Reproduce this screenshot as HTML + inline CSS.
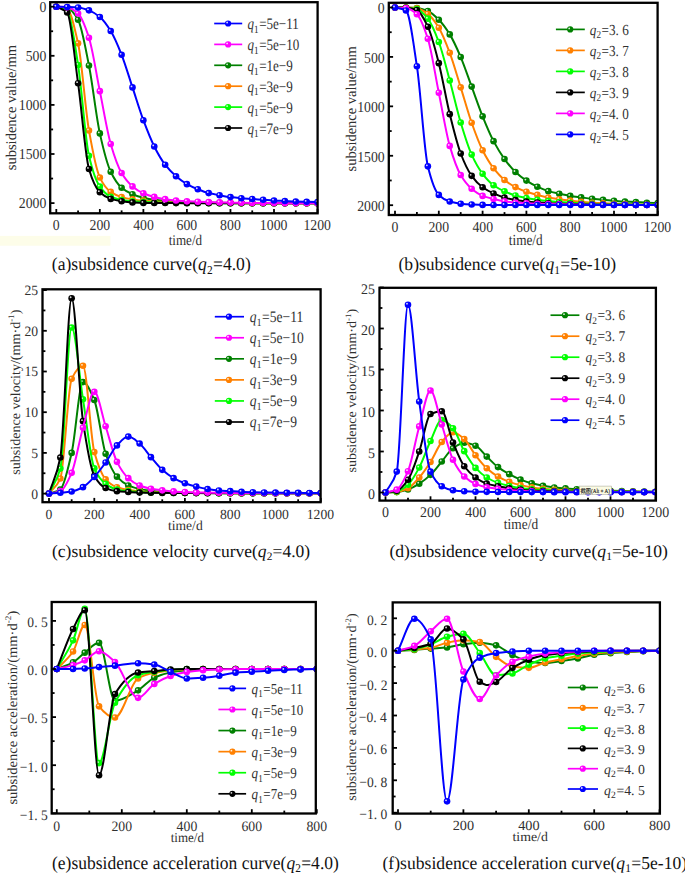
<!DOCTYPE html>
<html><head><meta charset="utf-8"><style>
html,body{margin:0;padding:0;background:#fff;}
svg{display:block;}
text{font-family:"Liberation Serif",serif;text-rendering:geometricPrecision;-webkit-font-smoothing:antialiased;}
</style></head><body>
<svg width="685" height="873" viewBox="0 0 685 873">
<rect x="0" y="0" width="685" height="873" fill="#fff"/>
<rect x="0" y="235.9" width="110.4" height="9.8" fill="#fdfde9"/>
<clipPath id="ca"><rect x="50.20" y="2.20" width="267.40" height="211.10"/></clipPath>
<g clip-path="url(#ca)">
<path d="M56.30,6.70 C59.93,7.03 63.56,7.08 67.19,7.68 C70.81,8.29 74.44,13.39 78.07,19.76 C81.70,26.13 85.33,47.30 88.95,65.52 C92.58,83.74 96.21,117.03 99.84,133.38 C103.47,149.73 107.10,164.24 110.72,171.77 C114.35,179.31 117.98,184.71 121.61,187.78 C125.24,190.86 128.87,192.76 132.50,194.26 C136.12,195.76 139.75,196.87 143.38,197.70 C147.01,198.53 150.64,199.20 154.26,199.66 C157.89,200.13 161.52,200.46 165.15,200.74 C168.78,201.02 172.41,201.22 176.03,201.43 C179.66,201.64 183.29,201.87 186.92,202.03 C190.55,202.19 194.18,202.32 197.81,202.43 C201.43,202.54 205.06,202.62 208.69,202.69 C212.32,202.76 215.95,202.82 219.57,202.86 C223.20,202.91 226.83,202.95 230.46,202.98 C234.09,203.01 237.72,203.03 241.35,203.05 C244.97,203.07 248.60,203.09 252.23,203.10 C255.86,203.12 259.49,203.13 263.12,203.14 C266.74,203.14 270.37,203.15 274.00,203.16 C277.63,203.16 281.26,203.17 284.88,203.17 C288.51,203.17 292.14,203.18 295.77,203.18 C299.40,203.18 303.03,203.18 306.66,203.19 C310.28,203.19 313.91,203.19 317.54,203.19" fill="none" stroke="#008000" stroke-width="2.0" stroke-linejoin="round" stroke-linecap="round"/>
<circle cx="56.30" cy="6.70" r="3.3" fill="#008000"/><circle cx="55.30" cy="5.70" r="0.9" fill="#ffffff" opacity="0.85"/>
<circle cx="67.19" cy="7.68" r="3.3" fill="#008000"/><circle cx="66.19" cy="6.68" r="0.9" fill="#ffffff" opacity="0.85"/>
<circle cx="78.07" cy="19.76" r="3.3" fill="#008000"/><circle cx="77.07" cy="18.76" r="0.9" fill="#ffffff" opacity="0.85"/>
<circle cx="88.95" cy="65.52" r="3.3" fill="#008000"/><circle cx="87.95" cy="64.52" r="0.9" fill="#ffffff" opacity="0.85"/>
<circle cx="99.84" cy="133.38" r="3.3" fill="#008000"/><circle cx="98.84" cy="132.38" r="0.9" fill="#ffffff" opacity="0.85"/>
<circle cx="110.72" cy="171.77" r="3.3" fill="#008000"/><circle cx="109.72" cy="170.77" r="0.9" fill="#ffffff" opacity="0.85"/>
<circle cx="121.61" cy="187.78" r="3.3" fill="#008000"/><circle cx="120.61" cy="186.78" r="0.9" fill="#ffffff" opacity="0.85"/>
<circle cx="132.50" cy="194.26" r="3.3" fill="#008000"/><circle cx="131.50" cy="193.26" r="0.9" fill="#ffffff" opacity="0.85"/>
<circle cx="143.38" cy="197.70" r="3.3" fill="#008000"/><circle cx="142.38" cy="196.70" r="0.9" fill="#ffffff" opacity="0.85"/>
<circle cx="154.26" cy="199.66" r="3.3" fill="#008000"/><circle cx="153.26" cy="198.66" r="0.9" fill="#ffffff" opacity="0.85"/>
<circle cx="165.15" cy="200.74" r="3.3" fill="#008000"/><circle cx="164.15" cy="199.74" r="0.9" fill="#ffffff" opacity="0.85"/>
<circle cx="176.03" cy="201.43" r="3.3" fill="#008000"/><circle cx="175.03" cy="200.43" r="0.9" fill="#ffffff" opacity="0.85"/>
<circle cx="186.92" cy="202.03" r="3.3" fill="#008000"/><circle cx="185.92" cy="201.03" r="0.9" fill="#ffffff" opacity="0.85"/>
<circle cx="197.81" cy="202.43" r="3.3" fill="#008000"/><circle cx="196.81" cy="201.43" r="0.9" fill="#ffffff" opacity="0.85"/>
<circle cx="208.69" cy="202.69" r="3.3" fill="#008000"/><circle cx="207.69" cy="201.69" r="0.9" fill="#ffffff" opacity="0.85"/>
<circle cx="219.57" cy="202.86" r="3.3" fill="#008000"/><circle cx="218.57" cy="201.86" r="0.9" fill="#ffffff" opacity="0.85"/>
<circle cx="230.46" cy="202.98" r="3.3" fill="#008000"/><circle cx="229.46" cy="201.98" r="0.9" fill="#ffffff" opacity="0.85"/>
<circle cx="241.35" cy="203.05" r="3.3" fill="#008000"/><circle cx="240.35" cy="202.05" r="0.9" fill="#ffffff" opacity="0.85"/>
<circle cx="252.23" cy="203.10" r="3.3" fill="#008000"/><circle cx="251.23" cy="202.10" r="0.9" fill="#ffffff" opacity="0.85"/>
<circle cx="263.12" cy="203.14" r="3.3" fill="#008000"/><circle cx="262.12" cy="202.14" r="0.9" fill="#ffffff" opacity="0.85"/>
<circle cx="274.00" cy="203.16" r="3.3" fill="#008000"/><circle cx="273.00" cy="202.16" r="0.9" fill="#ffffff" opacity="0.85"/>
<circle cx="284.88" cy="203.17" r="3.3" fill="#008000"/><circle cx="283.88" cy="202.17" r="0.9" fill="#ffffff" opacity="0.85"/>
<circle cx="295.77" cy="203.18" r="3.3" fill="#008000"/><circle cx="294.77" cy="202.18" r="0.9" fill="#ffffff" opacity="0.85"/>
<circle cx="306.66" cy="203.19" r="3.3" fill="#008000"/><circle cx="305.66" cy="202.19" r="0.9" fill="#ffffff" opacity="0.85"/>
<circle cx="317.54" cy="203.19" r="3.3" fill="#008000"/><circle cx="316.54" cy="202.19" r="0.9" fill="#ffffff" opacity="0.85"/>
<path d="M56.30,6.70 C59.93,7.52 63.56,7.63 67.19,9.16 C70.81,10.68 74.44,26.97 78.07,43.33 C81.70,59.69 85.33,110.04 88.95,130.43 C92.58,150.82 96.21,170.24 99.84,177.57 C103.47,184.90 107.10,189.36 110.72,191.91 C114.35,194.45 117.98,196.06 121.61,197.11 C125.24,198.16 128.87,198.82 132.50,199.37 C136.12,199.91 139.75,200.32 143.38,200.64 C147.01,200.97 150.64,201.20 154.26,201.43 C157.89,201.66 161.52,201.87 165.15,202.03 C168.78,202.19 172.41,202.32 176.03,202.43 C179.66,202.54 183.29,202.62 186.92,202.69 C190.55,202.76 194.18,202.82 197.81,202.86 C201.43,202.91 205.06,202.95 208.69,202.98 C212.32,203.01 215.95,203.03 219.57,203.05 C223.20,203.07 226.83,203.09 230.46,203.10 C234.09,203.12 237.72,203.13 241.35,203.14 C244.97,203.14 248.60,203.15 252.23,203.16 C255.86,203.16 259.49,203.17 263.12,203.17 C266.74,203.17 270.37,203.18 274.00,203.18 C277.63,203.18 281.26,203.18 284.88,203.19 C288.51,203.19 292.14,203.19 295.77,203.19 C299.40,203.19 303.03,203.19 306.66,203.19 C310.28,203.19 313.91,203.19 317.54,203.19" fill="none" stroke="#ff8000" stroke-width="2.0" stroke-linejoin="round" stroke-linecap="round"/>
<circle cx="56.30" cy="6.70" r="3.3" fill="#ff8000"/><circle cx="55.30" cy="5.70" r="0.9" fill="#ffffff" opacity="0.85"/>
<circle cx="67.19" cy="9.16" r="3.3" fill="#ff8000"/><circle cx="66.19" cy="8.16" r="0.9" fill="#ffffff" opacity="0.85"/>
<circle cx="78.07" cy="43.33" r="3.3" fill="#ff8000"/><circle cx="77.07" cy="42.33" r="0.9" fill="#ffffff" opacity="0.85"/>
<circle cx="88.95" cy="130.43" r="3.3" fill="#ff8000"/><circle cx="87.95" cy="129.43" r="0.9" fill="#ffffff" opacity="0.85"/>
<circle cx="99.84" cy="177.57" r="3.3" fill="#ff8000"/><circle cx="98.84" cy="176.57" r="0.9" fill="#ffffff" opacity="0.85"/>
<circle cx="110.72" cy="191.91" r="3.3" fill="#ff8000"/><circle cx="109.72" cy="190.91" r="0.9" fill="#ffffff" opacity="0.85"/>
<circle cx="121.61" cy="197.11" r="3.3" fill="#ff8000"/><circle cx="120.61" cy="196.11" r="0.9" fill="#ffffff" opacity="0.85"/>
<circle cx="132.50" cy="199.37" r="3.3" fill="#ff8000"/><circle cx="131.50" cy="198.37" r="0.9" fill="#ffffff" opacity="0.85"/>
<circle cx="143.38" cy="200.64" r="3.3" fill="#ff8000"/><circle cx="142.38" cy="199.64" r="0.9" fill="#ffffff" opacity="0.85"/>
<circle cx="154.26" cy="201.43" r="3.3" fill="#ff8000"/><circle cx="153.26" cy="200.43" r="0.9" fill="#ffffff" opacity="0.85"/>
<circle cx="165.15" cy="202.03" r="3.3" fill="#ff8000"/><circle cx="164.15" cy="201.03" r="0.9" fill="#ffffff" opacity="0.85"/>
<circle cx="176.03" cy="202.43" r="3.3" fill="#ff8000"/><circle cx="175.03" cy="201.43" r="0.9" fill="#ffffff" opacity="0.85"/>
<circle cx="186.92" cy="202.69" r="3.3" fill="#ff8000"/><circle cx="185.92" cy="201.69" r="0.9" fill="#ffffff" opacity="0.85"/>
<circle cx="197.81" cy="202.86" r="3.3" fill="#ff8000"/><circle cx="196.81" cy="201.86" r="0.9" fill="#ffffff" opacity="0.85"/>
<circle cx="208.69" cy="202.98" r="3.3" fill="#ff8000"/><circle cx="207.69" cy="201.98" r="0.9" fill="#ffffff" opacity="0.85"/>
<circle cx="219.57" cy="203.05" r="3.3" fill="#ff8000"/><circle cx="218.57" cy="202.05" r="0.9" fill="#ffffff" opacity="0.85"/>
<circle cx="230.46" cy="203.10" r="3.3" fill="#ff8000"/><circle cx="229.46" cy="202.10" r="0.9" fill="#ffffff" opacity="0.85"/>
<circle cx="241.35" cy="203.14" r="3.3" fill="#ff8000"/><circle cx="240.35" cy="202.14" r="0.9" fill="#ffffff" opacity="0.85"/>
<circle cx="252.23" cy="203.16" r="3.3" fill="#ff8000"/><circle cx="251.23" cy="202.16" r="0.9" fill="#ffffff" opacity="0.85"/>
<circle cx="263.12" cy="203.17" r="3.3" fill="#ff8000"/><circle cx="262.12" cy="202.17" r="0.9" fill="#ffffff" opacity="0.85"/>
<circle cx="274.00" cy="203.18" r="3.3" fill="#ff8000"/><circle cx="273.00" cy="202.18" r="0.9" fill="#ffffff" opacity="0.85"/>
<circle cx="284.88" cy="203.19" r="3.3" fill="#ff8000"/><circle cx="283.88" cy="202.19" r="0.9" fill="#ffffff" opacity="0.85"/>
<circle cx="295.77" cy="203.19" r="3.3" fill="#ff8000"/><circle cx="294.77" cy="202.19" r="0.9" fill="#ffffff" opacity="0.85"/>
<circle cx="306.66" cy="203.19" r="3.3" fill="#ff8000"/><circle cx="305.66" cy="202.19" r="0.9" fill="#ffffff" opacity="0.85"/>
<circle cx="317.54" cy="203.19" r="3.3" fill="#ff8000"/><circle cx="316.54" cy="202.19" r="0.9" fill="#ffffff" opacity="0.85"/>
<path d="M56.30,6.70 C59.93,8.01 63.56,8.19 67.19,10.63 C70.81,13.07 74.44,42.28 78.07,64.93 C81.70,87.59 85.33,140.42 88.95,155.77 C92.58,171.11 96.21,181.52 99.84,186.60 C103.47,191.68 107.10,195.08 110.72,196.72 C114.35,198.35 117.98,199.31 121.61,199.96 C125.24,200.60 128.87,201.06 132.50,201.33 C136.12,201.61 139.75,201.75 143.38,201.92 C147.01,202.09 150.64,202.24 154.26,202.36 C157.89,202.47 161.52,202.57 165.15,202.64 C168.78,202.72 172.41,202.78 176.03,202.83 C179.66,202.88 183.29,202.92 186.92,202.96 C190.55,202.99 194.18,203.02 197.81,203.04 C201.43,203.06 205.06,203.08 208.69,203.09 C212.32,203.11 215.95,203.12 219.57,203.13 C223.20,203.14 226.83,203.15 230.46,203.15 C234.09,203.16 237.72,203.16 241.35,203.17 C244.97,203.17 248.60,203.18 252.23,203.18 C255.86,203.18 259.49,203.18 263.12,203.19 C266.74,203.19 270.37,203.19 274.00,203.19 C277.63,203.19 281.26,203.19 284.88,203.19 C288.51,203.19 292.14,203.19 295.77,203.19 C299.40,203.19 303.03,203.20 306.66,203.20 C310.28,203.20 313.91,203.20 317.54,203.20" fill="none" stroke="#00ff00" stroke-width="2.0" stroke-linejoin="round" stroke-linecap="round"/>
<circle cx="56.30" cy="6.70" r="3.3" fill="#00ff00"/><circle cx="55.30" cy="5.70" r="0.9" fill="#ffffff" opacity="0.85"/>
<circle cx="67.19" cy="10.63" r="3.3" fill="#00ff00"/><circle cx="66.19" cy="9.63" r="0.9" fill="#ffffff" opacity="0.85"/>
<circle cx="78.07" cy="64.93" r="3.3" fill="#00ff00"/><circle cx="77.07" cy="63.93" r="0.9" fill="#ffffff" opacity="0.85"/>
<circle cx="88.95" cy="155.77" r="3.3" fill="#00ff00"/><circle cx="87.95" cy="154.77" r="0.9" fill="#ffffff" opacity="0.85"/>
<circle cx="99.84" cy="186.60" r="3.3" fill="#00ff00"/><circle cx="98.84" cy="185.60" r="0.9" fill="#ffffff" opacity="0.85"/>
<circle cx="110.72" cy="196.72" r="3.3" fill="#00ff00"/><circle cx="109.72" cy="195.72" r="0.9" fill="#ffffff" opacity="0.85"/>
<circle cx="121.61" cy="199.96" r="3.3" fill="#00ff00"/><circle cx="120.61" cy="198.96" r="0.9" fill="#ffffff" opacity="0.85"/>
<circle cx="132.50" cy="201.33" r="3.3" fill="#00ff00"/><circle cx="131.50" cy="200.33" r="0.9" fill="#ffffff" opacity="0.85"/>
<circle cx="143.38" cy="201.92" r="3.3" fill="#00ff00"/><circle cx="142.38" cy="200.92" r="0.9" fill="#ffffff" opacity="0.85"/>
<circle cx="154.26" cy="202.36" r="3.3" fill="#00ff00"/><circle cx="153.26" cy="201.36" r="0.9" fill="#ffffff" opacity="0.85"/>
<circle cx="165.15" cy="202.64" r="3.3" fill="#00ff00"/><circle cx="164.15" cy="201.64" r="0.9" fill="#ffffff" opacity="0.85"/>
<circle cx="176.03" cy="202.83" r="3.3" fill="#00ff00"/><circle cx="175.03" cy="201.83" r="0.9" fill="#ffffff" opacity="0.85"/>
<circle cx="186.92" cy="202.96" r="3.3" fill="#00ff00"/><circle cx="185.92" cy="201.96" r="0.9" fill="#ffffff" opacity="0.85"/>
<circle cx="197.81" cy="203.04" r="3.3" fill="#00ff00"/><circle cx="196.81" cy="202.04" r="0.9" fill="#ffffff" opacity="0.85"/>
<circle cx="208.69" cy="203.09" r="3.3" fill="#00ff00"/><circle cx="207.69" cy="202.09" r="0.9" fill="#ffffff" opacity="0.85"/>
<circle cx="219.57" cy="203.13" r="3.3" fill="#00ff00"/><circle cx="218.57" cy="202.13" r="0.9" fill="#ffffff" opacity="0.85"/>
<circle cx="230.46" cy="203.15" r="3.3" fill="#00ff00"/><circle cx="229.46" cy="202.15" r="0.9" fill="#ffffff" opacity="0.85"/>
<circle cx="241.35" cy="203.17" r="3.3" fill="#00ff00"/><circle cx="240.35" cy="202.17" r="0.9" fill="#ffffff" opacity="0.85"/>
<circle cx="252.23" cy="203.18" r="3.3" fill="#00ff00"/><circle cx="251.23" cy="202.18" r="0.9" fill="#ffffff" opacity="0.85"/>
<circle cx="263.12" cy="203.19" r="3.3" fill="#00ff00"/><circle cx="262.12" cy="202.19" r="0.9" fill="#ffffff" opacity="0.85"/>
<circle cx="274.00" cy="203.19" r="3.3" fill="#00ff00"/><circle cx="273.00" cy="202.19" r="0.9" fill="#ffffff" opacity="0.85"/>
<circle cx="284.88" cy="203.19" r="3.3" fill="#00ff00"/><circle cx="283.88" cy="202.19" r="0.9" fill="#ffffff" opacity="0.85"/>
<circle cx="295.77" cy="203.19" r="3.3" fill="#00ff00"/><circle cx="294.77" cy="202.19" r="0.9" fill="#ffffff" opacity="0.85"/>
<circle cx="306.66" cy="203.20" r="3.3" fill="#00ff00"/><circle cx="305.66" cy="202.20" r="0.9" fill="#ffffff" opacity="0.85"/>
<circle cx="317.54" cy="203.20" r="3.3" fill="#00ff00"/><circle cx="316.54" cy="202.20" r="0.9" fill="#ffffff" opacity="0.85"/>
<path d="M56.30,6.70 C59.93,8.63 63.56,8.92 67.19,12.49 C70.81,16.06 74.44,57.37 78.07,83.20 C81.70,109.03 85.33,156.72 88.95,168.93 C92.58,181.13 96.21,188.74 99.84,192.20 C103.47,195.66 107.10,197.72 110.72,198.88 C114.35,200.04 117.98,200.71 121.61,201.23 C125.24,201.76 128.87,202.18 132.50,202.41 C136.12,202.64 139.75,202.85 143.38,202.90 C147.01,202.96 150.64,202.98 154.26,203.00 C157.89,203.03 161.52,203.05 165.15,203.07 C168.78,203.09 172.41,203.10 176.03,203.11 C179.66,203.13 183.29,203.13 186.92,203.14 C190.55,203.15 194.18,203.16 197.81,203.16 C201.43,203.17 205.06,203.17 208.69,203.17 C212.32,203.18 215.95,203.18 219.57,203.18 C223.20,203.18 226.83,203.19 230.46,203.19 C234.09,203.19 237.72,203.19 241.35,203.19 C244.97,203.19 248.60,203.19 252.23,203.19 C255.86,203.19 259.49,203.19 263.12,203.20 C266.74,203.20 270.37,203.20 274.00,203.20 C277.63,203.20 281.26,203.20 284.88,203.20 C288.51,203.20 292.14,203.20 295.77,203.20 C299.40,203.20 303.03,203.20 306.66,203.20 C310.28,203.20 313.91,203.20 317.54,203.20" fill="none" stroke="#000000" stroke-width="2.0" stroke-linejoin="round" stroke-linecap="round"/>
<circle cx="56.30" cy="6.70" r="3.3" fill="#000000"/><circle cx="55.30" cy="5.70" r="0.9" fill="#ffffff" opacity="0.85"/>
<circle cx="67.19" cy="12.49" r="3.3" fill="#000000"/><circle cx="66.19" cy="11.49" r="0.9" fill="#ffffff" opacity="0.85"/>
<circle cx="78.07" cy="83.20" r="3.3" fill="#000000"/><circle cx="77.07" cy="82.20" r="0.9" fill="#ffffff" opacity="0.85"/>
<circle cx="88.95" cy="168.93" r="3.3" fill="#000000"/><circle cx="87.95" cy="167.93" r="0.9" fill="#ffffff" opacity="0.85"/>
<circle cx="99.84" cy="192.20" r="3.3" fill="#000000"/><circle cx="98.84" cy="191.20" r="0.9" fill="#ffffff" opacity="0.85"/>
<circle cx="110.72" cy="198.88" r="3.3" fill="#000000"/><circle cx="109.72" cy="197.88" r="0.9" fill="#ffffff" opacity="0.85"/>
<circle cx="121.61" cy="201.23" r="3.3" fill="#000000"/><circle cx="120.61" cy="200.23" r="0.9" fill="#ffffff" opacity="0.85"/>
<circle cx="132.50" cy="202.41" r="3.3" fill="#000000"/><circle cx="131.50" cy="201.41" r="0.9" fill="#ffffff" opacity="0.85"/>
<circle cx="143.38" cy="202.90" r="3.3" fill="#000000"/><circle cx="142.38" cy="201.90" r="0.9" fill="#ffffff" opacity="0.85"/>
<circle cx="154.26" cy="203.00" r="3.3" fill="#000000"/><circle cx="153.26" cy="202.00" r="0.9" fill="#ffffff" opacity="0.85"/>
<circle cx="165.15" cy="203.07" r="3.3" fill="#000000"/><circle cx="164.15" cy="202.07" r="0.9" fill="#ffffff" opacity="0.85"/>
<circle cx="176.03" cy="203.11" r="3.3" fill="#000000"/><circle cx="175.03" cy="202.11" r="0.9" fill="#ffffff" opacity="0.85"/>
<circle cx="186.92" cy="203.14" r="3.3" fill="#000000"/><circle cx="185.92" cy="202.14" r="0.9" fill="#ffffff" opacity="0.85"/>
<circle cx="197.81" cy="203.16" r="3.3" fill="#000000"/><circle cx="196.81" cy="202.16" r="0.9" fill="#ffffff" opacity="0.85"/>
<circle cx="208.69" cy="203.17" r="3.3" fill="#000000"/><circle cx="207.69" cy="202.17" r="0.9" fill="#ffffff" opacity="0.85"/>
<circle cx="219.57" cy="203.18" r="3.3" fill="#000000"/><circle cx="218.57" cy="202.18" r="0.9" fill="#ffffff" opacity="0.85"/>
<circle cx="230.46" cy="203.19" r="3.3" fill="#000000"/><circle cx="229.46" cy="202.19" r="0.9" fill="#ffffff" opacity="0.85"/>
<circle cx="241.35" cy="203.19" r="3.3" fill="#000000"/><circle cx="240.35" cy="202.19" r="0.9" fill="#ffffff" opacity="0.85"/>
<circle cx="252.23" cy="203.19" r="3.3" fill="#000000"/><circle cx="251.23" cy="202.19" r="0.9" fill="#ffffff" opacity="0.85"/>
<circle cx="263.12" cy="203.20" r="3.3" fill="#000000"/><circle cx="262.12" cy="202.20" r="0.9" fill="#ffffff" opacity="0.85"/>
<circle cx="274.00" cy="203.20" r="3.3" fill="#000000"/><circle cx="273.00" cy="202.20" r="0.9" fill="#ffffff" opacity="0.85"/>
<circle cx="284.88" cy="203.20" r="3.3" fill="#000000"/><circle cx="283.88" cy="202.20" r="0.9" fill="#ffffff" opacity="0.85"/>
<circle cx="295.77" cy="203.20" r="3.3" fill="#000000"/><circle cx="294.77" cy="202.20" r="0.9" fill="#ffffff" opacity="0.85"/>
<circle cx="306.66" cy="203.20" r="3.3" fill="#000000"/><circle cx="305.66" cy="202.20" r="0.9" fill="#ffffff" opacity="0.85"/>
<circle cx="317.54" cy="203.20" r="3.3" fill="#000000"/><circle cx="316.54" cy="202.20" r="0.9" fill="#ffffff" opacity="0.85"/>
<path d="M56.30,6.70 C59.93,6.86 63.56,6.89 67.19,7.19 C70.81,7.49 74.44,10.21 78.07,13.57 C81.70,16.94 85.33,26.64 88.95,37.73 C92.58,48.82 96.21,73.44 99.84,91.15 C103.47,108.86 107.10,131.48 110.72,143.98 C114.35,156.48 117.98,166.95 121.61,173.05 C125.24,179.15 128.87,183.38 132.50,186.41 C136.12,189.43 139.75,191.70 143.38,193.28 C147.01,194.86 150.64,195.98 154.26,196.91 C157.89,197.84 161.52,198.60 165.15,199.17 C168.78,199.74 172.41,200.21 176.03,200.55 C179.66,200.88 183.29,201.16 186.92,201.33 C190.55,201.51 194.18,201.59 197.81,201.73 C201.43,201.86 205.06,202.01 208.69,202.12 C212.32,202.23 215.95,202.33 219.57,202.41 C223.20,202.49 226.83,202.54 230.46,202.61 C234.09,202.67 237.72,202.76 241.35,202.81 C244.97,202.85 248.60,202.87 252.23,202.90 C255.86,202.94 259.49,202.97 263.12,203.00 C266.74,203.03 270.37,203.07 274.00,203.10 C277.63,203.13 281.26,203.17 284.88,203.20 C288.51,203.23 292.14,203.30 295.77,203.30 C299.40,203.30 303.03,203.30 306.66,203.30 C310.28,203.30 313.91,203.30 317.54,203.30" fill="none" stroke="#ff00ff" stroke-width="2.0" stroke-linejoin="round" stroke-linecap="round"/>
<circle cx="56.30" cy="6.70" r="3.3" fill="#ff00ff"/><circle cx="55.30" cy="5.70" r="0.9" fill="#ffffff" opacity="0.85"/>
<circle cx="67.19" cy="7.19" r="3.3" fill="#ff00ff"/><circle cx="66.19" cy="6.19" r="0.9" fill="#ffffff" opacity="0.85"/>
<circle cx="78.07" cy="13.57" r="3.3" fill="#ff00ff"/><circle cx="77.07" cy="12.57" r="0.9" fill="#ffffff" opacity="0.85"/>
<circle cx="88.95" cy="37.73" r="3.3" fill="#ff00ff"/><circle cx="87.95" cy="36.73" r="0.9" fill="#ffffff" opacity="0.85"/>
<circle cx="99.84" cy="91.15" r="3.3" fill="#ff00ff"/><circle cx="98.84" cy="90.15" r="0.9" fill="#ffffff" opacity="0.85"/>
<circle cx="110.72" cy="143.98" r="3.3" fill="#ff00ff"/><circle cx="109.72" cy="142.98" r="0.9" fill="#ffffff" opacity="0.85"/>
<circle cx="121.61" cy="173.05" r="3.3" fill="#ff00ff"/><circle cx="120.61" cy="172.05" r="0.9" fill="#ffffff" opacity="0.85"/>
<circle cx="132.50" cy="186.41" r="3.3" fill="#ff00ff"/><circle cx="131.50" cy="185.41" r="0.9" fill="#ffffff" opacity="0.85"/>
<circle cx="143.38" cy="193.28" r="3.3" fill="#ff00ff"/><circle cx="142.38" cy="192.28" r="0.9" fill="#ffffff" opacity="0.85"/>
<circle cx="154.26" cy="196.91" r="3.3" fill="#ff00ff"/><circle cx="153.26" cy="195.91" r="0.9" fill="#ffffff" opacity="0.85"/>
<circle cx="165.15" cy="199.17" r="3.3" fill="#ff00ff"/><circle cx="164.15" cy="198.17" r="0.9" fill="#ffffff" opacity="0.85"/>
<circle cx="176.03" cy="200.55" r="3.3" fill="#ff00ff"/><circle cx="175.03" cy="199.55" r="0.9" fill="#ffffff" opacity="0.85"/>
<circle cx="186.92" cy="201.33" r="3.3" fill="#ff00ff"/><circle cx="185.92" cy="200.33" r="0.9" fill="#ffffff" opacity="0.85"/>
<circle cx="197.81" cy="201.73" r="3.3" fill="#ff00ff"/><circle cx="196.81" cy="200.73" r="0.9" fill="#ffffff" opacity="0.85"/>
<circle cx="208.69" cy="202.12" r="3.3" fill="#ff00ff"/><circle cx="207.69" cy="201.12" r="0.9" fill="#ffffff" opacity="0.85"/>
<circle cx="219.57" cy="202.41" r="3.3" fill="#ff00ff"/><circle cx="218.57" cy="201.41" r="0.9" fill="#ffffff" opacity="0.85"/>
<circle cx="230.46" cy="202.61" r="3.3" fill="#ff00ff"/><circle cx="229.46" cy="201.61" r="0.9" fill="#ffffff" opacity="0.85"/>
<circle cx="241.35" cy="202.81" r="3.3" fill="#ff00ff"/><circle cx="240.35" cy="201.81" r="0.9" fill="#ffffff" opacity="0.85"/>
<circle cx="252.23" cy="202.90" r="3.3" fill="#ff00ff"/><circle cx="251.23" cy="201.90" r="0.9" fill="#ffffff" opacity="0.85"/>
<circle cx="263.12" cy="203.00" r="3.3" fill="#ff00ff"/><circle cx="262.12" cy="202.00" r="0.9" fill="#ffffff" opacity="0.85"/>
<circle cx="274.00" cy="203.10" r="3.3" fill="#ff00ff"/><circle cx="273.00" cy="202.10" r="0.9" fill="#ffffff" opacity="0.85"/>
<circle cx="284.88" cy="203.20" r="3.3" fill="#ff00ff"/><circle cx="283.88" cy="202.20" r="0.9" fill="#ffffff" opacity="0.85"/>
<circle cx="295.77" cy="203.30" r="3.3" fill="#ff00ff"/><circle cx="294.77" cy="202.30" r="0.9" fill="#ffffff" opacity="0.85"/>
<circle cx="306.66" cy="203.30" r="3.3" fill="#ff00ff"/><circle cx="305.66" cy="202.30" r="0.9" fill="#ffffff" opacity="0.85"/>
<circle cx="317.54" cy="203.30" r="3.3" fill="#ff00ff"/><circle cx="316.54" cy="202.30" r="0.9" fill="#ffffff" opacity="0.85"/>
<path d="M56.30,6.70 C59.93,6.80 63.56,6.87 67.19,6.99 C70.81,7.12 74.44,7.21 78.07,7.49 C81.70,7.76 85.33,9.00 88.95,10.33 C92.58,11.66 96.21,13.99 99.84,17.01 C103.47,20.03 107.10,25.17 110.72,31.05 C114.35,36.94 117.98,45.65 121.61,54.82 C125.24,63.98 128.87,76.52 132.50,87.42 C136.12,98.32 139.75,110.51 143.38,120.22 C147.01,129.93 150.64,139.26 154.26,146.44 C157.89,153.62 161.52,159.98 165.15,164.70 C168.78,169.43 172.41,173.17 176.03,176.29 C179.66,179.41 183.29,182.08 186.92,184.15 C190.55,186.21 194.18,187.79 197.81,189.25 C201.43,190.71 205.06,192.16 208.69,193.08 C212.32,194.00 215.95,194.58 219.57,195.24 C223.20,195.91 226.83,196.65 230.46,197.11 C234.09,197.57 237.72,197.89 241.35,198.19 C244.97,198.49 248.60,198.71 252.23,198.98 C255.86,199.24 259.49,199.50 263.12,199.76 C266.74,200.02 270.37,200.35 274.00,200.55 C277.63,200.75 281.26,200.87 284.88,201.04 C288.51,201.20 292.14,201.41 295.77,201.53 C299.40,201.65 303.03,201.73 306.66,201.82 C310.28,201.92 313.91,202.02 317.54,202.12" fill="none" stroke="#0000ff" stroke-width="2.0" stroke-linejoin="round" stroke-linecap="round"/>
<circle cx="56.30" cy="6.70" r="3.3" fill="#0000ff"/><circle cx="55.30" cy="5.70" r="0.9" fill="#ffffff" opacity="0.85"/>
<circle cx="67.19" cy="6.99" r="3.3" fill="#0000ff"/><circle cx="66.19" cy="5.99" r="0.9" fill="#ffffff" opacity="0.85"/>
<circle cx="78.07" cy="7.49" r="3.3" fill="#0000ff"/><circle cx="77.07" cy="6.49" r="0.9" fill="#ffffff" opacity="0.85"/>
<circle cx="88.95" cy="10.33" r="3.3" fill="#0000ff"/><circle cx="87.95" cy="9.33" r="0.9" fill="#ffffff" opacity="0.85"/>
<circle cx="99.84" cy="17.01" r="3.3" fill="#0000ff"/><circle cx="98.84" cy="16.01" r="0.9" fill="#ffffff" opacity="0.85"/>
<circle cx="110.72" cy="31.05" r="3.3" fill="#0000ff"/><circle cx="109.72" cy="30.05" r="0.9" fill="#ffffff" opacity="0.85"/>
<circle cx="121.61" cy="54.82" r="3.3" fill="#0000ff"/><circle cx="120.61" cy="53.82" r="0.9" fill="#ffffff" opacity="0.85"/>
<circle cx="132.50" cy="87.42" r="3.3" fill="#0000ff"/><circle cx="131.50" cy="86.42" r="0.9" fill="#ffffff" opacity="0.85"/>
<circle cx="143.38" cy="120.22" r="3.3" fill="#0000ff"/><circle cx="142.38" cy="119.22" r="0.9" fill="#ffffff" opacity="0.85"/>
<circle cx="154.26" cy="146.44" r="3.3" fill="#0000ff"/><circle cx="153.26" cy="145.44" r="0.9" fill="#ffffff" opacity="0.85"/>
<circle cx="165.15" cy="164.70" r="3.3" fill="#0000ff"/><circle cx="164.15" cy="163.70" r="0.9" fill="#ffffff" opacity="0.85"/>
<circle cx="176.03" cy="176.29" r="3.3" fill="#0000ff"/><circle cx="175.03" cy="175.29" r="0.9" fill="#ffffff" opacity="0.85"/>
<circle cx="186.92" cy="184.15" r="3.3" fill="#0000ff"/><circle cx="185.92" cy="183.15" r="0.9" fill="#ffffff" opacity="0.85"/>
<circle cx="197.81" cy="189.25" r="3.3" fill="#0000ff"/><circle cx="196.81" cy="188.25" r="0.9" fill="#ffffff" opacity="0.85"/>
<circle cx="208.69" cy="193.08" r="3.3" fill="#0000ff"/><circle cx="207.69" cy="192.08" r="0.9" fill="#ffffff" opacity="0.85"/>
<circle cx="219.57" cy="195.24" r="3.3" fill="#0000ff"/><circle cx="218.57" cy="194.24" r="0.9" fill="#ffffff" opacity="0.85"/>
<circle cx="230.46" cy="197.11" r="3.3" fill="#0000ff"/><circle cx="229.46" cy="196.11" r="0.9" fill="#ffffff" opacity="0.85"/>
<circle cx="241.35" cy="198.19" r="3.3" fill="#0000ff"/><circle cx="240.35" cy="197.19" r="0.9" fill="#ffffff" opacity="0.85"/>
<circle cx="252.23" cy="198.98" r="3.3" fill="#0000ff"/><circle cx="251.23" cy="197.98" r="0.9" fill="#ffffff" opacity="0.85"/>
<circle cx="263.12" cy="199.76" r="3.3" fill="#0000ff"/><circle cx="262.12" cy="198.76" r="0.9" fill="#ffffff" opacity="0.85"/>
<circle cx="274.00" cy="200.55" r="3.3" fill="#0000ff"/><circle cx="273.00" cy="199.55" r="0.9" fill="#ffffff" opacity="0.85"/>
<circle cx="284.88" cy="201.04" r="3.3" fill="#0000ff"/><circle cx="283.88" cy="200.04" r="0.9" fill="#ffffff" opacity="0.85"/>
<circle cx="295.77" cy="201.53" r="3.3" fill="#0000ff"/><circle cx="294.77" cy="200.53" r="0.9" fill="#ffffff" opacity="0.85"/>
<circle cx="306.66" cy="201.82" r="3.3" fill="#0000ff"/><circle cx="305.66" cy="200.82" r="0.9" fill="#ffffff" opacity="0.85"/>
<circle cx="317.54" cy="202.12" r="3.3" fill="#0000ff"/><circle cx="316.54" cy="201.12" r="0.9" fill="#ffffff" opacity="0.85"/>
</g>
<rect x="50.20" y="2.20" width="267.40" height="211.10" fill="none" stroke="#000" stroke-width="2.3"/>
<line x1="56.30" y1="213.30" x2="56.30" y2="209.00" stroke="#000" stroke-width="1.8"/>
<line x1="99.84" y1="213.30" x2="99.84" y2="209.00" stroke="#000" stroke-width="1.8"/>
<line x1="143.38" y1="213.30" x2="143.38" y2="209.00" stroke="#000" stroke-width="1.8"/>
<line x1="186.92" y1="213.30" x2="186.92" y2="209.00" stroke="#000" stroke-width="1.8"/>
<line x1="230.46" y1="213.30" x2="230.46" y2="209.00" stroke="#000" stroke-width="1.8"/>
<line x1="274.00" y1="213.30" x2="274.00" y2="209.00" stroke="#000" stroke-width="1.8"/>
<line x1="317.54" y1="213.30" x2="317.54" y2="209.00" stroke="#000" stroke-width="1.8"/>
<line x1="78.07" y1="213.30" x2="78.07" y2="210.40" stroke="#000" stroke-width="1.8"/>
<line x1="121.61" y1="213.30" x2="121.61" y2="210.40" stroke="#000" stroke-width="1.8"/>
<line x1="165.15" y1="213.30" x2="165.15" y2="210.40" stroke="#000" stroke-width="1.8"/>
<line x1="208.69" y1="213.30" x2="208.69" y2="210.40" stroke="#000" stroke-width="1.8"/>
<line x1="252.23" y1="213.30" x2="252.23" y2="210.40" stroke="#000" stroke-width="1.8"/>
<line x1="295.77" y1="213.30" x2="295.77" y2="210.40" stroke="#000" stroke-width="1.8"/>
<line x1="50.20" y1="6.70" x2="54.50" y2="6.70" stroke="#000" stroke-width="1.8"/>
<line x1="50.20" y1="55.80" x2="54.50" y2="55.80" stroke="#000" stroke-width="1.8"/>
<line x1="50.20" y1="104.90" x2="54.50" y2="104.90" stroke="#000" stroke-width="1.8"/>
<line x1="50.20" y1="154.00" x2="54.50" y2="154.00" stroke="#000" stroke-width="1.8"/>
<line x1="50.20" y1="203.10" x2="54.50" y2="203.10" stroke="#000" stroke-width="1.8"/>
<line x1="50.20" y1="31.25" x2="53.10" y2="31.25" stroke="#000" stroke-width="1.8"/>
<line x1="50.20" y1="80.35" x2="53.10" y2="80.35" stroke="#000" stroke-width="1.8"/>
<line x1="50.20" y1="129.45" x2="53.10" y2="129.45" stroke="#000" stroke-width="1.8"/>
<line x1="50.20" y1="178.55" x2="53.10" y2="178.55" stroke="#000" stroke-width="1.8"/>
<clipPath id="cb"><rect x="388.80" y="2.80" width="268.80" height="212.20"/></clipPath>
<g clip-path="url(#cb)">
<path d="M395.00,7.50 C398.65,7.53 402.30,7.55 405.95,7.60 C409.60,7.65 413.25,7.76 416.90,7.99 C420.55,8.23 424.20,9.48 427.85,10.96 C431.50,12.44 435.15,16.09 438.80,19.76 C442.45,23.42 446.10,28.46 449.75,34.39 C453.40,40.31 457.05,48.48 460.70,57.02 C464.35,65.57 468.00,76.70 471.65,86.58 C475.30,96.46 478.95,107.31 482.60,116.33 C486.25,125.35 489.90,134.21 493.55,141.15 C497.20,148.08 500.85,154.03 504.50,159.04 C508.15,164.05 511.80,168.54 515.45,171.99 C519.10,175.43 522.75,178.20 526.40,180.59 C530.05,182.97 533.70,185.00 537.35,186.72 C541.00,188.43 544.65,190.08 548.30,191.16 C551.95,192.25 555.60,192.95 559.25,193.73 C562.90,194.52 566.55,195.32 570.20,195.91 C573.85,196.50 577.50,196.91 581.15,197.39 C584.80,197.87 588.45,198.37 592.10,198.77 C595.75,199.18 599.40,199.54 603.05,199.86 C606.70,200.19 610.35,200.47 614.00,200.75 C617.65,201.03 621.30,201.34 624.95,201.54 C628.60,201.75 632.25,201.84 635.90,202.04 C639.55,202.23 643.20,202.56 646.85,202.73 C650.50,202.90 654.15,202.99 657.80,203.12" fill="none" stroke="#008000" stroke-width="2.0" stroke-linejoin="round" stroke-linecap="round"/>
<circle cx="395.00" cy="7.50" r="3.3" fill="#008000"/><circle cx="394.00" cy="6.50" r="0.9" fill="#ffffff" opacity="0.85"/>
<circle cx="405.95" cy="7.60" r="3.3" fill="#008000"/><circle cx="404.95" cy="6.60" r="0.9" fill="#ffffff" opacity="0.85"/>
<circle cx="416.90" cy="7.99" r="3.3" fill="#008000"/><circle cx="415.90" cy="6.99" r="0.9" fill="#ffffff" opacity="0.85"/>
<circle cx="427.85" cy="10.96" r="3.3" fill="#008000"/><circle cx="426.85" cy="9.96" r="0.9" fill="#ffffff" opacity="0.85"/>
<circle cx="438.80" cy="19.76" r="3.3" fill="#008000"/><circle cx="437.80" cy="18.76" r="0.9" fill="#ffffff" opacity="0.85"/>
<circle cx="449.75" cy="34.39" r="3.3" fill="#008000"/><circle cx="448.75" cy="33.39" r="0.9" fill="#ffffff" opacity="0.85"/>
<circle cx="460.70" cy="57.02" r="3.3" fill="#008000"/><circle cx="459.70" cy="56.02" r="0.9" fill="#ffffff" opacity="0.85"/>
<circle cx="471.65" cy="86.58" r="3.3" fill="#008000"/><circle cx="470.65" cy="85.58" r="0.9" fill="#ffffff" opacity="0.85"/>
<circle cx="482.60" cy="116.33" r="3.3" fill="#008000"/><circle cx="481.60" cy="115.33" r="0.9" fill="#ffffff" opacity="0.85"/>
<circle cx="493.55" cy="141.15" r="3.3" fill="#008000"/><circle cx="492.55" cy="140.15" r="0.9" fill="#ffffff" opacity="0.85"/>
<circle cx="504.50" cy="159.04" r="3.3" fill="#008000"/><circle cx="503.50" cy="158.04" r="0.9" fill="#ffffff" opacity="0.85"/>
<circle cx="515.45" cy="171.99" r="3.3" fill="#008000"/><circle cx="514.45" cy="170.99" r="0.9" fill="#ffffff" opacity="0.85"/>
<circle cx="526.40" cy="180.59" r="3.3" fill="#008000"/><circle cx="525.40" cy="179.59" r="0.9" fill="#ffffff" opacity="0.85"/>
<circle cx="537.35" cy="186.72" r="3.3" fill="#008000"/><circle cx="536.35" cy="185.72" r="0.9" fill="#ffffff" opacity="0.85"/>
<circle cx="548.30" cy="191.16" r="3.3" fill="#008000"/><circle cx="547.30" cy="190.16" r="0.9" fill="#ffffff" opacity="0.85"/>
<circle cx="559.25" cy="193.73" r="3.3" fill="#008000"/><circle cx="558.25" cy="192.73" r="0.9" fill="#ffffff" opacity="0.85"/>
<circle cx="570.20" cy="195.91" r="3.3" fill="#008000"/><circle cx="569.20" cy="194.91" r="0.9" fill="#ffffff" opacity="0.85"/>
<circle cx="581.15" cy="197.39" r="3.3" fill="#008000"/><circle cx="580.15" cy="196.39" r="0.9" fill="#ffffff" opacity="0.85"/>
<circle cx="592.10" cy="198.77" r="3.3" fill="#008000"/><circle cx="591.10" cy="197.77" r="0.9" fill="#ffffff" opacity="0.85"/>
<circle cx="603.05" cy="199.86" r="3.3" fill="#008000"/><circle cx="602.05" cy="198.86" r="0.9" fill="#ffffff" opacity="0.85"/>
<circle cx="614.00" cy="200.75" r="3.3" fill="#008000"/><circle cx="613.00" cy="199.75" r="0.9" fill="#ffffff" opacity="0.85"/>
<circle cx="624.95" cy="201.54" r="3.3" fill="#008000"/><circle cx="623.95" cy="200.54" r="0.9" fill="#ffffff" opacity="0.85"/>
<circle cx="635.90" cy="202.04" r="3.3" fill="#008000"/><circle cx="634.90" cy="201.04" r="0.9" fill="#ffffff" opacity="0.85"/>
<circle cx="646.85" cy="202.73" r="3.3" fill="#008000"/><circle cx="645.85" cy="201.73" r="0.9" fill="#ffffff" opacity="0.85"/>
<circle cx="657.80" cy="203.12" r="3.3" fill="#008000"/><circle cx="656.80" cy="202.12" r="0.9" fill="#ffffff" opacity="0.85"/>
<path d="M395.00,7.50 C398.65,7.53 402.30,7.54 405.95,7.60 C409.60,7.66 413.25,7.88 416.90,8.29 C420.55,8.70 424.20,11.26 427.85,13.93 C431.50,16.59 435.15,21.82 438.80,27.76 C442.45,33.71 446.10,43.18 449.75,52.87 C453.40,62.56 457.05,75.72 460.70,87.37 C464.35,99.02 468.00,112.45 471.65,122.76 C475.30,133.07 478.95,142.99 482.60,150.24 C486.25,157.49 489.90,163.49 493.55,168.23 C497.20,172.97 500.85,177.04 504.50,179.99 C508.15,182.95 511.80,185.24 515.45,187.11 C519.10,188.98 522.75,190.50 526.40,191.76 C530.05,193.01 533.70,193.95 537.35,194.92 C541.00,195.88 544.65,196.90 548.30,197.59 C551.95,198.28 555.60,198.78 559.25,199.27 C562.90,199.75 566.55,200.13 570.20,200.55 C573.85,200.98 577.50,201.46 581.15,201.81 C584.80,202.17 588.45,202.47 592.10,202.72 C595.75,202.97 599.40,203.19 603.05,203.37 C606.70,203.55 610.35,203.70 614.00,203.83 C617.65,203.96 621.30,204.07 624.95,204.16 C628.60,204.25 632.25,204.33 635.90,204.40 C639.55,204.47 643.20,204.52 646.85,204.57 C650.50,204.62 654.15,204.65 657.80,204.69" fill="none" stroke="#ff8000" stroke-width="2.0" stroke-linejoin="round" stroke-linecap="round"/>
<circle cx="395.00" cy="7.50" r="3.3" fill="#ff8000"/><circle cx="394.00" cy="6.50" r="0.9" fill="#ffffff" opacity="0.85"/>
<circle cx="405.95" cy="7.60" r="3.3" fill="#ff8000"/><circle cx="404.95" cy="6.60" r="0.9" fill="#ffffff" opacity="0.85"/>
<circle cx="416.90" cy="8.29" r="3.3" fill="#ff8000"/><circle cx="415.90" cy="7.29" r="0.9" fill="#ffffff" opacity="0.85"/>
<circle cx="427.85" cy="13.93" r="3.3" fill="#ff8000"/><circle cx="426.85" cy="12.93" r="0.9" fill="#ffffff" opacity="0.85"/>
<circle cx="438.80" cy="27.76" r="3.3" fill="#ff8000"/><circle cx="437.80" cy="26.76" r="0.9" fill="#ffffff" opacity="0.85"/>
<circle cx="449.75" cy="52.87" r="3.3" fill="#ff8000"/><circle cx="448.75" cy="51.87" r="0.9" fill="#ffffff" opacity="0.85"/>
<circle cx="460.70" cy="87.37" r="3.3" fill="#ff8000"/><circle cx="459.70" cy="86.37" r="0.9" fill="#ffffff" opacity="0.85"/>
<circle cx="471.65" cy="122.76" r="3.3" fill="#ff8000"/><circle cx="470.65" cy="121.76" r="0.9" fill="#ffffff" opacity="0.85"/>
<circle cx="482.60" cy="150.24" r="3.3" fill="#ff8000"/><circle cx="481.60" cy="149.24" r="0.9" fill="#ffffff" opacity="0.85"/>
<circle cx="493.55" cy="168.23" r="3.3" fill="#ff8000"/><circle cx="492.55" cy="167.23" r="0.9" fill="#ffffff" opacity="0.85"/>
<circle cx="504.50" cy="179.99" r="3.3" fill="#ff8000"/><circle cx="503.50" cy="178.99" r="0.9" fill="#ffffff" opacity="0.85"/>
<circle cx="515.45" cy="187.11" r="3.3" fill="#ff8000"/><circle cx="514.45" cy="186.11" r="0.9" fill="#ffffff" opacity="0.85"/>
<circle cx="526.40" cy="191.76" r="3.3" fill="#ff8000"/><circle cx="525.40" cy="190.76" r="0.9" fill="#ffffff" opacity="0.85"/>
<circle cx="537.35" cy="194.92" r="3.3" fill="#ff8000"/><circle cx="536.35" cy="193.92" r="0.9" fill="#ffffff" opacity="0.85"/>
<circle cx="548.30" cy="197.59" r="3.3" fill="#ff8000"/><circle cx="547.30" cy="196.59" r="0.9" fill="#ffffff" opacity="0.85"/>
<circle cx="559.25" cy="199.27" r="3.3" fill="#ff8000"/><circle cx="558.25" cy="198.27" r="0.9" fill="#ffffff" opacity="0.85"/>
<circle cx="570.20" cy="200.55" r="3.3" fill="#ff8000"/><circle cx="569.20" cy="199.55" r="0.9" fill="#ffffff" opacity="0.85"/>
<circle cx="581.15" cy="201.81" r="3.3" fill="#ff8000"/><circle cx="580.15" cy="200.81" r="0.9" fill="#ffffff" opacity="0.85"/>
<circle cx="592.10" cy="202.72" r="3.3" fill="#ff8000"/><circle cx="591.10" cy="201.72" r="0.9" fill="#ffffff" opacity="0.85"/>
<circle cx="603.05" cy="203.37" r="3.3" fill="#ff8000"/><circle cx="602.05" cy="202.37" r="0.9" fill="#ffffff" opacity="0.85"/>
<circle cx="614.00" cy="203.83" r="3.3" fill="#ff8000"/><circle cx="613.00" cy="202.83" r="0.9" fill="#ffffff" opacity="0.85"/>
<circle cx="624.95" cy="204.16" r="3.3" fill="#ff8000"/><circle cx="623.95" cy="203.16" r="0.9" fill="#ffffff" opacity="0.85"/>
<circle cx="635.90" cy="204.40" r="3.3" fill="#ff8000"/><circle cx="634.90" cy="203.40" r="0.9" fill="#ffffff" opacity="0.85"/>
<circle cx="646.85" cy="204.57" r="3.3" fill="#ff8000"/><circle cx="645.85" cy="203.57" r="0.9" fill="#ffffff" opacity="0.85"/>
<circle cx="657.80" cy="204.69" r="3.3" fill="#ff8000"/><circle cx="656.80" cy="203.69" r="0.9" fill="#ffffff" opacity="0.85"/>
<path d="M395.00,7.50 C398.65,7.57 402.30,7.58 405.95,7.70 C409.60,7.81 413.25,8.23 416.90,8.98 C420.55,9.74 424.20,14.11 427.85,18.67 C431.50,23.23 435.15,32.32 438.80,42.00 C442.45,51.68 446.10,67.07 449.75,80.45 C453.40,93.84 457.05,110.33 460.70,122.46 C464.35,134.60 468.00,146.58 471.65,154.59 C475.30,162.59 478.95,168.98 482.60,173.77 C486.25,178.55 489.90,182.57 493.55,185.23 C497.20,187.89 500.85,189.71 504.50,191.36 C508.15,193.01 511.80,194.48 515.45,195.51 C519.10,196.55 522.75,197.29 526.40,197.98 C530.05,198.67 533.70,199.27 537.35,199.76 C541.00,200.26 544.65,200.70 548.30,201.05 C551.95,201.40 555.60,201.64 559.25,201.94 C562.90,202.23 566.55,202.56 570.20,202.81 C573.85,203.05 577.50,203.26 581.15,203.43 C584.80,203.60 588.45,203.75 592.10,203.87 C595.75,204.00 599.40,204.11 603.05,204.19 C606.70,204.28 610.35,204.36 614.00,204.42 C617.65,204.49 621.30,204.54 624.95,204.59 C628.60,204.63 632.25,204.67 635.90,204.71 C639.55,204.74 643.20,204.77 646.85,204.79 C650.50,204.81 654.15,204.83 657.80,204.85" fill="none" stroke="#00ff00" stroke-width="2.0" stroke-linejoin="round" stroke-linecap="round"/>
<circle cx="395.00" cy="7.50" r="3.3" fill="#00ff00"/><circle cx="394.00" cy="6.50" r="0.9" fill="#ffffff" opacity="0.85"/>
<circle cx="405.95" cy="7.70" r="3.3" fill="#00ff00"/><circle cx="404.95" cy="6.70" r="0.9" fill="#ffffff" opacity="0.85"/>
<circle cx="416.90" cy="8.98" r="3.3" fill="#00ff00"/><circle cx="415.90" cy="7.98" r="0.9" fill="#ffffff" opacity="0.85"/>
<circle cx="427.85" cy="18.67" r="3.3" fill="#00ff00"/><circle cx="426.85" cy="17.67" r="0.9" fill="#ffffff" opacity="0.85"/>
<circle cx="438.80" cy="42.00" r="3.3" fill="#00ff00"/><circle cx="437.80" cy="41.00" r="0.9" fill="#ffffff" opacity="0.85"/>
<circle cx="449.75" cy="80.45" r="3.3" fill="#00ff00"/><circle cx="448.75" cy="79.45" r="0.9" fill="#ffffff" opacity="0.85"/>
<circle cx="460.70" cy="122.46" r="3.3" fill="#00ff00"/><circle cx="459.70" cy="121.46" r="0.9" fill="#ffffff" opacity="0.85"/>
<circle cx="471.65" cy="154.59" r="3.3" fill="#00ff00"/><circle cx="470.65" cy="153.59" r="0.9" fill="#ffffff" opacity="0.85"/>
<circle cx="482.60" cy="173.77" r="3.3" fill="#00ff00"/><circle cx="481.60" cy="172.77" r="0.9" fill="#ffffff" opacity="0.85"/>
<circle cx="493.55" cy="185.23" r="3.3" fill="#00ff00"/><circle cx="492.55" cy="184.23" r="0.9" fill="#ffffff" opacity="0.85"/>
<circle cx="504.50" cy="191.36" r="3.3" fill="#00ff00"/><circle cx="503.50" cy="190.36" r="0.9" fill="#ffffff" opacity="0.85"/>
<circle cx="515.45" cy="195.51" r="3.3" fill="#00ff00"/><circle cx="514.45" cy="194.51" r="0.9" fill="#ffffff" opacity="0.85"/>
<circle cx="526.40" cy="197.98" r="3.3" fill="#00ff00"/><circle cx="525.40" cy="196.98" r="0.9" fill="#ffffff" opacity="0.85"/>
<circle cx="537.35" cy="199.76" r="3.3" fill="#00ff00"/><circle cx="536.35" cy="198.76" r="0.9" fill="#ffffff" opacity="0.85"/>
<circle cx="548.30" cy="201.05" r="3.3" fill="#00ff00"/><circle cx="547.30" cy="200.05" r="0.9" fill="#ffffff" opacity="0.85"/>
<circle cx="559.25" cy="201.94" r="3.3" fill="#00ff00"/><circle cx="558.25" cy="200.94" r="0.9" fill="#ffffff" opacity="0.85"/>
<circle cx="570.20" cy="202.81" r="3.3" fill="#00ff00"/><circle cx="569.20" cy="201.81" r="0.9" fill="#ffffff" opacity="0.85"/>
<circle cx="581.15" cy="203.43" r="3.3" fill="#00ff00"/><circle cx="580.15" cy="202.43" r="0.9" fill="#ffffff" opacity="0.85"/>
<circle cx="592.10" cy="203.87" r="3.3" fill="#00ff00"/><circle cx="591.10" cy="202.87" r="0.9" fill="#ffffff" opacity="0.85"/>
<circle cx="603.05" cy="204.19" r="3.3" fill="#00ff00"/><circle cx="602.05" cy="203.19" r="0.9" fill="#ffffff" opacity="0.85"/>
<circle cx="614.00" cy="204.42" r="3.3" fill="#00ff00"/><circle cx="613.00" cy="203.42" r="0.9" fill="#ffffff" opacity="0.85"/>
<circle cx="624.95" cy="204.59" r="3.3" fill="#00ff00"/><circle cx="623.95" cy="203.59" r="0.9" fill="#ffffff" opacity="0.85"/>
<circle cx="635.90" cy="204.71" r="3.3" fill="#00ff00"/><circle cx="634.90" cy="203.71" r="0.9" fill="#ffffff" opacity="0.85"/>
<circle cx="646.85" cy="204.79" r="3.3" fill="#00ff00"/><circle cx="645.85" cy="203.79" r="0.9" fill="#ffffff" opacity="0.85"/>
<circle cx="657.80" cy="204.85" r="3.3" fill="#00ff00"/><circle cx="656.80" cy="203.85" r="0.9" fill="#ffffff" opacity="0.85"/>
<path d="M395.00,7.50 C398.65,7.60 402.30,7.62 405.95,7.80 C409.60,7.97 413.25,8.69 416.90,9.97 C420.55,11.25 424.20,19.04 427.85,26.68 C431.50,34.32 435.15,48.97 438.80,63.15 C442.45,77.33 446.10,99.35 449.75,114.16 C453.40,128.97 457.05,144.00 460.70,153.50 C464.35,163.00 468.00,170.79 471.65,175.84 C475.30,180.89 478.95,184.65 482.60,187.31 C486.25,189.97 489.90,191.79 493.55,193.44 C497.20,195.09 500.85,196.56 504.50,197.59 C508.15,198.62 511.80,199.44 515.45,200.06 C519.10,200.68 522.75,201.15 526.40,201.54 C530.05,201.94 533.70,202.26 537.35,202.53 C541.00,202.80 544.65,203.03 548.30,203.22 C551.95,203.42 555.60,203.59 559.25,203.73 C562.90,203.87 566.55,203.99 570.20,204.09 C573.85,204.19 577.50,204.28 581.15,204.35 C584.80,204.42 588.45,204.48 592.10,204.53 C595.75,204.58 599.40,204.63 603.05,204.67 C606.70,204.70 610.35,204.73 614.00,204.76 C617.65,204.79 621.30,204.81 624.95,204.83 C628.60,204.85 632.25,204.87 635.90,204.88 C639.55,204.89 643.20,204.90 646.85,204.91 C650.50,204.92 654.15,204.93 657.80,204.94" fill="none" stroke="#000000" stroke-width="2.0" stroke-linejoin="round" stroke-linecap="round"/>
<circle cx="395.00" cy="7.50" r="3.3" fill="#000000"/><circle cx="394.00" cy="6.50" r="0.9" fill="#ffffff" opacity="0.85"/>
<circle cx="405.95" cy="7.80" r="3.3" fill="#000000"/><circle cx="404.95" cy="6.80" r="0.9" fill="#ffffff" opacity="0.85"/>
<circle cx="416.90" cy="9.97" r="3.3" fill="#000000"/><circle cx="415.90" cy="8.97" r="0.9" fill="#ffffff" opacity="0.85"/>
<circle cx="427.85" cy="26.68" r="3.3" fill="#000000"/><circle cx="426.85" cy="25.68" r="0.9" fill="#ffffff" opacity="0.85"/>
<circle cx="438.80" cy="63.15" r="3.3" fill="#000000"/><circle cx="437.80" cy="62.15" r="0.9" fill="#ffffff" opacity="0.85"/>
<circle cx="449.75" cy="114.16" r="3.3" fill="#000000"/><circle cx="448.75" cy="113.16" r="0.9" fill="#ffffff" opacity="0.85"/>
<circle cx="460.70" cy="153.50" r="3.3" fill="#000000"/><circle cx="459.70" cy="152.50" r="0.9" fill="#ffffff" opacity="0.85"/>
<circle cx="471.65" cy="175.84" r="3.3" fill="#000000"/><circle cx="470.65" cy="174.84" r="0.9" fill="#ffffff" opacity="0.85"/>
<circle cx="482.60" cy="187.31" r="3.3" fill="#000000"/><circle cx="481.60" cy="186.31" r="0.9" fill="#ffffff" opacity="0.85"/>
<circle cx="493.55" cy="193.44" r="3.3" fill="#000000"/><circle cx="492.55" cy="192.44" r="0.9" fill="#ffffff" opacity="0.85"/>
<circle cx="504.50" cy="197.59" r="3.3" fill="#000000"/><circle cx="503.50" cy="196.59" r="0.9" fill="#ffffff" opacity="0.85"/>
<circle cx="515.45" cy="200.06" r="3.3" fill="#000000"/><circle cx="514.45" cy="199.06" r="0.9" fill="#ffffff" opacity="0.85"/>
<circle cx="526.40" cy="201.54" r="3.3" fill="#000000"/><circle cx="525.40" cy="200.54" r="0.9" fill="#ffffff" opacity="0.85"/>
<circle cx="537.35" cy="202.53" r="3.3" fill="#000000"/><circle cx="536.35" cy="201.53" r="0.9" fill="#ffffff" opacity="0.85"/>
<circle cx="548.30" cy="203.22" r="3.3" fill="#000000"/><circle cx="547.30" cy="202.22" r="0.9" fill="#ffffff" opacity="0.85"/>
<circle cx="559.25" cy="203.73" r="3.3" fill="#000000"/><circle cx="558.25" cy="202.73" r="0.9" fill="#ffffff" opacity="0.85"/>
<circle cx="570.20" cy="204.09" r="3.3" fill="#000000"/><circle cx="569.20" cy="203.09" r="0.9" fill="#ffffff" opacity="0.85"/>
<circle cx="581.15" cy="204.35" r="3.3" fill="#000000"/><circle cx="580.15" cy="203.35" r="0.9" fill="#ffffff" opacity="0.85"/>
<circle cx="592.10" cy="204.53" r="3.3" fill="#000000"/><circle cx="591.10" cy="203.53" r="0.9" fill="#ffffff" opacity="0.85"/>
<circle cx="603.05" cy="204.67" r="3.3" fill="#000000"/><circle cx="602.05" cy="203.67" r="0.9" fill="#ffffff" opacity="0.85"/>
<circle cx="614.00" cy="204.76" r="3.3" fill="#000000"/><circle cx="613.00" cy="203.76" r="0.9" fill="#ffffff" opacity="0.85"/>
<circle cx="624.95" cy="204.83" r="3.3" fill="#000000"/><circle cx="623.95" cy="203.83" r="0.9" fill="#ffffff" opacity="0.85"/>
<circle cx="635.90" cy="204.88" r="3.3" fill="#000000"/><circle cx="634.90" cy="203.88" r="0.9" fill="#ffffff" opacity="0.85"/>
<circle cx="646.85" cy="204.91" r="3.3" fill="#000000"/><circle cx="645.85" cy="203.91" r="0.9" fill="#ffffff" opacity="0.85"/>
<circle cx="657.80" cy="204.94" r="3.3" fill="#000000"/><circle cx="656.80" cy="203.94" r="0.9" fill="#ffffff" opacity="0.85"/>
<path d="M395.00,7.50 C398.65,7.66 402.30,7.69 405.95,7.99 C409.60,8.30 413.25,10.91 416.90,14.22 C420.55,17.53 424.20,27.50 427.85,38.74 C431.50,49.98 435.15,74.85 438.80,92.71 C442.45,110.57 446.10,133.33 449.75,145.89 C453.40,158.45 457.05,168.82 460.70,175.05 C464.35,181.28 468.00,185.67 471.65,188.79 C475.30,191.92 478.95,194.48 482.60,195.91 C486.25,197.34 489.90,198.10 493.55,198.97 C497.20,199.84 500.85,200.70 504.50,201.25 C508.15,201.79 511.80,202.23 515.45,202.53 C519.10,202.83 522.75,203.03 526.40,203.22 C530.05,203.42 533.70,203.59 537.35,203.73 C541.00,203.87 544.65,203.99 548.30,204.09 C551.95,204.19 555.60,204.28 559.25,204.35 C562.90,204.42 566.55,204.48 570.20,204.53 C573.85,204.58 577.50,204.63 581.15,204.67 C584.80,204.70 588.45,204.73 592.10,204.76 C595.75,204.79 599.40,204.81 603.05,204.83 C606.70,204.85 610.35,204.87 614.00,204.88 C617.65,204.89 621.30,204.90 624.95,204.91 C628.60,204.92 632.25,204.93 635.90,204.94 C639.55,204.95 643.20,204.95 646.85,204.96 C650.50,204.96 654.15,204.97 657.80,204.97" fill="none" stroke="#ff00ff" stroke-width="2.0" stroke-linejoin="round" stroke-linecap="round"/>
<circle cx="395.00" cy="7.50" r="3.3" fill="#ff00ff"/><circle cx="394.00" cy="6.50" r="0.9" fill="#ffffff" opacity="0.85"/>
<circle cx="405.95" cy="7.99" r="3.3" fill="#ff00ff"/><circle cx="404.95" cy="6.99" r="0.9" fill="#ffffff" opacity="0.85"/>
<circle cx="416.90" cy="14.22" r="3.3" fill="#ff00ff"/><circle cx="415.90" cy="13.22" r="0.9" fill="#ffffff" opacity="0.85"/>
<circle cx="427.85" cy="38.74" r="3.3" fill="#ff00ff"/><circle cx="426.85" cy="37.74" r="0.9" fill="#ffffff" opacity="0.85"/>
<circle cx="438.80" cy="92.71" r="3.3" fill="#ff00ff"/><circle cx="437.80" cy="91.71" r="0.9" fill="#ffffff" opacity="0.85"/>
<circle cx="449.75" cy="145.89" r="3.3" fill="#ff00ff"/><circle cx="448.75" cy="144.89" r="0.9" fill="#ffffff" opacity="0.85"/>
<circle cx="460.70" cy="175.05" r="3.3" fill="#ff00ff"/><circle cx="459.70" cy="174.05" r="0.9" fill="#ffffff" opacity="0.85"/>
<circle cx="471.65" cy="188.79" r="3.3" fill="#ff00ff"/><circle cx="470.65" cy="187.79" r="0.9" fill="#ffffff" opacity="0.85"/>
<circle cx="482.60" cy="195.91" r="3.3" fill="#ff00ff"/><circle cx="481.60" cy="194.91" r="0.9" fill="#ffffff" opacity="0.85"/>
<circle cx="493.55" cy="198.97" r="3.3" fill="#ff00ff"/><circle cx="492.55" cy="197.97" r="0.9" fill="#ffffff" opacity="0.85"/>
<circle cx="504.50" cy="201.25" r="3.3" fill="#ff00ff"/><circle cx="503.50" cy="200.25" r="0.9" fill="#ffffff" opacity="0.85"/>
<circle cx="515.45" cy="202.53" r="3.3" fill="#ff00ff"/><circle cx="514.45" cy="201.53" r="0.9" fill="#ffffff" opacity="0.85"/>
<circle cx="526.40" cy="203.22" r="3.3" fill="#ff00ff"/><circle cx="525.40" cy="202.22" r="0.9" fill="#ffffff" opacity="0.85"/>
<circle cx="537.35" cy="203.73" r="3.3" fill="#ff00ff"/><circle cx="536.35" cy="202.73" r="0.9" fill="#ffffff" opacity="0.85"/>
<circle cx="548.30" cy="204.09" r="3.3" fill="#ff00ff"/><circle cx="547.30" cy="203.09" r="0.9" fill="#ffffff" opacity="0.85"/>
<circle cx="559.25" cy="204.35" r="3.3" fill="#ff00ff"/><circle cx="558.25" cy="203.35" r="0.9" fill="#ffffff" opacity="0.85"/>
<circle cx="570.20" cy="204.53" r="3.3" fill="#ff00ff"/><circle cx="569.20" cy="203.53" r="0.9" fill="#ffffff" opacity="0.85"/>
<circle cx="581.15" cy="204.67" r="3.3" fill="#ff00ff"/><circle cx="580.15" cy="203.67" r="0.9" fill="#ffffff" opacity="0.85"/>
<circle cx="592.10" cy="204.76" r="3.3" fill="#ff00ff"/><circle cx="591.10" cy="203.76" r="0.9" fill="#ffffff" opacity="0.85"/>
<circle cx="603.05" cy="204.83" r="3.3" fill="#ff00ff"/><circle cx="602.05" cy="203.83" r="0.9" fill="#ffffff" opacity="0.85"/>
<circle cx="614.00" cy="204.88" r="3.3" fill="#ff00ff"/><circle cx="613.00" cy="203.88" r="0.9" fill="#ffffff" opacity="0.85"/>
<circle cx="624.95" cy="204.91" r="3.3" fill="#ff00ff"/><circle cx="623.95" cy="203.91" r="0.9" fill="#ffffff" opacity="0.85"/>
<circle cx="635.90" cy="204.94" r="3.3" fill="#ff00ff"/><circle cx="634.90" cy="203.94" r="0.9" fill="#ffffff" opacity="0.85"/>
<circle cx="646.85" cy="204.96" r="3.3" fill="#ff00ff"/><circle cx="645.85" cy="203.96" r="0.9" fill="#ffffff" opacity="0.85"/>
<circle cx="657.80" cy="204.97" r="3.3" fill="#ff00ff"/><circle cx="656.80" cy="203.97" r="0.9" fill="#ffffff" opacity="0.85"/>
<path d="M395.00,7.50 C398.65,8.49 402.30,8.59 405.95,10.47 C409.60,12.34 413.25,42.34 416.90,66.22 C420.55,90.09 424.20,151.53 427.85,166.35 C431.50,181.17 435.15,191.34 438.80,194.92 C442.45,198.50 446.10,200.45 449.75,201.54 C453.40,202.63 457.05,203.33 460.70,203.72 C464.35,204.10 468.00,204.33 471.65,204.51 C475.30,204.68 478.95,204.89 482.60,204.90 C486.25,204.92 489.90,204.92 493.55,204.93 C497.20,204.94 500.85,204.95 504.50,204.95 C508.15,204.96 511.80,204.96 515.45,204.97 C519.10,204.97 522.75,204.97 526.40,204.98 C530.05,204.98 533.70,204.98 537.35,204.98 C541.00,204.99 544.65,204.99 548.30,204.99 C551.95,204.99 555.60,204.99 559.25,204.99 C562.90,204.99 566.55,204.99 570.20,205.00 C573.85,205.00 577.50,205.00 581.15,205.00 C584.80,205.00 588.45,205.00 592.10,205.00 C595.75,205.00 599.40,205.00 603.05,205.00 C606.70,205.00 610.35,205.00 614.00,205.00 C617.65,205.00 621.30,205.00 624.95,205.00 C628.60,205.00 632.25,205.00 635.90,205.00 C639.55,205.00 643.20,205.00 646.85,205.00 C650.50,205.00 654.15,205.00 657.80,205.00" fill="none" stroke="#0000ff" stroke-width="2.0" stroke-linejoin="round" stroke-linecap="round"/>
<circle cx="395.00" cy="7.50" r="3.3" fill="#0000ff"/><circle cx="394.00" cy="6.50" r="0.9" fill="#ffffff" opacity="0.85"/>
<circle cx="405.95" cy="10.47" r="3.3" fill="#0000ff"/><circle cx="404.95" cy="9.47" r="0.9" fill="#ffffff" opacity="0.85"/>
<circle cx="416.90" cy="66.22" r="3.3" fill="#0000ff"/><circle cx="415.90" cy="65.22" r="0.9" fill="#ffffff" opacity="0.85"/>
<circle cx="427.85" cy="166.35" r="3.3" fill="#0000ff"/><circle cx="426.85" cy="165.35" r="0.9" fill="#ffffff" opacity="0.85"/>
<circle cx="438.80" cy="194.92" r="3.3" fill="#0000ff"/><circle cx="437.80" cy="193.92" r="0.9" fill="#ffffff" opacity="0.85"/>
<circle cx="449.75" cy="201.54" r="3.3" fill="#0000ff"/><circle cx="448.75" cy="200.54" r="0.9" fill="#ffffff" opacity="0.85"/>
<circle cx="460.70" cy="203.72" r="3.3" fill="#0000ff"/><circle cx="459.70" cy="202.72" r="0.9" fill="#ffffff" opacity="0.85"/>
<circle cx="471.65" cy="204.51" r="3.3" fill="#0000ff"/><circle cx="470.65" cy="203.51" r="0.9" fill="#ffffff" opacity="0.85"/>
<circle cx="482.60" cy="204.90" r="3.3" fill="#0000ff"/><circle cx="481.60" cy="203.90" r="0.9" fill="#ffffff" opacity="0.85"/>
<circle cx="493.55" cy="204.93" r="3.3" fill="#0000ff"/><circle cx="492.55" cy="203.93" r="0.9" fill="#ffffff" opacity="0.85"/>
<circle cx="504.50" cy="204.95" r="3.3" fill="#0000ff"/><circle cx="503.50" cy="203.95" r="0.9" fill="#ffffff" opacity="0.85"/>
<circle cx="515.45" cy="204.97" r="3.3" fill="#0000ff"/><circle cx="514.45" cy="203.97" r="0.9" fill="#ffffff" opacity="0.85"/>
<circle cx="526.40" cy="204.98" r="3.3" fill="#0000ff"/><circle cx="525.40" cy="203.98" r="0.9" fill="#ffffff" opacity="0.85"/>
<circle cx="537.35" cy="204.98" r="3.3" fill="#0000ff"/><circle cx="536.35" cy="203.98" r="0.9" fill="#ffffff" opacity="0.85"/>
<circle cx="548.30" cy="204.99" r="3.3" fill="#0000ff"/><circle cx="547.30" cy="203.99" r="0.9" fill="#ffffff" opacity="0.85"/>
<circle cx="559.25" cy="204.99" r="3.3" fill="#0000ff"/><circle cx="558.25" cy="203.99" r="0.9" fill="#ffffff" opacity="0.85"/>
<circle cx="570.20" cy="205.00" r="3.3" fill="#0000ff"/><circle cx="569.20" cy="204.00" r="0.9" fill="#ffffff" opacity="0.85"/>
<circle cx="581.15" cy="205.00" r="3.3" fill="#0000ff"/><circle cx="580.15" cy="204.00" r="0.9" fill="#ffffff" opacity="0.85"/>
<circle cx="592.10" cy="205.00" r="3.3" fill="#0000ff"/><circle cx="591.10" cy="204.00" r="0.9" fill="#ffffff" opacity="0.85"/>
<circle cx="603.05" cy="205.00" r="3.3" fill="#0000ff"/><circle cx="602.05" cy="204.00" r="0.9" fill="#ffffff" opacity="0.85"/>
<circle cx="614.00" cy="205.00" r="3.3" fill="#0000ff"/><circle cx="613.00" cy="204.00" r="0.9" fill="#ffffff" opacity="0.85"/>
<circle cx="624.95" cy="205.00" r="3.3" fill="#0000ff"/><circle cx="623.95" cy="204.00" r="0.9" fill="#ffffff" opacity="0.85"/>
<circle cx="635.90" cy="205.00" r="3.3" fill="#0000ff"/><circle cx="634.90" cy="204.00" r="0.9" fill="#ffffff" opacity="0.85"/>
<circle cx="646.85" cy="205.00" r="3.3" fill="#0000ff"/><circle cx="645.85" cy="204.00" r="0.9" fill="#ffffff" opacity="0.85"/>
<circle cx="657.80" cy="205.00" r="3.3" fill="#0000ff"/><circle cx="656.80" cy="204.00" r="0.9" fill="#ffffff" opacity="0.85"/>
</g>
<rect x="388.80" y="2.80" width="268.80" height="212.20" fill="none" stroke="#000" stroke-width="2.3"/>
<line x1="395.00" y1="215.00" x2="395.00" y2="210.70" stroke="#000" stroke-width="1.8"/>
<line x1="438.80" y1="215.00" x2="438.80" y2="210.70" stroke="#000" stroke-width="1.8"/>
<line x1="482.60" y1="215.00" x2="482.60" y2="210.70" stroke="#000" stroke-width="1.8"/>
<line x1="526.40" y1="215.00" x2="526.40" y2="210.70" stroke="#000" stroke-width="1.8"/>
<line x1="570.20" y1="215.00" x2="570.20" y2="210.70" stroke="#000" stroke-width="1.8"/>
<line x1="614.00" y1="215.00" x2="614.00" y2="210.70" stroke="#000" stroke-width="1.8"/>
<line x1="657.80" y1="215.00" x2="657.80" y2="210.70" stroke="#000" stroke-width="1.8"/>
<line x1="416.90" y1="215.00" x2="416.90" y2="212.10" stroke="#000" stroke-width="1.8"/>
<line x1="460.70" y1="215.00" x2="460.70" y2="212.10" stroke="#000" stroke-width="1.8"/>
<line x1="504.50" y1="215.00" x2="504.50" y2="212.10" stroke="#000" stroke-width="1.8"/>
<line x1="548.30" y1="215.00" x2="548.30" y2="212.10" stroke="#000" stroke-width="1.8"/>
<line x1="592.10" y1="215.00" x2="592.10" y2="212.10" stroke="#000" stroke-width="1.8"/>
<line x1="635.90" y1="215.00" x2="635.90" y2="212.10" stroke="#000" stroke-width="1.8"/>
<line x1="388.80" y1="7.50" x2="393.10" y2="7.50" stroke="#000" stroke-width="1.8"/>
<line x1="388.80" y1="56.92" x2="393.10" y2="56.92" stroke="#000" stroke-width="1.8"/>
<line x1="388.80" y1="106.35" x2="393.10" y2="106.35" stroke="#000" stroke-width="1.8"/>
<line x1="388.80" y1="155.77" x2="393.10" y2="155.77" stroke="#000" stroke-width="1.8"/>
<line x1="388.80" y1="205.20" x2="393.10" y2="205.20" stroke="#000" stroke-width="1.8"/>
<line x1="388.80" y1="32.21" x2="391.70" y2="32.21" stroke="#000" stroke-width="1.8"/>
<line x1="388.80" y1="81.64" x2="391.70" y2="81.64" stroke="#000" stroke-width="1.8"/>
<line x1="388.80" y1="131.06" x2="391.70" y2="131.06" stroke="#000" stroke-width="1.8"/>
<line x1="388.80" y1="180.49" x2="391.70" y2="180.49" stroke="#000" stroke-width="1.8"/>
<clipPath id="cc"><rect x="42.50" y="289.30" width="278.10" height="212.90"/></clipPath>
<g clip-path="url(#cc)">
<path d="M49.00,493.60 C52.77,492.24 56.55,491.97 60.33,489.53 C64.10,487.09 67.88,469.00 71.65,452.90 C75.42,436.81 79.20,382.08 82.97,382.08 C86.75,382.08 90.53,391.04 94.30,399.99 C98.08,408.94 101.85,442.99 105.62,453.71 C109.40,464.44 113.17,472.43 116.95,476.67 C120.73,480.91 124.50,483.74 128.28,485.46 C132.05,487.18 135.83,488.37 139.60,489.12 C143.38,489.87 147.15,490.32 150.93,490.75 C154.70,491.18 158.47,491.56 162.25,491.81 C166.03,492.06 169.80,492.22 173.57,492.38 C177.35,492.54 181.12,492.73 184.90,492.79 C188.68,492.84 192.45,492.86 196.22,492.89 C200.00,492.93 203.78,492.95 207.55,492.98 C211.33,493.00 215.10,493.02 218.88,493.04 C222.65,493.06 226.43,493.08 230.20,493.09 C233.98,493.11 237.75,493.12 241.53,493.13 C245.30,493.15 249.07,493.16 252.85,493.17 C256.62,493.17 260.40,493.18 264.18,493.19 C267.95,493.20 271.73,493.20 275.50,493.21 C279.28,493.21 283.05,493.22 286.83,493.22 C290.60,493.23 294.38,493.23 298.15,493.23 C301.93,493.24 305.70,493.24 309.48,493.24 C313.25,493.25 317.03,493.25 320.80,493.25" fill="none" stroke="#008000" stroke-width="2.0" stroke-linejoin="round" stroke-linecap="round"/>
<circle cx="49.00" cy="493.60" r="3.3" fill="#008000"/><circle cx="48.00" cy="492.60" r="0.9" fill="#ffffff" opacity="0.85"/>
<circle cx="60.33" cy="489.53" r="3.3" fill="#008000"/><circle cx="59.33" cy="488.53" r="0.9" fill="#ffffff" opacity="0.85"/>
<circle cx="71.65" cy="452.90" r="3.3" fill="#008000"/><circle cx="70.65" cy="451.90" r="0.9" fill="#ffffff" opacity="0.85"/>
<circle cx="82.97" cy="382.08" r="3.3" fill="#008000"/><circle cx="81.97" cy="381.08" r="0.9" fill="#ffffff" opacity="0.85"/>
<circle cx="94.30" cy="399.99" r="3.3" fill="#008000"/><circle cx="93.30" cy="398.99" r="0.9" fill="#ffffff" opacity="0.85"/>
<circle cx="105.62" cy="453.71" r="3.3" fill="#008000"/><circle cx="104.62" cy="452.71" r="0.9" fill="#ffffff" opacity="0.85"/>
<circle cx="116.95" cy="476.67" r="3.3" fill="#008000"/><circle cx="115.95" cy="475.67" r="0.9" fill="#ffffff" opacity="0.85"/>
<circle cx="128.28" cy="485.46" r="3.3" fill="#008000"/><circle cx="127.28" cy="484.46" r="0.9" fill="#ffffff" opacity="0.85"/>
<circle cx="139.60" cy="489.12" r="3.3" fill="#008000"/><circle cx="138.60" cy="488.12" r="0.9" fill="#ffffff" opacity="0.85"/>
<circle cx="150.93" cy="490.75" r="3.3" fill="#008000"/><circle cx="149.93" cy="489.75" r="0.9" fill="#ffffff" opacity="0.85"/>
<circle cx="162.25" cy="491.81" r="3.3" fill="#008000"/><circle cx="161.25" cy="490.81" r="0.9" fill="#ffffff" opacity="0.85"/>
<circle cx="173.57" cy="492.38" r="3.3" fill="#008000"/><circle cx="172.57" cy="491.38" r="0.9" fill="#ffffff" opacity="0.85"/>
<circle cx="184.90" cy="492.79" r="3.3" fill="#008000"/><circle cx="183.90" cy="491.79" r="0.9" fill="#ffffff" opacity="0.85"/>
<circle cx="196.22" cy="492.89" r="3.3" fill="#008000"/><circle cx="195.22" cy="491.89" r="0.9" fill="#ffffff" opacity="0.85"/>
<circle cx="207.55" cy="492.98" r="3.3" fill="#008000"/><circle cx="206.55" cy="491.98" r="0.9" fill="#ffffff" opacity="0.85"/>
<circle cx="218.88" cy="493.04" r="3.3" fill="#008000"/><circle cx="217.88" cy="492.04" r="0.9" fill="#ffffff" opacity="0.85"/>
<circle cx="230.20" cy="493.09" r="3.3" fill="#008000"/><circle cx="229.20" cy="492.09" r="0.9" fill="#ffffff" opacity="0.85"/>
<circle cx="241.53" cy="493.13" r="3.3" fill="#008000"/><circle cx="240.53" cy="492.13" r="0.9" fill="#ffffff" opacity="0.85"/>
<circle cx="252.85" cy="493.17" r="3.3" fill="#008000"/><circle cx="251.85" cy="492.17" r="0.9" fill="#ffffff" opacity="0.85"/>
<circle cx="264.18" cy="493.19" r="3.3" fill="#008000"/><circle cx="263.18" cy="492.19" r="0.9" fill="#ffffff" opacity="0.85"/>
<circle cx="275.50" cy="493.21" r="3.3" fill="#008000"/><circle cx="274.50" cy="492.21" r="0.9" fill="#ffffff" opacity="0.85"/>
<circle cx="286.83" cy="493.22" r="3.3" fill="#008000"/><circle cx="285.83" cy="492.22" r="0.9" fill="#ffffff" opacity="0.85"/>
<circle cx="298.15" cy="493.23" r="3.3" fill="#008000"/><circle cx="297.15" cy="492.23" r="0.9" fill="#ffffff" opacity="0.85"/>
<circle cx="309.48" cy="493.24" r="3.3" fill="#008000"/><circle cx="308.48" cy="492.24" r="0.9" fill="#ffffff" opacity="0.85"/>
<circle cx="320.80" cy="493.25" r="3.3" fill="#008000"/><circle cx="319.80" cy="492.25" r="0.9" fill="#ffffff" opacity="0.85"/>
<path d="M49.00,493.60 C52.77,488.58 56.55,487.26 60.33,478.54 C64.10,469.82 67.88,386.51 71.65,378.83 C75.42,371.15 79.20,365.80 82.97,365.80 C86.75,365.80 90.53,438.27 94.30,452.09 C98.08,465.90 101.85,475.27 105.62,479.36 C109.40,483.44 113.17,485.91 116.95,487.25 C120.73,488.59 124.50,489.38 128.28,489.94 C132.05,490.50 135.83,490.83 139.60,491.16 C143.38,491.48 147.15,491.73 150.93,491.97 C154.70,492.21 158.47,492.54 162.25,492.62 C166.03,492.70 169.80,492.73 173.57,492.77 C177.35,492.81 181.12,492.85 184.90,492.88 C188.68,492.91 192.45,492.94 196.22,492.97 C200.00,492.99 203.78,493.01 207.55,493.03 C211.33,493.05 215.10,493.07 218.88,493.09 C222.65,493.10 226.43,493.12 230.20,493.13 C233.98,493.14 237.75,493.15 241.53,493.16 C245.30,493.17 249.07,493.18 252.85,493.19 C256.62,493.19 260.40,493.20 264.18,493.21 C267.95,493.21 271.73,493.22 275.50,493.22 C279.28,493.23 283.05,493.23 286.83,493.23 C290.60,493.24 294.38,493.24 298.15,493.24 C301.93,493.24 305.70,493.25 309.48,493.25 C313.25,493.25 317.03,493.25 320.80,493.25" fill="none" stroke="#ff8000" stroke-width="2.0" stroke-linejoin="round" stroke-linecap="round"/>
<circle cx="49.00" cy="493.60" r="3.3" fill="#ff8000"/><circle cx="48.00" cy="492.60" r="0.9" fill="#ffffff" opacity="0.85"/>
<circle cx="60.33" cy="478.54" r="3.3" fill="#ff8000"/><circle cx="59.33" cy="477.54" r="0.9" fill="#ffffff" opacity="0.85"/>
<circle cx="71.65" cy="378.83" r="3.3" fill="#ff8000"/><circle cx="70.65" cy="377.83" r="0.9" fill="#ffffff" opacity="0.85"/>
<circle cx="82.97" cy="365.80" r="3.3" fill="#ff8000"/><circle cx="81.97" cy="364.80" r="0.9" fill="#ffffff" opacity="0.85"/>
<circle cx="94.30" cy="452.09" r="3.3" fill="#ff8000"/><circle cx="93.30" cy="451.09" r="0.9" fill="#ffffff" opacity="0.85"/>
<circle cx="105.62" cy="479.36" r="3.3" fill="#ff8000"/><circle cx="104.62" cy="478.36" r="0.9" fill="#ffffff" opacity="0.85"/>
<circle cx="116.95" cy="487.25" r="3.3" fill="#ff8000"/><circle cx="115.95" cy="486.25" r="0.9" fill="#ffffff" opacity="0.85"/>
<circle cx="128.28" cy="489.94" r="3.3" fill="#ff8000"/><circle cx="127.28" cy="488.94" r="0.9" fill="#ffffff" opacity="0.85"/>
<circle cx="139.60" cy="491.16" r="3.3" fill="#ff8000"/><circle cx="138.60" cy="490.16" r="0.9" fill="#ffffff" opacity="0.85"/>
<circle cx="150.93" cy="491.97" r="3.3" fill="#ff8000"/><circle cx="149.93" cy="490.97" r="0.9" fill="#ffffff" opacity="0.85"/>
<circle cx="162.25" cy="492.62" r="3.3" fill="#ff8000"/><circle cx="161.25" cy="491.62" r="0.9" fill="#ffffff" opacity="0.85"/>
<circle cx="173.57" cy="492.77" r="3.3" fill="#ff8000"/><circle cx="172.57" cy="491.77" r="0.9" fill="#ffffff" opacity="0.85"/>
<circle cx="184.90" cy="492.88" r="3.3" fill="#ff8000"/><circle cx="183.90" cy="491.88" r="0.9" fill="#ffffff" opacity="0.85"/>
<circle cx="196.22" cy="492.97" r="3.3" fill="#ff8000"/><circle cx="195.22" cy="491.97" r="0.9" fill="#ffffff" opacity="0.85"/>
<circle cx="207.55" cy="493.03" r="3.3" fill="#ff8000"/><circle cx="206.55" cy="492.03" r="0.9" fill="#ffffff" opacity="0.85"/>
<circle cx="218.88" cy="493.09" r="3.3" fill="#ff8000"/><circle cx="217.88" cy="492.09" r="0.9" fill="#ffffff" opacity="0.85"/>
<circle cx="230.20" cy="493.13" r="3.3" fill="#ff8000"/><circle cx="229.20" cy="492.13" r="0.9" fill="#ffffff" opacity="0.85"/>
<circle cx="241.53" cy="493.16" r="3.3" fill="#ff8000"/><circle cx="240.53" cy="492.16" r="0.9" fill="#ffffff" opacity="0.85"/>
<circle cx="252.85" cy="493.19" r="3.3" fill="#ff8000"/><circle cx="251.85" cy="492.19" r="0.9" fill="#ffffff" opacity="0.85"/>
<circle cx="264.18" cy="493.21" r="3.3" fill="#ff8000"/><circle cx="263.18" cy="492.21" r="0.9" fill="#ffffff" opacity="0.85"/>
<circle cx="275.50" cy="493.22" r="3.3" fill="#ff8000"/><circle cx="274.50" cy="492.22" r="0.9" fill="#ffffff" opacity="0.85"/>
<circle cx="286.83" cy="493.23" r="3.3" fill="#ff8000"/><circle cx="285.83" cy="492.23" r="0.9" fill="#ffffff" opacity="0.85"/>
<circle cx="298.15" cy="493.24" r="3.3" fill="#ff8000"/><circle cx="297.15" cy="492.24" r="0.9" fill="#ffffff" opacity="0.85"/>
<circle cx="309.48" cy="493.25" r="3.3" fill="#ff8000"/><circle cx="308.48" cy="492.25" r="0.9" fill="#ffffff" opacity="0.85"/>
<circle cx="320.80" cy="493.25" r="3.3" fill="#ff8000"/><circle cx="319.80" cy="492.25" r="0.9" fill="#ffffff" opacity="0.85"/>
<path d="M49.00,493.60 C52.77,485.27 56.55,482.76 60.33,468.61 C64.10,454.46 67.88,327.54 71.65,327.54 C75.42,327.54 79.20,375.71 82.97,399.18 C86.75,422.64 90.53,459.94 94.30,468.37 C98.08,476.79 101.85,481.06 105.62,483.83 C109.40,486.61 113.17,488.69 116.95,489.53 C120.73,490.37 124.50,490.80 128.28,491.16 C132.05,491.52 135.83,491.73 139.60,491.97 C143.38,492.21 147.15,492.54 150.93,492.62 C154.70,492.70 158.47,492.73 162.25,492.77 C166.03,492.81 169.80,492.85 173.57,492.88 C177.35,492.91 181.12,492.94 184.90,492.97 C188.68,492.99 192.45,493.01 196.22,493.03 C200.00,493.05 203.78,493.07 207.55,493.09 C211.33,493.10 215.10,493.12 218.88,493.13 C222.65,493.14 226.43,493.15 230.20,493.16 C233.98,493.17 237.75,493.18 241.53,493.19 C245.30,493.19 249.07,493.20 252.85,493.21 C256.62,493.21 260.40,493.22 264.18,493.22 C267.95,493.23 271.73,493.23 275.50,493.23 C279.28,493.24 283.05,493.24 286.83,493.24 C290.60,493.24 294.38,493.25 298.15,493.25 C301.93,493.25 305.70,493.25 309.48,493.25 C313.25,493.26 317.03,493.26 320.80,493.26" fill="none" stroke="#00ff00" stroke-width="2.0" stroke-linejoin="round" stroke-linecap="round"/>
<circle cx="49.00" cy="493.60" r="3.3" fill="#00ff00"/><circle cx="48.00" cy="492.60" r="0.9" fill="#ffffff" opacity="0.85"/>
<circle cx="60.33" cy="468.61" r="3.3" fill="#00ff00"/><circle cx="59.33" cy="467.61" r="0.9" fill="#ffffff" opacity="0.85"/>
<circle cx="71.65" cy="327.54" r="3.3" fill="#00ff00"/><circle cx="70.65" cy="326.54" r="0.9" fill="#ffffff" opacity="0.85"/>
<circle cx="82.97" cy="399.18" r="3.3" fill="#00ff00"/><circle cx="81.97" cy="398.18" r="0.9" fill="#ffffff" opacity="0.85"/>
<circle cx="94.30" cy="468.37" r="3.3" fill="#00ff00"/><circle cx="93.30" cy="467.37" r="0.9" fill="#ffffff" opacity="0.85"/>
<circle cx="105.62" cy="483.83" r="3.3" fill="#00ff00"/><circle cx="104.62" cy="482.83" r="0.9" fill="#ffffff" opacity="0.85"/>
<circle cx="116.95" cy="489.53" r="3.3" fill="#00ff00"/><circle cx="115.95" cy="488.53" r="0.9" fill="#ffffff" opacity="0.85"/>
<circle cx="128.28" cy="491.16" r="3.3" fill="#00ff00"/><circle cx="127.28" cy="490.16" r="0.9" fill="#ffffff" opacity="0.85"/>
<circle cx="139.60" cy="491.97" r="3.3" fill="#00ff00"/><circle cx="138.60" cy="490.97" r="0.9" fill="#ffffff" opacity="0.85"/>
<circle cx="150.93" cy="492.62" r="3.3" fill="#00ff00"/><circle cx="149.93" cy="491.62" r="0.9" fill="#ffffff" opacity="0.85"/>
<circle cx="162.25" cy="492.77" r="3.3" fill="#00ff00"/><circle cx="161.25" cy="491.77" r="0.9" fill="#ffffff" opacity="0.85"/>
<circle cx="173.57" cy="492.88" r="3.3" fill="#00ff00"/><circle cx="172.57" cy="491.88" r="0.9" fill="#ffffff" opacity="0.85"/>
<circle cx="184.90" cy="492.97" r="3.3" fill="#00ff00"/><circle cx="183.90" cy="491.97" r="0.9" fill="#ffffff" opacity="0.85"/>
<circle cx="196.22" cy="493.03" r="3.3" fill="#00ff00"/><circle cx="195.22" cy="492.03" r="0.9" fill="#ffffff" opacity="0.85"/>
<circle cx="207.55" cy="493.09" r="3.3" fill="#00ff00"/><circle cx="206.55" cy="492.09" r="0.9" fill="#ffffff" opacity="0.85"/>
<circle cx="218.88" cy="493.13" r="3.3" fill="#00ff00"/><circle cx="217.88" cy="492.13" r="0.9" fill="#ffffff" opacity="0.85"/>
<circle cx="230.20" cy="493.16" r="3.3" fill="#00ff00"/><circle cx="229.20" cy="492.16" r="0.9" fill="#ffffff" opacity="0.85"/>
<circle cx="241.53" cy="493.19" r="3.3" fill="#00ff00"/><circle cx="240.53" cy="492.19" r="0.9" fill="#ffffff" opacity="0.85"/>
<circle cx="252.85" cy="493.21" r="3.3" fill="#00ff00"/><circle cx="251.85" cy="492.21" r="0.9" fill="#ffffff" opacity="0.85"/>
<circle cx="264.18" cy="493.22" r="3.3" fill="#00ff00"/><circle cx="263.18" cy="492.22" r="0.9" fill="#ffffff" opacity="0.85"/>
<circle cx="275.50" cy="493.23" r="3.3" fill="#00ff00"/><circle cx="274.50" cy="492.23" r="0.9" fill="#ffffff" opacity="0.85"/>
<circle cx="286.83" cy="493.24" r="3.3" fill="#00ff00"/><circle cx="285.83" cy="492.24" r="0.9" fill="#ffffff" opacity="0.85"/>
<circle cx="298.15" cy="493.25" r="3.3" fill="#00ff00"/><circle cx="297.15" cy="492.25" r="0.9" fill="#ffffff" opacity="0.85"/>
<circle cx="309.48" cy="493.25" r="3.3" fill="#00ff00"/><circle cx="308.48" cy="492.25" r="0.9" fill="#ffffff" opacity="0.85"/>
<circle cx="320.80" cy="493.26" r="3.3" fill="#00ff00"/><circle cx="319.80" cy="492.26" r="0.9" fill="#ffffff" opacity="0.85"/>
<path d="M49.00,493.60 C52.77,481.58 56.55,477.14 60.33,457.54 C64.10,437.94 67.88,298.24 71.65,298.24 C75.42,298.24 79.20,395.97 82.97,421.15 C86.75,446.34 90.53,468.97 94.30,475.69 C98.08,482.42 101.85,486.42 105.62,488.06 C109.40,489.71 113.17,490.73 116.95,491.16 C120.73,491.59 124.50,491.73 128.28,491.97 C132.05,492.21 135.83,492.54 139.60,492.62 C143.38,492.71 147.15,492.74 150.93,492.79 C154.70,492.83 158.47,492.86 162.25,492.89 C166.03,492.93 169.80,492.95 173.57,492.98 C177.35,493.00 181.12,493.02 184.90,493.04 C188.68,493.06 192.45,493.08 196.22,493.09 C200.00,493.11 203.78,493.12 207.55,493.13 C211.33,493.15 215.10,493.16 218.88,493.17 C222.65,493.17 226.43,493.18 230.20,493.19 C233.98,493.20 237.75,493.20 241.53,493.21 C245.30,493.21 249.07,493.22 252.85,493.22 C256.62,493.23 260.40,493.23 264.18,493.23 C267.95,493.24 271.73,493.24 275.50,493.24 C279.28,493.25 283.05,493.25 286.83,493.25 C290.60,493.25 294.38,493.25 298.15,493.26 C301.93,493.26 305.70,493.26 309.48,493.26 C313.25,493.26 317.03,493.26 320.80,493.26" fill="none" stroke="#000000" stroke-width="2.0" stroke-linejoin="round" stroke-linecap="round"/>
<circle cx="49.00" cy="493.60" r="3.3" fill="#000000"/><circle cx="48.00" cy="492.60" r="0.9" fill="#ffffff" opacity="0.85"/>
<circle cx="60.33" cy="457.54" r="3.3" fill="#000000"/><circle cx="59.33" cy="456.54" r="0.9" fill="#ffffff" opacity="0.85"/>
<circle cx="71.65" cy="298.24" r="3.3" fill="#000000"/><circle cx="70.65" cy="297.24" r="0.9" fill="#ffffff" opacity="0.85"/>
<circle cx="82.97" cy="421.15" r="3.3" fill="#000000"/><circle cx="81.97" cy="420.15" r="0.9" fill="#ffffff" opacity="0.85"/>
<circle cx="94.30" cy="475.69" r="3.3" fill="#000000"/><circle cx="93.30" cy="474.69" r="0.9" fill="#ffffff" opacity="0.85"/>
<circle cx="105.62" cy="488.06" r="3.3" fill="#000000"/><circle cx="104.62" cy="487.06" r="0.9" fill="#ffffff" opacity="0.85"/>
<circle cx="116.95" cy="491.16" r="3.3" fill="#000000"/><circle cx="115.95" cy="490.16" r="0.9" fill="#ffffff" opacity="0.85"/>
<circle cx="128.28" cy="491.97" r="3.3" fill="#000000"/><circle cx="127.28" cy="490.97" r="0.9" fill="#ffffff" opacity="0.85"/>
<circle cx="139.60" cy="492.62" r="3.3" fill="#000000"/><circle cx="138.60" cy="491.62" r="0.9" fill="#ffffff" opacity="0.85"/>
<circle cx="150.93" cy="492.79" r="3.3" fill="#000000"/><circle cx="149.93" cy="491.79" r="0.9" fill="#ffffff" opacity="0.85"/>
<circle cx="162.25" cy="492.89" r="3.3" fill="#000000"/><circle cx="161.25" cy="491.89" r="0.9" fill="#ffffff" opacity="0.85"/>
<circle cx="173.57" cy="492.98" r="3.3" fill="#000000"/><circle cx="172.57" cy="491.98" r="0.9" fill="#ffffff" opacity="0.85"/>
<circle cx="184.90" cy="493.04" r="3.3" fill="#000000"/><circle cx="183.90" cy="492.04" r="0.9" fill="#ffffff" opacity="0.85"/>
<circle cx="196.22" cy="493.09" r="3.3" fill="#000000"/><circle cx="195.22" cy="492.09" r="0.9" fill="#ffffff" opacity="0.85"/>
<circle cx="207.55" cy="493.13" r="3.3" fill="#000000"/><circle cx="206.55" cy="492.13" r="0.9" fill="#ffffff" opacity="0.85"/>
<circle cx="218.88" cy="493.17" r="3.3" fill="#000000"/><circle cx="217.88" cy="492.17" r="0.9" fill="#ffffff" opacity="0.85"/>
<circle cx="230.20" cy="493.19" r="3.3" fill="#000000"/><circle cx="229.20" cy="492.19" r="0.9" fill="#ffffff" opacity="0.85"/>
<circle cx="241.53" cy="493.21" r="3.3" fill="#000000"/><circle cx="240.53" cy="492.21" r="0.9" fill="#ffffff" opacity="0.85"/>
<circle cx="252.85" cy="493.22" r="3.3" fill="#000000"/><circle cx="251.85" cy="492.22" r="0.9" fill="#ffffff" opacity="0.85"/>
<circle cx="264.18" cy="493.23" r="3.3" fill="#000000"/><circle cx="263.18" cy="492.23" r="0.9" fill="#ffffff" opacity="0.85"/>
<circle cx="275.50" cy="493.24" r="3.3" fill="#000000"/><circle cx="274.50" cy="492.24" r="0.9" fill="#ffffff" opacity="0.85"/>
<circle cx="286.83" cy="493.25" r="3.3" fill="#000000"/><circle cx="285.83" cy="492.25" r="0.9" fill="#ffffff" opacity="0.85"/>
<circle cx="298.15" cy="493.26" r="3.3" fill="#000000"/><circle cx="297.15" cy="492.26" r="0.9" fill="#ffffff" opacity="0.85"/>
<circle cx="309.48" cy="493.26" r="3.3" fill="#000000"/><circle cx="308.48" cy="492.26" r="0.9" fill="#ffffff" opacity="0.85"/>
<circle cx="320.80" cy="493.26" r="3.3" fill="#000000"/><circle cx="319.80" cy="492.26" r="0.9" fill="#ffffff" opacity="0.85"/>
<path d="M49.00,493.60 C52.77,492.79 56.55,492.59 60.33,491.16 C64.10,489.72 67.88,481.53 71.65,472.84 C75.42,464.16 79.20,440.98 82.97,427.67 C86.75,414.35 90.53,391.85 94.30,391.85 C98.08,391.85 101.85,414.54 105.62,426.20 C109.40,437.86 113.17,454.40 116.95,461.85 C120.73,469.31 124.50,474.77 128.28,478.13 C132.05,481.50 135.83,483.96 139.60,485.46 C143.38,486.96 147.15,487.99 150.93,488.72 C154.70,489.44 158.47,489.92 162.25,490.34 C166.03,490.77 169.80,491.16 173.57,491.40 C177.35,491.65 181.12,491.81 184.90,491.97 C188.68,492.13 192.45,492.28 196.22,492.38 C200.00,492.48 203.78,492.56 207.55,492.62 C211.33,492.69 215.10,492.74 218.88,492.79 C222.65,492.83 226.43,492.86 230.20,492.89 C233.98,492.93 237.75,492.95 241.53,492.98 C245.30,493.00 249.07,493.02 252.85,493.04 C256.62,493.06 260.40,493.08 264.18,493.09 C267.95,493.11 271.73,493.12 275.50,493.13 C279.28,493.15 283.05,493.16 286.83,493.17 C290.60,493.17 294.38,493.18 298.15,493.19 C301.93,493.20 305.70,493.20 309.48,493.21 C313.25,493.21 317.03,493.22 320.80,493.22" fill="none" stroke="#ff00ff" stroke-width="2.0" stroke-linejoin="round" stroke-linecap="round"/>
<circle cx="49.00" cy="493.60" r="3.3" fill="#ff00ff"/><circle cx="48.00" cy="492.60" r="0.9" fill="#ffffff" opacity="0.85"/>
<circle cx="60.33" cy="491.16" r="3.3" fill="#ff00ff"/><circle cx="59.33" cy="490.16" r="0.9" fill="#ffffff" opacity="0.85"/>
<circle cx="71.65" cy="472.84" r="3.3" fill="#ff00ff"/><circle cx="70.65" cy="471.84" r="0.9" fill="#ffffff" opacity="0.85"/>
<circle cx="82.97" cy="427.67" r="3.3" fill="#ff00ff"/><circle cx="81.97" cy="426.67" r="0.9" fill="#ffffff" opacity="0.85"/>
<circle cx="94.30" cy="391.85" r="3.3" fill="#ff00ff"/><circle cx="93.30" cy="390.85" r="0.9" fill="#ffffff" opacity="0.85"/>
<circle cx="105.62" cy="426.20" r="3.3" fill="#ff00ff"/><circle cx="104.62" cy="425.20" r="0.9" fill="#ffffff" opacity="0.85"/>
<circle cx="116.95" cy="461.85" r="3.3" fill="#ff00ff"/><circle cx="115.95" cy="460.85" r="0.9" fill="#ffffff" opacity="0.85"/>
<circle cx="128.28" cy="478.13" r="3.3" fill="#ff00ff"/><circle cx="127.28" cy="477.13" r="0.9" fill="#ffffff" opacity="0.85"/>
<circle cx="139.60" cy="485.46" r="3.3" fill="#ff00ff"/><circle cx="138.60" cy="484.46" r="0.9" fill="#ffffff" opacity="0.85"/>
<circle cx="150.93" cy="488.72" r="3.3" fill="#ff00ff"/><circle cx="149.93" cy="487.72" r="0.9" fill="#ffffff" opacity="0.85"/>
<circle cx="162.25" cy="490.34" r="3.3" fill="#ff00ff"/><circle cx="161.25" cy="489.34" r="0.9" fill="#ffffff" opacity="0.85"/>
<circle cx="173.57" cy="491.40" r="3.3" fill="#ff00ff"/><circle cx="172.57" cy="490.40" r="0.9" fill="#ffffff" opacity="0.85"/>
<circle cx="184.90" cy="491.97" r="3.3" fill="#ff00ff"/><circle cx="183.90" cy="490.97" r="0.9" fill="#ffffff" opacity="0.85"/>
<circle cx="196.22" cy="492.38" r="3.3" fill="#ff00ff"/><circle cx="195.22" cy="491.38" r="0.9" fill="#ffffff" opacity="0.85"/>
<circle cx="207.55" cy="492.62" r="3.3" fill="#ff00ff"/><circle cx="206.55" cy="491.62" r="0.9" fill="#ffffff" opacity="0.85"/>
<circle cx="218.88" cy="492.79" r="3.3" fill="#ff00ff"/><circle cx="217.88" cy="491.79" r="0.9" fill="#ffffff" opacity="0.85"/>
<circle cx="230.20" cy="492.89" r="3.3" fill="#ff00ff"/><circle cx="229.20" cy="491.89" r="0.9" fill="#ffffff" opacity="0.85"/>
<circle cx="241.53" cy="492.98" r="3.3" fill="#ff00ff"/><circle cx="240.53" cy="491.98" r="0.9" fill="#ffffff" opacity="0.85"/>
<circle cx="252.85" cy="493.04" r="3.3" fill="#ff00ff"/><circle cx="251.85" cy="492.04" r="0.9" fill="#ffffff" opacity="0.85"/>
<circle cx="264.18" cy="493.09" r="3.3" fill="#ff00ff"/><circle cx="263.18" cy="492.09" r="0.9" fill="#ffffff" opacity="0.85"/>
<circle cx="275.50" cy="493.13" r="3.3" fill="#ff00ff"/><circle cx="274.50" cy="492.13" r="0.9" fill="#ffffff" opacity="0.85"/>
<circle cx="286.83" cy="493.17" r="3.3" fill="#ff00ff"/><circle cx="285.83" cy="492.17" r="0.9" fill="#ffffff" opacity="0.85"/>
<circle cx="298.15" cy="493.19" r="3.3" fill="#ff00ff"/><circle cx="297.15" cy="492.19" r="0.9" fill="#ffffff" opacity="0.85"/>
<circle cx="309.48" cy="493.21" r="3.3" fill="#ff00ff"/><circle cx="308.48" cy="492.21" r="0.9" fill="#ffffff" opacity="0.85"/>
<circle cx="320.80" cy="493.22" r="3.3" fill="#ff00ff"/><circle cx="319.80" cy="492.22" r="0.9" fill="#ffffff" opacity="0.85"/>
<path d="M49.00,493.60 C52.77,493.33 56.55,493.11 60.33,492.79 C64.10,492.46 67.88,492.20 71.65,491.56 C75.42,490.93 79.20,489.22 82.97,487.17 C86.75,485.12 90.53,480.91 94.30,476.91 C98.08,472.92 101.85,467.72 105.62,462.51 C109.40,457.29 113.17,449.28 116.95,445.41 C120.73,441.54 124.50,436.62 128.28,436.62 C132.05,436.62 135.83,440.48 139.60,443.54 C143.38,446.60 147.15,452.76 150.93,457.13 C154.70,461.51 158.47,466.48 162.25,469.83 C166.03,473.18 169.80,476.02 173.57,478.13 C177.35,480.25 181.12,481.91 184.90,483.26 C188.68,484.61 192.45,485.66 196.22,486.60 C200.00,487.54 203.78,488.43 207.55,489.04 C211.33,489.65 215.10,490.21 218.88,490.51 C222.65,490.81 226.43,490.94 230.20,491.16 C233.98,491.38 237.75,491.64 241.53,491.81 C245.30,491.98 249.07,492.11 252.85,492.22 C256.62,492.32 260.40,492.40 264.18,492.46 C267.95,492.53 271.73,492.57 275.50,492.62 C279.28,492.68 283.05,492.75 286.83,492.79 C290.60,492.82 294.38,492.84 298.15,492.87 C301.93,492.89 305.70,492.92 309.48,492.95 C313.25,492.98 317.03,493.00 320.80,493.03" fill="none" stroke="#0000ff" stroke-width="2.0" stroke-linejoin="round" stroke-linecap="round"/>
<circle cx="49.00" cy="493.60" r="3.3" fill="#0000ff"/><circle cx="48.00" cy="492.60" r="0.9" fill="#ffffff" opacity="0.85"/>
<circle cx="60.33" cy="492.79" r="3.3" fill="#0000ff"/><circle cx="59.33" cy="491.79" r="0.9" fill="#ffffff" opacity="0.85"/>
<circle cx="71.65" cy="491.56" r="3.3" fill="#0000ff"/><circle cx="70.65" cy="490.56" r="0.9" fill="#ffffff" opacity="0.85"/>
<circle cx="82.97" cy="487.17" r="3.3" fill="#0000ff"/><circle cx="81.97" cy="486.17" r="0.9" fill="#ffffff" opacity="0.85"/>
<circle cx="94.30" cy="476.91" r="3.3" fill="#0000ff"/><circle cx="93.30" cy="475.91" r="0.9" fill="#ffffff" opacity="0.85"/>
<circle cx="105.62" cy="462.51" r="3.3" fill="#0000ff"/><circle cx="104.62" cy="461.51" r="0.9" fill="#ffffff" opacity="0.85"/>
<circle cx="116.95" cy="445.41" r="3.3" fill="#0000ff"/><circle cx="115.95" cy="444.41" r="0.9" fill="#ffffff" opacity="0.85"/>
<circle cx="128.28" cy="436.62" r="3.3" fill="#0000ff"/><circle cx="127.28" cy="435.62" r="0.9" fill="#ffffff" opacity="0.85"/>
<circle cx="139.60" cy="443.54" r="3.3" fill="#0000ff"/><circle cx="138.60" cy="442.54" r="0.9" fill="#ffffff" opacity="0.85"/>
<circle cx="150.93" cy="457.13" r="3.3" fill="#0000ff"/><circle cx="149.93" cy="456.13" r="0.9" fill="#ffffff" opacity="0.85"/>
<circle cx="162.25" cy="469.83" r="3.3" fill="#0000ff"/><circle cx="161.25" cy="468.83" r="0.9" fill="#ffffff" opacity="0.85"/>
<circle cx="173.57" cy="478.13" r="3.3" fill="#0000ff"/><circle cx="172.57" cy="477.13" r="0.9" fill="#ffffff" opacity="0.85"/>
<circle cx="184.90" cy="483.26" r="3.3" fill="#0000ff"/><circle cx="183.90" cy="482.26" r="0.9" fill="#ffffff" opacity="0.85"/>
<circle cx="196.22" cy="486.60" r="3.3" fill="#0000ff"/><circle cx="195.22" cy="485.60" r="0.9" fill="#ffffff" opacity="0.85"/>
<circle cx="207.55" cy="489.04" r="3.3" fill="#0000ff"/><circle cx="206.55" cy="488.04" r="0.9" fill="#ffffff" opacity="0.85"/>
<circle cx="218.88" cy="490.51" r="3.3" fill="#0000ff"/><circle cx="217.88" cy="489.51" r="0.9" fill="#ffffff" opacity="0.85"/>
<circle cx="230.20" cy="491.16" r="3.3" fill="#0000ff"/><circle cx="229.20" cy="490.16" r="0.9" fill="#ffffff" opacity="0.85"/>
<circle cx="241.53" cy="491.81" r="3.3" fill="#0000ff"/><circle cx="240.53" cy="490.81" r="0.9" fill="#ffffff" opacity="0.85"/>
<circle cx="252.85" cy="492.22" r="3.3" fill="#0000ff"/><circle cx="251.85" cy="491.22" r="0.9" fill="#ffffff" opacity="0.85"/>
<circle cx="264.18" cy="492.46" r="3.3" fill="#0000ff"/><circle cx="263.18" cy="491.46" r="0.9" fill="#ffffff" opacity="0.85"/>
<circle cx="275.50" cy="492.62" r="3.3" fill="#0000ff"/><circle cx="274.50" cy="491.62" r="0.9" fill="#ffffff" opacity="0.85"/>
<circle cx="286.83" cy="492.79" r="3.3" fill="#0000ff"/><circle cx="285.83" cy="491.79" r="0.9" fill="#ffffff" opacity="0.85"/>
<circle cx="298.15" cy="492.87" r="3.3" fill="#0000ff"/><circle cx="297.15" cy="491.87" r="0.9" fill="#ffffff" opacity="0.85"/>
<circle cx="309.48" cy="492.95" r="3.3" fill="#0000ff"/><circle cx="308.48" cy="491.95" r="0.9" fill="#ffffff" opacity="0.85"/>
<circle cx="320.80" cy="493.03" r="3.3" fill="#0000ff"/><circle cx="319.80" cy="492.03" r="0.9" fill="#ffffff" opacity="0.85"/>
</g>
<rect x="42.50" y="289.30" width="278.10" height="212.90" fill="none" stroke="#000" stroke-width="2.3"/>
<line x1="49.00" y1="502.20" x2="49.00" y2="497.90" stroke="#000" stroke-width="1.8"/>
<line x1="94.30" y1="502.20" x2="94.30" y2="497.90" stroke="#000" stroke-width="1.8"/>
<line x1="139.60" y1="502.20" x2="139.60" y2="497.90" stroke="#000" stroke-width="1.8"/>
<line x1="184.90" y1="502.20" x2="184.90" y2="497.90" stroke="#000" stroke-width="1.8"/>
<line x1="230.20" y1="502.20" x2="230.20" y2="497.90" stroke="#000" stroke-width="1.8"/>
<line x1="275.50" y1="502.20" x2="275.50" y2="497.90" stroke="#000" stroke-width="1.8"/>
<line x1="320.80" y1="502.20" x2="320.80" y2="497.90" stroke="#000" stroke-width="1.8"/>
<line x1="71.65" y1="502.20" x2="71.65" y2="499.30" stroke="#000" stroke-width="1.8"/>
<line x1="116.95" y1="502.20" x2="116.95" y2="499.30" stroke="#000" stroke-width="1.8"/>
<line x1="162.25" y1="502.20" x2="162.25" y2="499.30" stroke="#000" stroke-width="1.8"/>
<line x1="207.55" y1="502.20" x2="207.55" y2="499.30" stroke="#000" stroke-width="1.8"/>
<line x1="252.85" y1="502.20" x2="252.85" y2="499.30" stroke="#000" stroke-width="1.8"/>
<line x1="298.15" y1="502.20" x2="298.15" y2="499.30" stroke="#000" stroke-width="1.8"/>
<line x1="42.50" y1="493.60" x2="46.80" y2="493.60" stroke="#000" stroke-width="1.8"/>
<line x1="42.50" y1="452.90" x2="46.80" y2="452.90" stroke="#000" stroke-width="1.8"/>
<line x1="42.50" y1="412.20" x2="46.80" y2="412.20" stroke="#000" stroke-width="1.8"/>
<line x1="42.50" y1="371.50" x2="46.80" y2="371.50" stroke="#000" stroke-width="1.8"/>
<line x1="42.50" y1="330.80" x2="46.80" y2="330.80" stroke="#000" stroke-width="1.8"/>
<line x1="42.50" y1="290.10" x2="46.80" y2="290.10" stroke="#000" stroke-width="1.8"/>
<line x1="42.50" y1="473.25" x2="45.40" y2="473.25" stroke="#000" stroke-width="1.8"/>
<line x1="42.50" y1="432.55" x2="45.40" y2="432.55" stroke="#000" stroke-width="1.8"/>
<line x1="42.50" y1="391.85" x2="45.40" y2="391.85" stroke="#000" stroke-width="1.8"/>
<line x1="42.50" y1="351.15" x2="45.40" y2="351.15" stroke="#000" stroke-width="1.8"/>
<line x1="42.50" y1="310.45" x2="45.40" y2="310.45" stroke="#000" stroke-width="1.8"/>
<clipPath id="cd"><rect x="379.50" y="287.80" width="276.40" height="212.80"/></clipPath>
<g clip-path="url(#cd)">
<path d="M385.50,492.50 C389.25,492.36 393.00,492.33 396.75,492.09 C400.50,491.85 404.25,490.67 408.00,489.47 C411.75,488.26 415.50,485.98 419.25,483.64 C423.00,481.31 426.75,478.40 430.50,474.87 C434.25,471.34 438.00,465.93 441.75,461.50 C445.50,457.08 449.25,450.89 453.00,448.30 C456.75,445.72 460.50,442.81 464.25,442.81 C468.00,442.81 471.75,444.16 475.50,445.68 C479.25,447.19 483.00,453.02 486.75,456.58 C490.50,460.15 494.25,464.27 498.00,467.08 C501.75,469.89 505.50,472.07 509.25,474.13 C513.00,476.19 516.75,478.15 520.50,479.63 C524.25,481.10 528.00,482.33 531.75,483.32 C535.50,484.30 539.25,485.10 543.00,485.78 C546.75,486.45 550.50,487.10 554.25,487.50 C558.00,487.89 561.75,488.11 565.50,488.40 C569.25,488.69 573.00,488.98 576.75,489.22 C580.50,489.46 584.25,489.69 588.00,489.88 C591.75,490.06 595.50,490.22 599.25,490.37 C603.00,490.52 606.75,490.66 610.50,490.78 C614.25,490.90 618.00,491.01 621.75,491.11 C625.50,491.20 629.25,491.29 633.00,491.35 C636.75,491.42 640.50,491.46 644.25,491.52 C648.00,491.57 651.75,491.63 655.50,491.68" fill="none" stroke="#008000" stroke-width="2.0" stroke-linejoin="round" stroke-linecap="round"/>
<circle cx="385.50" cy="492.50" r="3.3" fill="#008000"/><circle cx="384.50" cy="491.50" r="0.9" fill="#ffffff" opacity="0.85"/>
<circle cx="396.75" cy="492.09" r="3.3" fill="#008000"/><circle cx="395.75" cy="491.09" r="0.9" fill="#ffffff" opacity="0.85"/>
<circle cx="408.00" cy="489.47" r="3.3" fill="#008000"/><circle cx="407.00" cy="488.47" r="0.9" fill="#ffffff" opacity="0.85"/>
<circle cx="419.25" cy="483.64" r="3.3" fill="#008000"/><circle cx="418.25" cy="482.64" r="0.9" fill="#ffffff" opacity="0.85"/>
<circle cx="430.50" cy="474.87" r="3.3" fill="#008000"/><circle cx="429.50" cy="473.87" r="0.9" fill="#ffffff" opacity="0.85"/>
<circle cx="441.75" cy="461.50" r="3.3" fill="#008000"/><circle cx="440.75" cy="460.50" r="0.9" fill="#ffffff" opacity="0.85"/>
<circle cx="453.00" cy="448.30" r="3.3" fill="#008000"/><circle cx="452.00" cy="447.30" r="0.9" fill="#ffffff" opacity="0.85"/>
<circle cx="464.25" cy="442.81" r="3.3" fill="#008000"/><circle cx="463.25" cy="441.81" r="0.9" fill="#ffffff" opacity="0.85"/>
<circle cx="475.50" cy="445.68" r="3.3" fill="#008000"/><circle cx="474.50" cy="444.68" r="0.9" fill="#ffffff" opacity="0.85"/>
<circle cx="486.75" cy="456.58" r="3.3" fill="#008000"/><circle cx="485.75" cy="455.58" r="0.9" fill="#ffffff" opacity="0.85"/>
<circle cx="498.00" cy="467.08" r="3.3" fill="#008000"/><circle cx="497.00" cy="466.08" r="0.9" fill="#ffffff" opacity="0.85"/>
<circle cx="509.25" cy="474.13" r="3.3" fill="#008000"/><circle cx="508.25" cy="473.13" r="0.9" fill="#ffffff" opacity="0.85"/>
<circle cx="520.50" cy="479.63" r="3.3" fill="#008000"/><circle cx="519.50" cy="478.63" r="0.9" fill="#ffffff" opacity="0.85"/>
<circle cx="531.75" cy="483.32" r="3.3" fill="#008000"/><circle cx="530.75" cy="482.32" r="0.9" fill="#ffffff" opacity="0.85"/>
<circle cx="543.00" cy="485.78" r="3.3" fill="#008000"/><circle cx="542.00" cy="484.78" r="0.9" fill="#ffffff" opacity="0.85"/>
<circle cx="554.25" cy="487.50" r="3.3" fill="#008000"/><circle cx="553.25" cy="486.50" r="0.9" fill="#ffffff" opacity="0.85"/>
<circle cx="565.50" cy="488.40" r="3.3" fill="#008000"/><circle cx="564.50" cy="487.40" r="0.9" fill="#ffffff" opacity="0.85"/>
<circle cx="576.75" cy="489.22" r="3.3" fill="#008000"/><circle cx="575.75" cy="488.22" r="0.9" fill="#ffffff" opacity="0.85"/>
<circle cx="588.00" cy="489.88" r="3.3" fill="#008000"/><circle cx="587.00" cy="488.88" r="0.9" fill="#ffffff" opacity="0.85"/>
<circle cx="599.25" cy="490.37" r="3.3" fill="#008000"/><circle cx="598.25" cy="489.37" r="0.9" fill="#ffffff" opacity="0.85"/>
<circle cx="610.50" cy="490.78" r="3.3" fill="#008000"/><circle cx="609.50" cy="489.78" r="0.9" fill="#ffffff" opacity="0.85"/>
<circle cx="621.75" cy="491.11" r="3.3" fill="#008000"/><circle cx="620.75" cy="490.11" r="0.9" fill="#ffffff" opacity="0.85"/>
<circle cx="633.00" cy="491.35" r="3.3" fill="#008000"/><circle cx="632.00" cy="490.35" r="0.9" fill="#ffffff" opacity="0.85"/>
<circle cx="644.25" cy="491.52" r="3.3" fill="#008000"/><circle cx="643.25" cy="490.52" r="0.9" fill="#ffffff" opacity="0.85"/>
<circle cx="655.50" cy="491.68" r="3.3" fill="#008000"/><circle cx="654.50" cy="490.68" r="0.9" fill="#ffffff" opacity="0.85"/>
<path d="M385.50,492.50 C389.25,492.28 393.00,492.21 396.75,491.84 C400.50,491.48 404.25,490.09 408.00,488.32 C411.75,486.54 415.50,481.74 419.25,477.49 C423.00,473.25 426.75,467.82 430.50,462.00 C434.25,456.17 438.00,446.34 441.75,441.99 C445.50,437.64 449.25,432.31 453.00,432.31 C456.75,432.31 460.50,435.93 464.25,439.12 C468.00,442.31 471.75,450.37 475.50,455.19 C479.25,460.01 483.00,464.93 486.75,468.31 C490.50,471.69 494.25,474.45 498.00,476.59 C501.75,478.73 505.50,480.49 509.25,481.84 C513.00,483.19 516.75,484.22 520.50,485.12 C524.25,486.02 528.00,486.84 531.75,487.42 C535.50,487.99 539.25,488.43 543.00,488.81 C546.75,489.19 550.50,489.53 554.25,489.79 C558.00,490.06 561.75,490.26 565.50,490.45 C569.25,490.64 573.00,490.81 576.75,490.94 C580.50,491.07 584.25,491.18 588.00,491.27 C591.75,491.36 595.50,491.46 599.25,491.52 C603.00,491.58 606.75,491.62 610.50,491.66 C614.25,491.70 618.00,491.74 621.75,491.77 C625.50,491.81 629.25,491.84 633.00,491.86 C636.75,491.89 640.50,491.91 644.25,491.93 C648.00,491.95 651.75,491.97 655.50,491.98" fill="none" stroke="#ff8000" stroke-width="2.0" stroke-linejoin="round" stroke-linecap="round"/>
<circle cx="385.50" cy="492.50" r="3.3" fill="#ff8000"/><circle cx="384.50" cy="491.50" r="0.9" fill="#ffffff" opacity="0.85"/>
<circle cx="396.75" cy="491.84" r="3.3" fill="#ff8000"/><circle cx="395.75" cy="490.84" r="0.9" fill="#ffffff" opacity="0.85"/>
<circle cx="408.00" cy="488.32" r="3.3" fill="#ff8000"/><circle cx="407.00" cy="487.32" r="0.9" fill="#ffffff" opacity="0.85"/>
<circle cx="419.25" cy="477.49" r="3.3" fill="#ff8000"/><circle cx="418.25" cy="476.49" r="0.9" fill="#ffffff" opacity="0.85"/>
<circle cx="430.50" cy="462.00" r="3.3" fill="#ff8000"/><circle cx="429.50" cy="461.00" r="0.9" fill="#ffffff" opacity="0.85"/>
<circle cx="441.75" cy="441.99" r="3.3" fill="#ff8000"/><circle cx="440.75" cy="440.99" r="0.9" fill="#ffffff" opacity="0.85"/>
<circle cx="453.00" cy="432.31" r="3.3" fill="#ff8000"/><circle cx="452.00" cy="431.31" r="0.9" fill="#ffffff" opacity="0.85"/>
<circle cx="464.25" cy="439.12" r="3.3" fill="#ff8000"/><circle cx="463.25" cy="438.12" r="0.9" fill="#ffffff" opacity="0.85"/>
<circle cx="475.50" cy="455.19" r="3.3" fill="#ff8000"/><circle cx="474.50" cy="454.19" r="0.9" fill="#ffffff" opacity="0.85"/>
<circle cx="486.75" cy="468.31" r="3.3" fill="#ff8000"/><circle cx="485.75" cy="467.31" r="0.9" fill="#ffffff" opacity="0.85"/>
<circle cx="498.00" cy="476.59" r="3.3" fill="#ff8000"/><circle cx="497.00" cy="475.59" r="0.9" fill="#ffffff" opacity="0.85"/>
<circle cx="509.25" cy="481.84" r="3.3" fill="#ff8000"/><circle cx="508.25" cy="480.84" r="0.9" fill="#ffffff" opacity="0.85"/>
<circle cx="520.50" cy="485.12" r="3.3" fill="#ff8000"/><circle cx="519.50" cy="484.12" r="0.9" fill="#ffffff" opacity="0.85"/>
<circle cx="531.75" cy="487.42" r="3.3" fill="#ff8000"/><circle cx="530.75" cy="486.42" r="0.9" fill="#ffffff" opacity="0.85"/>
<circle cx="543.00" cy="488.81" r="3.3" fill="#ff8000"/><circle cx="542.00" cy="487.81" r="0.9" fill="#ffffff" opacity="0.85"/>
<circle cx="554.25" cy="489.79" r="3.3" fill="#ff8000"/><circle cx="553.25" cy="488.79" r="0.9" fill="#ffffff" opacity="0.85"/>
<circle cx="565.50" cy="490.45" r="3.3" fill="#ff8000"/><circle cx="564.50" cy="489.45" r="0.9" fill="#ffffff" opacity="0.85"/>
<circle cx="576.75" cy="490.94" r="3.3" fill="#ff8000"/><circle cx="575.75" cy="489.94" r="0.9" fill="#ffffff" opacity="0.85"/>
<circle cx="588.00" cy="491.27" r="3.3" fill="#ff8000"/><circle cx="587.00" cy="490.27" r="0.9" fill="#ffffff" opacity="0.85"/>
<circle cx="599.25" cy="491.52" r="3.3" fill="#ff8000"/><circle cx="598.25" cy="490.52" r="0.9" fill="#ffffff" opacity="0.85"/>
<circle cx="610.50" cy="491.66" r="3.3" fill="#ff8000"/><circle cx="609.50" cy="490.66" r="0.9" fill="#ffffff" opacity="0.85"/>
<circle cx="621.75" cy="491.77" r="3.3" fill="#ff8000"/><circle cx="620.75" cy="490.77" r="0.9" fill="#ffffff" opacity="0.85"/>
<circle cx="633.00" cy="491.86" r="3.3" fill="#ff8000"/><circle cx="632.00" cy="490.86" r="0.9" fill="#ffffff" opacity="0.85"/>
<circle cx="644.25" cy="491.93" r="3.3" fill="#ff8000"/><circle cx="643.25" cy="490.93" r="0.9" fill="#ffffff" opacity="0.85"/>
<circle cx="655.50" cy="491.98" r="3.3" fill="#ff8000"/><circle cx="654.50" cy="490.98" r="0.9" fill="#ffffff" opacity="0.85"/>
<path d="M385.50,492.50 C389.25,492.17 393.00,492.09 396.75,491.52 C400.50,490.94 404.25,488.02 408.00,484.79 C411.75,481.57 415.50,474.54 419.25,467.57 C423.00,460.61 426.75,448.80 430.50,441.00 C434.25,433.20 438.00,420.09 441.75,420.09 C445.50,420.09 449.25,424.21 453.00,428.21 C456.75,432.21 460.50,444.72 464.25,451.17 C468.00,457.62 471.75,463.84 475.50,467.90 C479.25,471.96 483.00,475.19 486.75,477.49 C490.50,479.80 494.25,481.61 498.00,482.91 C501.75,484.20 505.50,485.12 509.25,485.94 C513.00,486.76 516.75,487.48 520.50,487.99 C524.25,488.50 528.00,488.89 531.75,489.22 C535.50,489.55 539.25,489.80 543.00,490.04 C546.75,490.28 550.50,490.53 554.25,490.70 C558.00,490.86 561.75,491.01 565.50,491.11 C569.25,491.21 573.00,491.27 576.75,491.34 C580.50,491.41 584.25,491.47 588.00,491.53 C591.75,491.58 595.50,491.63 599.25,491.67 C603.00,491.71 606.75,491.75 610.50,491.78 C614.25,491.81 618.00,491.84 621.75,491.87 C625.50,491.89 629.25,491.91 633.00,491.93 C636.75,491.95 640.50,491.97 644.25,491.99 C648.00,492.00 651.75,492.01 655.50,492.03" fill="none" stroke="#00ff00" stroke-width="2.0" stroke-linejoin="round" stroke-linecap="round"/>
<circle cx="385.50" cy="492.50" r="3.3" fill="#00ff00"/><circle cx="384.50" cy="491.50" r="0.9" fill="#ffffff" opacity="0.85"/>
<circle cx="396.75" cy="491.52" r="3.3" fill="#00ff00"/><circle cx="395.75" cy="490.52" r="0.9" fill="#ffffff" opacity="0.85"/>
<circle cx="408.00" cy="484.79" r="3.3" fill="#00ff00"/><circle cx="407.00" cy="483.79" r="0.9" fill="#ffffff" opacity="0.85"/>
<circle cx="419.25" cy="467.57" r="3.3" fill="#00ff00"/><circle cx="418.25" cy="466.57" r="0.9" fill="#ffffff" opacity="0.85"/>
<circle cx="430.50" cy="441.00" r="3.3" fill="#00ff00"/><circle cx="429.50" cy="440.00" r="0.9" fill="#ffffff" opacity="0.85"/>
<circle cx="441.75" cy="420.09" r="3.3" fill="#00ff00"/><circle cx="440.75" cy="419.09" r="0.9" fill="#ffffff" opacity="0.85"/>
<circle cx="453.00" cy="428.21" r="3.3" fill="#00ff00"/><circle cx="452.00" cy="427.21" r="0.9" fill="#ffffff" opacity="0.85"/>
<circle cx="464.25" cy="451.17" r="3.3" fill="#00ff00"/><circle cx="463.25" cy="450.17" r="0.9" fill="#ffffff" opacity="0.85"/>
<circle cx="475.50" cy="467.90" r="3.3" fill="#00ff00"/><circle cx="474.50" cy="466.90" r="0.9" fill="#ffffff" opacity="0.85"/>
<circle cx="486.75" cy="477.49" r="3.3" fill="#00ff00"/><circle cx="485.75" cy="476.49" r="0.9" fill="#ffffff" opacity="0.85"/>
<circle cx="498.00" cy="482.91" r="3.3" fill="#00ff00"/><circle cx="497.00" cy="481.91" r="0.9" fill="#ffffff" opacity="0.85"/>
<circle cx="509.25" cy="485.94" r="3.3" fill="#00ff00"/><circle cx="508.25" cy="484.94" r="0.9" fill="#ffffff" opacity="0.85"/>
<circle cx="520.50" cy="487.99" r="3.3" fill="#00ff00"/><circle cx="519.50" cy="486.99" r="0.9" fill="#ffffff" opacity="0.85"/>
<circle cx="531.75" cy="489.22" r="3.3" fill="#00ff00"/><circle cx="530.75" cy="488.22" r="0.9" fill="#ffffff" opacity="0.85"/>
<circle cx="543.00" cy="490.04" r="3.3" fill="#00ff00"/><circle cx="542.00" cy="489.04" r="0.9" fill="#ffffff" opacity="0.85"/>
<circle cx="554.25" cy="490.70" r="3.3" fill="#00ff00"/><circle cx="553.25" cy="489.70" r="0.9" fill="#ffffff" opacity="0.85"/>
<circle cx="565.50" cy="491.11" r="3.3" fill="#00ff00"/><circle cx="564.50" cy="490.11" r="0.9" fill="#ffffff" opacity="0.85"/>
<circle cx="576.75" cy="491.34" r="3.3" fill="#00ff00"/><circle cx="575.75" cy="490.34" r="0.9" fill="#ffffff" opacity="0.85"/>
<circle cx="588.00" cy="491.53" r="3.3" fill="#00ff00"/><circle cx="587.00" cy="490.53" r="0.9" fill="#ffffff" opacity="0.85"/>
<circle cx="599.25" cy="491.67" r="3.3" fill="#00ff00"/><circle cx="598.25" cy="490.67" r="0.9" fill="#ffffff" opacity="0.85"/>
<circle cx="610.50" cy="491.78" r="3.3" fill="#00ff00"/><circle cx="609.50" cy="490.78" r="0.9" fill="#ffffff" opacity="0.85"/>
<circle cx="621.75" cy="491.87" r="3.3" fill="#00ff00"/><circle cx="620.75" cy="490.87" r="0.9" fill="#ffffff" opacity="0.85"/>
<circle cx="633.00" cy="491.93" r="3.3" fill="#00ff00"/><circle cx="632.00" cy="490.93" r="0.9" fill="#ffffff" opacity="0.85"/>
<circle cx="644.25" cy="491.99" r="3.3" fill="#00ff00"/><circle cx="643.25" cy="490.99" r="0.9" fill="#ffffff" opacity="0.85"/>
<circle cx="655.50" cy="492.03" r="3.3" fill="#00ff00"/><circle cx="654.50" cy="491.03" r="0.9" fill="#ffffff" opacity="0.85"/>
<path d="M385.50,492.50 C389.25,491.95 393.00,491.81 396.75,490.86 C400.50,489.91 404.25,485.04 408.00,479.71 C411.75,474.38 415.50,462.23 419.25,451.50 C423.00,440.77 426.75,415.71 430.50,414.03 C434.25,412.34 438.00,411.32 441.75,411.32 C445.50,411.32 449.25,433.49 453.00,442.48 C456.75,451.47 460.50,461.17 464.25,466.26 C468.00,471.35 471.75,474.84 475.50,477.49 C479.25,480.14 483.00,482.42 486.75,483.64 C490.50,484.87 494.25,485.48 498.00,486.27 C501.75,487.05 505.50,487.88 509.25,488.40 C513.00,488.92 516.75,489.30 520.50,489.63 C524.25,489.96 528.00,490.22 531.75,490.45 C535.50,490.68 539.25,490.91 543.00,491.02 C546.75,491.14 550.50,491.20 554.25,491.28 C558.00,491.35 561.75,491.42 565.50,491.48 C569.25,491.53 573.00,491.58 576.75,491.63 C580.50,491.67 584.25,491.71 588.00,491.75 C591.75,491.78 595.50,491.82 599.25,491.84 C603.00,491.87 606.75,491.89 610.50,491.92 C614.25,491.94 618.00,491.96 621.75,491.97 C625.50,491.99 629.25,492.00 633.00,492.02 C636.75,492.03 640.50,492.04 644.25,492.05 C648.00,492.06 651.75,492.07 655.50,492.08" fill="none" stroke="#000000" stroke-width="2.0" stroke-linejoin="round" stroke-linecap="round"/>
<circle cx="385.50" cy="492.50" r="3.3" fill="#000000"/><circle cx="384.50" cy="491.50" r="0.9" fill="#ffffff" opacity="0.85"/>
<circle cx="396.75" cy="490.86" r="3.3" fill="#000000"/><circle cx="395.75" cy="489.86" r="0.9" fill="#ffffff" opacity="0.85"/>
<circle cx="408.00" cy="479.71" r="3.3" fill="#000000"/><circle cx="407.00" cy="478.71" r="0.9" fill="#ffffff" opacity="0.85"/>
<circle cx="419.25" cy="451.50" r="3.3" fill="#000000"/><circle cx="418.25" cy="450.50" r="0.9" fill="#ffffff" opacity="0.85"/>
<circle cx="430.50" cy="414.03" r="3.3" fill="#000000"/><circle cx="429.50" cy="413.03" r="0.9" fill="#ffffff" opacity="0.85"/>
<circle cx="441.75" cy="411.32" r="3.3" fill="#000000"/><circle cx="440.75" cy="410.32" r="0.9" fill="#ffffff" opacity="0.85"/>
<circle cx="453.00" cy="442.48" r="3.3" fill="#000000"/><circle cx="452.00" cy="441.48" r="0.9" fill="#ffffff" opacity="0.85"/>
<circle cx="464.25" cy="466.26" r="3.3" fill="#000000"/><circle cx="463.25" cy="465.26" r="0.9" fill="#ffffff" opacity="0.85"/>
<circle cx="475.50" cy="477.49" r="3.3" fill="#000000"/><circle cx="474.50" cy="476.49" r="0.9" fill="#ffffff" opacity="0.85"/>
<circle cx="486.75" cy="483.64" r="3.3" fill="#000000"/><circle cx="485.75" cy="482.64" r="0.9" fill="#ffffff" opacity="0.85"/>
<circle cx="498.00" cy="486.27" r="3.3" fill="#000000"/><circle cx="497.00" cy="485.27" r="0.9" fill="#ffffff" opacity="0.85"/>
<circle cx="509.25" cy="488.40" r="3.3" fill="#000000"/><circle cx="508.25" cy="487.40" r="0.9" fill="#ffffff" opacity="0.85"/>
<circle cx="520.50" cy="489.63" r="3.3" fill="#000000"/><circle cx="519.50" cy="488.63" r="0.9" fill="#ffffff" opacity="0.85"/>
<circle cx="531.75" cy="490.45" r="3.3" fill="#000000"/><circle cx="530.75" cy="489.45" r="0.9" fill="#ffffff" opacity="0.85"/>
<circle cx="543.00" cy="491.02" r="3.3" fill="#000000"/><circle cx="542.00" cy="490.02" r="0.9" fill="#ffffff" opacity="0.85"/>
<circle cx="554.25" cy="491.28" r="3.3" fill="#000000"/><circle cx="553.25" cy="490.28" r="0.9" fill="#ffffff" opacity="0.85"/>
<circle cx="565.50" cy="491.48" r="3.3" fill="#000000"/><circle cx="564.50" cy="490.48" r="0.9" fill="#ffffff" opacity="0.85"/>
<circle cx="576.75" cy="491.63" r="3.3" fill="#000000"/><circle cx="575.75" cy="490.63" r="0.9" fill="#ffffff" opacity="0.85"/>
<circle cx="588.00" cy="491.75" r="3.3" fill="#000000"/><circle cx="587.00" cy="490.75" r="0.9" fill="#ffffff" opacity="0.85"/>
<circle cx="599.25" cy="491.84" r="3.3" fill="#000000"/><circle cx="598.25" cy="490.84" r="0.9" fill="#ffffff" opacity="0.85"/>
<circle cx="610.50" cy="491.92" r="3.3" fill="#000000"/><circle cx="609.50" cy="490.92" r="0.9" fill="#ffffff" opacity="0.85"/>
<circle cx="621.75" cy="491.97" r="3.3" fill="#000000"/><circle cx="620.75" cy="490.97" r="0.9" fill="#ffffff" opacity="0.85"/>
<circle cx="633.00" cy="492.02" r="3.3" fill="#000000"/><circle cx="632.00" cy="491.02" r="0.9" fill="#ffffff" opacity="0.85"/>
<circle cx="644.25" cy="492.05" r="3.3" fill="#000000"/><circle cx="643.25" cy="491.05" r="0.9" fill="#ffffff" opacity="0.85"/>
<circle cx="655.50" cy="492.08" r="3.3" fill="#000000"/><circle cx="654.50" cy="491.08" r="0.9" fill="#ffffff" opacity="0.85"/>
<path d="M385.50,492.50 C389.25,491.54 393.00,491.29 396.75,489.63 C400.50,487.97 404.25,479.89 408.00,471.18 C411.75,462.47 415.50,439.69 419.25,426.41 C423.00,413.12 426.75,390.49 430.50,390.49 C434.25,390.49 438.00,412.91 441.75,424.44 C445.50,435.97 449.25,452.14 453.00,459.70 C456.75,467.26 460.50,472.99 464.25,476.43 C468.00,479.87 471.75,482.32 475.50,483.89 C479.25,485.46 483.00,486.65 486.75,487.33 C490.50,488.02 494.25,488.36 498.00,488.81 C501.75,489.26 505.50,489.71 509.25,490.04 C513.00,490.37 516.75,490.68 520.50,490.86 C524.25,491.04 528.00,491.13 531.75,491.27 C535.50,491.41 539.25,491.62 543.00,491.68 C546.75,491.74 550.50,491.76 554.25,491.79 C558.00,491.82 561.75,491.85 565.50,491.87 C569.25,491.90 573.00,491.92 576.75,491.94 C580.50,491.96 584.25,491.98 588.00,491.99 C591.75,492.01 595.50,492.02 599.25,492.03 C603.00,492.04 606.75,492.05 610.50,492.06 C614.25,492.07 618.00,492.08 621.75,492.09 C625.50,492.09 629.25,492.10 633.00,492.11 C636.75,492.11 640.50,492.12 644.25,492.12 C648.00,492.12 651.75,492.13 655.50,492.13" fill="none" stroke="#ff00ff" stroke-width="2.0" stroke-linejoin="round" stroke-linecap="round"/>
<circle cx="385.50" cy="492.50" r="3.3" fill="#ff00ff"/><circle cx="384.50" cy="491.50" r="0.9" fill="#ffffff" opacity="0.85"/>
<circle cx="396.75" cy="489.63" r="3.3" fill="#ff00ff"/><circle cx="395.75" cy="488.63" r="0.9" fill="#ffffff" opacity="0.85"/>
<circle cx="408.00" cy="471.18" r="3.3" fill="#ff00ff"/><circle cx="407.00" cy="470.18" r="0.9" fill="#ffffff" opacity="0.85"/>
<circle cx="419.25" cy="426.41" r="3.3" fill="#ff00ff"/><circle cx="418.25" cy="425.41" r="0.9" fill="#ffffff" opacity="0.85"/>
<circle cx="430.50" cy="390.49" r="3.3" fill="#ff00ff"/><circle cx="429.50" cy="389.49" r="0.9" fill="#ffffff" opacity="0.85"/>
<circle cx="441.75" cy="424.44" r="3.3" fill="#ff00ff"/><circle cx="440.75" cy="423.44" r="0.9" fill="#ffffff" opacity="0.85"/>
<circle cx="453.00" cy="459.70" r="3.3" fill="#ff00ff"/><circle cx="452.00" cy="458.70" r="0.9" fill="#ffffff" opacity="0.85"/>
<circle cx="464.25" cy="476.43" r="3.3" fill="#ff00ff"/><circle cx="463.25" cy="475.43" r="0.9" fill="#ffffff" opacity="0.85"/>
<circle cx="475.50" cy="483.89" r="3.3" fill="#ff00ff"/><circle cx="474.50" cy="482.89" r="0.9" fill="#ffffff" opacity="0.85"/>
<circle cx="486.75" cy="487.33" r="3.3" fill="#ff00ff"/><circle cx="485.75" cy="486.33" r="0.9" fill="#ffffff" opacity="0.85"/>
<circle cx="498.00" cy="488.81" r="3.3" fill="#ff00ff"/><circle cx="497.00" cy="487.81" r="0.9" fill="#ffffff" opacity="0.85"/>
<circle cx="509.25" cy="490.04" r="3.3" fill="#ff00ff"/><circle cx="508.25" cy="489.04" r="0.9" fill="#ffffff" opacity="0.85"/>
<circle cx="520.50" cy="490.86" r="3.3" fill="#ff00ff"/><circle cx="519.50" cy="489.86" r="0.9" fill="#ffffff" opacity="0.85"/>
<circle cx="531.75" cy="491.27" r="3.3" fill="#ff00ff"/><circle cx="530.75" cy="490.27" r="0.9" fill="#ffffff" opacity="0.85"/>
<circle cx="543.00" cy="491.68" r="3.3" fill="#ff00ff"/><circle cx="542.00" cy="490.68" r="0.9" fill="#ffffff" opacity="0.85"/>
<circle cx="554.25" cy="491.79" r="3.3" fill="#ff00ff"/><circle cx="553.25" cy="490.79" r="0.9" fill="#ffffff" opacity="0.85"/>
<circle cx="565.50" cy="491.87" r="3.3" fill="#ff00ff"/><circle cx="564.50" cy="490.87" r="0.9" fill="#ffffff" opacity="0.85"/>
<circle cx="576.75" cy="491.94" r="3.3" fill="#ff00ff"/><circle cx="575.75" cy="490.94" r="0.9" fill="#ffffff" opacity="0.85"/>
<circle cx="588.00" cy="491.99" r="3.3" fill="#ff00ff"/><circle cx="587.00" cy="490.99" r="0.9" fill="#ffffff" opacity="0.85"/>
<circle cx="599.25" cy="492.03" r="3.3" fill="#ff00ff"/><circle cx="598.25" cy="491.03" r="0.9" fill="#ffffff" opacity="0.85"/>
<circle cx="610.50" cy="492.06" r="3.3" fill="#ff00ff"/><circle cx="609.50" cy="491.06" r="0.9" fill="#ffffff" opacity="0.85"/>
<circle cx="621.75" cy="492.09" r="3.3" fill="#ff00ff"/><circle cx="620.75" cy="491.09" r="0.9" fill="#ffffff" opacity="0.85"/>
<circle cx="633.00" cy="492.11" r="3.3" fill="#ff00ff"/><circle cx="632.00" cy="491.11" r="0.9" fill="#ffffff" opacity="0.85"/>
<circle cx="644.25" cy="492.12" r="3.3" fill="#ff00ff"/><circle cx="643.25" cy="491.12" r="0.9" fill="#ffffff" opacity="0.85"/>
<circle cx="655.50" cy="492.13" r="3.3" fill="#ff00ff"/><circle cx="654.50" cy="491.13" r="0.9" fill="#ffffff" opacity="0.85"/>
<path d="M385.50,492.50 C389.25,485.53 393.00,483.98 396.75,471.59 C400.50,459.20 404.25,304.72 408.00,304.72 C411.75,304.72 415.50,374.36 419.25,401.48 C423.00,428.60 426.75,463.62 430.50,471.67 C434.25,479.73 438.00,484.20 441.75,486.27 C445.50,488.33 449.25,489.64 453.00,490.20 C456.75,490.76 460.50,491.07 464.25,491.27 C468.00,491.47 471.75,491.60 475.50,491.68 C479.25,491.76 483.00,491.79 486.75,491.84 C490.50,491.90 494.25,491.99 498.00,492.01 C501.75,492.03 505.50,492.03 509.25,492.04 C513.00,492.05 516.75,492.06 520.50,492.07 C524.25,492.08 528.00,492.09 531.75,492.09 C535.50,492.10 539.25,492.11 543.00,492.11 C546.75,492.12 550.50,492.12 554.25,492.13 C558.00,492.13 561.75,492.13 565.50,492.14 C569.25,492.14 573.00,492.14 576.75,492.14 C580.50,492.15 584.25,492.15 588.00,492.15 C591.75,492.15 595.50,492.15 599.25,492.15 C603.00,492.16 606.75,492.16 610.50,492.16 C614.25,492.16 618.00,492.16 621.75,492.16 C625.50,492.16 629.25,492.16 633.00,492.16 C636.75,492.16 640.50,492.17 644.25,492.17 C648.00,492.17 651.75,492.17 655.50,492.17" fill="none" stroke="#0000ff" stroke-width="2.0" stroke-linejoin="round" stroke-linecap="round"/>
<circle cx="385.50" cy="492.50" r="3.3" fill="#0000ff"/><circle cx="384.50" cy="491.50" r="0.9" fill="#ffffff" opacity="0.85"/>
<circle cx="396.75" cy="471.59" r="3.3" fill="#0000ff"/><circle cx="395.75" cy="470.59" r="0.9" fill="#ffffff" opacity="0.85"/>
<circle cx="408.00" cy="304.72" r="3.3" fill="#0000ff"/><circle cx="407.00" cy="303.72" r="0.9" fill="#ffffff" opacity="0.85"/>
<circle cx="419.25" cy="401.48" r="3.3" fill="#0000ff"/><circle cx="418.25" cy="400.48" r="0.9" fill="#ffffff" opacity="0.85"/>
<circle cx="430.50" cy="471.67" r="3.3" fill="#0000ff"/><circle cx="429.50" cy="470.67" r="0.9" fill="#ffffff" opacity="0.85"/>
<circle cx="441.75" cy="486.27" r="3.3" fill="#0000ff"/><circle cx="440.75" cy="485.27" r="0.9" fill="#ffffff" opacity="0.85"/>
<circle cx="453.00" cy="490.20" r="3.3" fill="#0000ff"/><circle cx="452.00" cy="489.20" r="0.9" fill="#ffffff" opacity="0.85"/>
<circle cx="464.25" cy="491.27" r="3.3" fill="#0000ff"/><circle cx="463.25" cy="490.27" r="0.9" fill="#ffffff" opacity="0.85"/>
<circle cx="475.50" cy="491.68" r="3.3" fill="#0000ff"/><circle cx="474.50" cy="490.68" r="0.9" fill="#ffffff" opacity="0.85"/>
<circle cx="486.75" cy="491.84" r="3.3" fill="#0000ff"/><circle cx="485.75" cy="490.84" r="0.9" fill="#ffffff" opacity="0.85"/>
<circle cx="498.00" cy="492.01" r="3.3" fill="#0000ff"/><circle cx="497.00" cy="491.01" r="0.9" fill="#ffffff" opacity="0.85"/>
<circle cx="509.25" cy="492.04" r="3.3" fill="#0000ff"/><circle cx="508.25" cy="491.04" r="0.9" fill="#ffffff" opacity="0.85"/>
<circle cx="520.50" cy="492.07" r="3.3" fill="#0000ff"/><circle cx="519.50" cy="491.07" r="0.9" fill="#ffffff" opacity="0.85"/>
<circle cx="531.75" cy="492.09" r="3.3" fill="#0000ff"/><circle cx="530.75" cy="491.09" r="0.9" fill="#ffffff" opacity="0.85"/>
<circle cx="543.00" cy="492.11" r="3.3" fill="#0000ff"/><circle cx="542.00" cy="491.11" r="0.9" fill="#ffffff" opacity="0.85"/>
<circle cx="554.25" cy="492.13" r="3.3" fill="#0000ff"/><circle cx="553.25" cy="491.13" r="0.9" fill="#ffffff" opacity="0.85"/>
<circle cx="565.50" cy="492.14" r="3.3" fill="#0000ff"/><circle cx="564.50" cy="491.14" r="0.9" fill="#ffffff" opacity="0.85"/>
<circle cx="576.75" cy="492.14" r="3.3" fill="#0000ff"/><circle cx="575.75" cy="491.14" r="0.9" fill="#ffffff" opacity="0.85"/>
<circle cx="588.00" cy="492.15" r="3.3" fill="#0000ff"/><circle cx="587.00" cy="491.15" r="0.9" fill="#ffffff" opacity="0.85"/>
<circle cx="599.25" cy="492.15" r="3.3" fill="#0000ff"/><circle cx="598.25" cy="491.15" r="0.9" fill="#ffffff" opacity="0.85"/>
<circle cx="610.50" cy="492.16" r="3.3" fill="#0000ff"/><circle cx="609.50" cy="491.16" r="0.9" fill="#ffffff" opacity="0.85"/>
<circle cx="621.75" cy="492.16" r="3.3" fill="#0000ff"/><circle cx="620.75" cy="491.16" r="0.9" fill="#ffffff" opacity="0.85"/>
<circle cx="633.00" cy="492.16" r="3.3" fill="#0000ff"/><circle cx="632.00" cy="491.16" r="0.9" fill="#ffffff" opacity="0.85"/>
<circle cx="644.25" cy="492.17" r="3.3" fill="#0000ff"/><circle cx="643.25" cy="491.17" r="0.9" fill="#ffffff" opacity="0.85"/>
<circle cx="655.50" cy="492.17" r="3.3" fill="#0000ff"/><circle cx="654.50" cy="491.17" r="0.9" fill="#ffffff" opacity="0.85"/>
</g>
<rect x="379.50" y="287.80" width="276.40" height="212.80" fill="none" stroke="#000" stroke-width="2.3"/>
<line x1="385.50" y1="500.60" x2="385.50" y2="496.30" stroke="#000" stroke-width="1.8"/>
<line x1="430.50" y1="500.60" x2="430.50" y2="496.30" stroke="#000" stroke-width="1.8"/>
<line x1="475.50" y1="500.60" x2="475.50" y2="496.30" stroke="#000" stroke-width="1.8"/>
<line x1="520.50" y1="500.60" x2="520.50" y2="496.30" stroke="#000" stroke-width="1.8"/>
<line x1="565.50" y1="500.60" x2="565.50" y2="496.30" stroke="#000" stroke-width="1.8"/>
<line x1="610.50" y1="500.60" x2="610.50" y2="496.30" stroke="#000" stroke-width="1.8"/>
<line x1="655.50" y1="500.60" x2="655.50" y2="496.30" stroke="#000" stroke-width="1.8"/>
<line x1="408.00" y1="500.60" x2="408.00" y2="497.70" stroke="#000" stroke-width="1.8"/>
<line x1="453.00" y1="500.60" x2="453.00" y2="497.70" stroke="#000" stroke-width="1.8"/>
<line x1="498.00" y1="500.60" x2="498.00" y2="497.70" stroke="#000" stroke-width="1.8"/>
<line x1="543.00" y1="500.60" x2="543.00" y2="497.70" stroke="#000" stroke-width="1.8"/>
<line x1="588.00" y1="500.60" x2="588.00" y2="497.70" stroke="#000" stroke-width="1.8"/>
<line x1="633.00" y1="500.60" x2="633.00" y2="497.70" stroke="#000" stroke-width="1.8"/>
<line x1="379.50" y1="492.50" x2="383.80" y2="492.50" stroke="#000" stroke-width="1.8"/>
<line x1="379.50" y1="451.50" x2="383.80" y2="451.50" stroke="#000" stroke-width="1.8"/>
<line x1="379.50" y1="410.50" x2="383.80" y2="410.50" stroke="#000" stroke-width="1.8"/>
<line x1="379.50" y1="369.50" x2="383.80" y2="369.50" stroke="#000" stroke-width="1.8"/>
<line x1="379.50" y1="328.50" x2="383.80" y2="328.50" stroke="#000" stroke-width="1.8"/>
<line x1="379.50" y1="287.50" x2="383.80" y2="287.50" stroke="#000" stroke-width="1.8"/>
<line x1="379.50" y1="472.00" x2="382.40" y2="472.00" stroke="#000" stroke-width="1.8"/>
<line x1="379.50" y1="431.00" x2="382.40" y2="431.00" stroke="#000" stroke-width="1.8"/>
<line x1="379.50" y1="390.00" x2="382.40" y2="390.00" stroke="#000" stroke-width="1.8"/>
<line x1="379.50" y1="349.00" x2="382.40" y2="349.00" stroke="#000" stroke-width="1.8"/>
<line x1="379.50" y1="308.00" x2="382.40" y2="308.00" stroke="#000" stroke-width="1.8"/>
<clipPath id="ce"><rect x="51.70" y="602.00" width="264.10" height="211.50"/></clipPath>
<g clip-path="url(#ce)">
<path d="M56.80,669.00 C62.22,666.76 67.63,665.31 73.05,662.27 C76.95,660.08 80.85,655.57 84.75,652.65 C89.52,649.07 94.28,642.83 99.05,642.83 C104.36,642.83 109.67,700.75 114.97,700.75 C122.67,700.75 130.36,694.82 138.05,690.36 C143.47,687.21 148.88,680.15 154.30,677.66 C159.72,675.17 165.13,673.41 170.55,672.37 C175.97,671.33 181.38,670.50 186.80,670.15 C192.22,669.81 197.63,669.62 203.05,669.48 C208.47,669.35 213.88,669.27 219.30,669.19 C224.72,669.12 230.13,669.00 235.55,669.00 C240.97,669.00 246.38,669.00 251.80,669.00 C257.22,669.00 262.63,669.00 268.05,669.00 C273.47,669.00 278.88,669.00 284.30,669.00 C289.72,669.00 295.13,669.00 300.55,669.00 C305.97,669.00 311.38,669.00 316.80,669.00" fill="none" stroke="#008000" stroke-width="2.0" stroke-linejoin="round" stroke-linecap="round"/>
<circle cx="56.80" cy="669.00" r="3.3" fill="#008000"/><circle cx="55.80" cy="668.00" r="0.9" fill="#ffffff" opacity="0.85"/>
<circle cx="73.05" cy="662.27" r="3.3" fill="#008000"/><circle cx="72.05" cy="661.27" r="0.9" fill="#ffffff" opacity="0.85"/>
<circle cx="84.75" cy="652.65" r="3.3" fill="#008000"/><circle cx="83.75" cy="651.65" r="0.9" fill="#ffffff" opacity="0.85"/>
<circle cx="99.05" cy="642.83" r="3.3" fill="#008000"/><circle cx="98.05" cy="641.83" r="0.9" fill="#ffffff" opacity="0.85"/>
<circle cx="114.97" cy="700.75" r="3.3" fill="#008000"/><circle cx="113.97" cy="699.75" r="0.9" fill="#ffffff" opacity="0.85"/>
<circle cx="138.05" cy="690.36" r="3.3" fill="#008000"/><circle cx="137.05" cy="689.36" r="0.9" fill="#ffffff" opacity="0.85"/>
<circle cx="154.30" cy="677.66" r="3.3" fill="#008000"/><circle cx="153.30" cy="676.66" r="0.9" fill="#ffffff" opacity="0.85"/>
<circle cx="170.55" cy="672.37" r="3.3" fill="#008000"/><circle cx="169.55" cy="671.37" r="0.9" fill="#ffffff" opacity="0.85"/>
<circle cx="186.80" cy="670.15" r="3.3" fill="#008000"/><circle cx="185.80" cy="669.15" r="0.9" fill="#ffffff" opacity="0.85"/>
<circle cx="203.05" cy="669.48" r="3.3" fill="#008000"/><circle cx="202.05" cy="668.48" r="0.9" fill="#ffffff" opacity="0.85"/>
<circle cx="219.30" cy="669.19" r="3.3" fill="#008000"/><circle cx="218.30" cy="668.19" r="0.9" fill="#ffffff" opacity="0.85"/>
<circle cx="235.55" cy="669.00" r="3.3" fill="#008000"/><circle cx="234.55" cy="668.00" r="0.9" fill="#ffffff" opacity="0.85"/>
<circle cx="251.80" cy="669.00" r="3.3" fill="#008000"/><circle cx="250.80" cy="668.00" r="0.9" fill="#ffffff" opacity="0.85"/>
<circle cx="268.05" cy="669.00" r="3.3" fill="#008000"/><circle cx="267.05" cy="668.00" r="0.9" fill="#ffffff" opacity="0.85"/>
<circle cx="284.30" cy="669.00" r="3.3" fill="#008000"/><circle cx="283.30" cy="668.00" r="0.9" fill="#ffffff" opacity="0.85"/>
<circle cx="300.55" cy="669.00" r="3.3" fill="#008000"/><circle cx="299.55" cy="668.00" r="0.9" fill="#ffffff" opacity="0.85"/>
<circle cx="316.80" cy="669.00" r="3.3" fill="#008000"/><circle cx="315.80" cy="668.00" r="0.9" fill="#ffffff" opacity="0.85"/>
<path d="M56.80,669.00 C62.22,663.16 67.63,659.56 73.05,651.49 C76.95,645.68 80.85,624.94 84.75,624.94 C89.52,624.94 94.28,700.29 99.05,706.33 C104.36,713.04 109.67,717.48 114.97,717.48 C122.67,717.48 130.36,682.66 138.05,678.43 C143.47,675.45 148.88,673.97 154.30,672.85 C159.72,671.73 165.13,670.90 170.55,670.44 C175.97,669.98 181.38,669.69 186.80,669.48 C192.22,669.27 197.63,669.00 203.05,669.00 C208.47,669.00 213.88,669.00 219.30,669.00 C224.72,669.00 230.13,669.00 235.55,669.00 C240.97,669.00 246.38,669.00 251.80,669.00 C257.22,669.00 262.63,669.00 268.05,669.00 C273.47,669.00 278.88,669.00 284.30,669.00 C289.72,669.00 295.13,669.00 300.55,669.00 C305.97,669.00 311.38,669.00 316.80,669.00" fill="none" stroke="#ff8000" stroke-width="2.0" stroke-linejoin="round" stroke-linecap="round"/>
<circle cx="56.80" cy="669.00" r="3.3" fill="#ff8000"/><circle cx="55.80" cy="668.00" r="0.9" fill="#ffffff" opacity="0.85"/>
<circle cx="73.05" cy="651.49" r="3.3" fill="#ff8000"/><circle cx="72.05" cy="650.49" r="0.9" fill="#ffffff" opacity="0.85"/>
<circle cx="84.75" cy="624.94" r="3.3" fill="#ff8000"/><circle cx="83.75" cy="623.94" r="0.9" fill="#ffffff" opacity="0.85"/>
<circle cx="99.05" cy="706.33" r="3.3" fill="#ff8000"/><circle cx="98.05" cy="705.33" r="0.9" fill="#ffffff" opacity="0.85"/>
<circle cx="114.97" cy="717.48" r="3.3" fill="#ff8000"/><circle cx="113.97" cy="716.48" r="0.9" fill="#ffffff" opacity="0.85"/>
<circle cx="138.05" cy="678.43" r="3.3" fill="#ff8000"/><circle cx="137.05" cy="677.43" r="0.9" fill="#ffffff" opacity="0.85"/>
<circle cx="154.30" cy="672.85" r="3.3" fill="#ff8000"/><circle cx="153.30" cy="671.85" r="0.9" fill="#ffffff" opacity="0.85"/>
<circle cx="170.55" cy="670.44" r="3.3" fill="#ff8000"/><circle cx="169.55" cy="669.44" r="0.9" fill="#ffffff" opacity="0.85"/>
<circle cx="186.80" cy="669.48" r="3.3" fill="#ff8000"/><circle cx="185.80" cy="668.48" r="0.9" fill="#ffffff" opacity="0.85"/>
<circle cx="203.05" cy="669.00" r="3.3" fill="#ff8000"/><circle cx="202.05" cy="668.00" r="0.9" fill="#ffffff" opacity="0.85"/>
<circle cx="219.30" cy="669.00" r="3.3" fill="#ff8000"/><circle cx="218.30" cy="668.00" r="0.9" fill="#ffffff" opacity="0.85"/>
<circle cx="235.55" cy="669.00" r="3.3" fill="#ff8000"/><circle cx="234.55" cy="668.00" r="0.9" fill="#ffffff" opacity="0.85"/>
<circle cx="251.80" cy="669.00" r="3.3" fill="#ff8000"/><circle cx="250.80" cy="668.00" r="0.9" fill="#ffffff" opacity="0.85"/>
<circle cx="268.05" cy="669.00" r="3.3" fill="#ff8000"/><circle cx="267.05" cy="668.00" r="0.9" fill="#ffffff" opacity="0.85"/>
<circle cx="284.30" cy="669.00" r="3.3" fill="#ff8000"/><circle cx="283.30" cy="668.00" r="0.9" fill="#ffffff" opacity="0.85"/>
<circle cx="300.55" cy="669.00" r="3.3" fill="#ff8000"/><circle cx="299.55" cy="668.00" r="0.9" fill="#ffffff" opacity="0.85"/>
<circle cx="316.80" cy="669.00" r="3.3" fill="#ff8000"/><circle cx="315.80" cy="668.00" r="0.9" fill="#ffffff" opacity="0.85"/>
<path d="M56.80,669.00 C62.22,659.44 67.63,652.00 73.05,640.33 C76.95,631.93 80.85,608.88 84.75,608.88 C89.52,608.88 94.28,763.08 99.05,763.08 C104.36,763.08 109.67,712.59 114.97,702.67 C122.67,688.29 130.36,677.99 138.05,675.25 C143.47,673.33 148.88,672.47 154.30,671.69 C159.72,670.92 165.13,670.37 170.55,669.96 C175.97,669.55 181.38,669.00 186.80,669.00 C192.22,669.00 197.63,669.00 203.05,669.00 C208.47,669.00 213.88,669.00 219.30,669.00 C224.72,669.00 230.13,669.00 235.55,669.00 C240.97,669.00 246.38,669.00 251.80,669.00 C257.22,669.00 262.63,669.00 268.05,669.00 C273.47,669.00 278.88,669.00 284.30,669.00 C289.72,669.00 295.13,669.00 300.55,669.00 C305.97,669.00 311.38,669.00 316.80,669.00" fill="none" stroke="#00ff00" stroke-width="2.0" stroke-linejoin="round" stroke-linecap="round"/>
<circle cx="56.80" cy="669.00" r="3.3" fill="#00ff00"/><circle cx="55.80" cy="668.00" r="0.9" fill="#ffffff" opacity="0.85"/>
<circle cx="73.05" cy="640.33" r="3.3" fill="#00ff00"/><circle cx="72.05" cy="639.33" r="0.9" fill="#ffffff" opacity="0.85"/>
<circle cx="84.75" cy="608.88" r="3.3" fill="#00ff00"/><circle cx="83.75" cy="607.88" r="0.9" fill="#ffffff" opacity="0.85"/>
<circle cx="99.05" cy="763.08" r="3.3" fill="#00ff00"/><circle cx="98.05" cy="762.08" r="0.9" fill="#ffffff" opacity="0.85"/>
<circle cx="114.97" cy="702.67" r="3.3" fill="#00ff00"/><circle cx="113.97" cy="701.67" r="0.9" fill="#ffffff" opacity="0.85"/>
<circle cx="138.05" cy="675.25" r="3.3" fill="#00ff00"/><circle cx="137.05" cy="674.25" r="0.9" fill="#ffffff" opacity="0.85"/>
<circle cx="154.30" cy="671.69" r="3.3" fill="#00ff00"/><circle cx="153.30" cy="670.69" r="0.9" fill="#ffffff" opacity="0.85"/>
<circle cx="170.55" cy="669.96" r="3.3" fill="#00ff00"/><circle cx="169.55" cy="668.96" r="0.9" fill="#ffffff" opacity="0.85"/>
<circle cx="186.80" cy="669.00" r="3.3" fill="#00ff00"/><circle cx="185.80" cy="668.00" r="0.9" fill="#ffffff" opacity="0.85"/>
<circle cx="203.05" cy="669.00" r="3.3" fill="#00ff00"/><circle cx="202.05" cy="668.00" r="0.9" fill="#ffffff" opacity="0.85"/>
<circle cx="219.30" cy="669.00" r="3.3" fill="#00ff00"/><circle cx="218.30" cy="668.00" r="0.9" fill="#ffffff" opacity="0.85"/>
<circle cx="235.55" cy="669.00" r="3.3" fill="#00ff00"/><circle cx="234.55" cy="668.00" r="0.9" fill="#ffffff" opacity="0.85"/>
<circle cx="251.80" cy="669.00" r="3.3" fill="#00ff00"/><circle cx="250.80" cy="668.00" r="0.9" fill="#ffffff" opacity="0.85"/>
<circle cx="268.05" cy="669.00" r="3.3" fill="#00ff00"/><circle cx="267.05" cy="668.00" r="0.9" fill="#ffffff" opacity="0.85"/>
<circle cx="284.30" cy="669.00" r="3.3" fill="#00ff00"/><circle cx="283.30" cy="668.00" r="0.9" fill="#ffffff" opacity="0.85"/>
<circle cx="300.55" cy="669.00" r="3.3" fill="#00ff00"/><circle cx="299.55" cy="668.00" r="0.9" fill="#ffffff" opacity="0.85"/>
<circle cx="316.80" cy="669.00" r="3.3" fill="#00ff00"/><circle cx="315.80" cy="668.00" r="0.9" fill="#ffffff" opacity="0.85"/>
<path d="M56.80,669.00 C62.22,655.66 67.63,639.38 73.05,628.98 C76.95,621.49 80.85,610.22 84.75,610.22 C89.52,610.22 94.28,775.20 99.05,775.20 C104.36,775.20 109.67,702.86 114.97,694.11 C122.67,681.43 130.36,673.75 138.05,672.56 C143.47,671.72 148.88,671.63 154.30,671.12 C159.72,670.61 165.13,669.73 170.55,669.48 C175.97,669.23 181.38,669.00 186.80,669.00 C192.22,669.00 197.63,669.00 203.05,669.00 C208.47,669.00 213.88,669.00 219.30,669.00 C224.72,669.00 230.13,669.00 235.55,669.00 C240.97,669.00 246.38,669.00 251.80,669.00 C257.22,669.00 262.63,669.00 268.05,669.00 C273.47,669.00 278.88,669.00 284.30,669.00 C289.72,669.00 295.13,669.00 300.55,669.00 C305.97,669.00 311.38,669.00 316.80,669.00" fill="none" stroke="#000000" stroke-width="2.0" stroke-linejoin="round" stroke-linecap="round"/>
<circle cx="56.80" cy="669.00" r="3.3" fill="#000000"/><circle cx="55.80" cy="668.00" r="0.9" fill="#ffffff" opacity="0.85"/>
<circle cx="73.05" cy="628.98" r="3.3" fill="#000000"/><circle cx="72.05" cy="627.98" r="0.9" fill="#ffffff" opacity="0.85"/>
<circle cx="84.75" cy="610.22" r="3.3" fill="#000000"/><circle cx="83.75" cy="609.22" r="0.9" fill="#ffffff" opacity="0.85"/>
<circle cx="99.05" cy="775.20" r="3.3" fill="#000000"/><circle cx="98.05" cy="774.20" r="0.9" fill="#ffffff" opacity="0.85"/>
<circle cx="114.97" cy="694.11" r="3.3" fill="#000000"/><circle cx="113.97" cy="693.11" r="0.9" fill="#ffffff" opacity="0.85"/>
<circle cx="138.05" cy="672.56" r="3.3" fill="#000000"/><circle cx="137.05" cy="671.56" r="0.9" fill="#ffffff" opacity="0.85"/>
<circle cx="154.30" cy="671.12" r="3.3" fill="#000000"/><circle cx="153.30" cy="670.12" r="0.9" fill="#ffffff" opacity="0.85"/>
<circle cx="170.55" cy="669.48" r="3.3" fill="#000000"/><circle cx="169.55" cy="668.48" r="0.9" fill="#ffffff" opacity="0.85"/>
<circle cx="186.80" cy="669.00" r="3.3" fill="#000000"/><circle cx="185.80" cy="668.00" r="0.9" fill="#ffffff" opacity="0.85"/>
<circle cx="203.05" cy="669.00" r="3.3" fill="#000000"/><circle cx="202.05" cy="668.00" r="0.9" fill="#ffffff" opacity="0.85"/>
<circle cx="219.30" cy="669.00" r="3.3" fill="#000000"/><circle cx="218.30" cy="668.00" r="0.9" fill="#ffffff" opacity="0.85"/>
<circle cx="235.55" cy="669.00" r="3.3" fill="#000000"/><circle cx="234.55" cy="668.00" r="0.9" fill="#ffffff" opacity="0.85"/>
<circle cx="251.80" cy="669.00" r="3.3" fill="#000000"/><circle cx="250.80" cy="668.00" r="0.9" fill="#ffffff" opacity="0.85"/>
<circle cx="268.05" cy="669.00" r="3.3" fill="#000000"/><circle cx="267.05" cy="668.00" r="0.9" fill="#ffffff" opacity="0.85"/>
<circle cx="284.30" cy="669.00" r="3.3" fill="#000000"/><circle cx="283.30" cy="668.00" r="0.9" fill="#ffffff" opacity="0.85"/>
<circle cx="300.55" cy="669.00" r="3.3" fill="#000000"/><circle cx="299.55" cy="668.00" r="0.9" fill="#ffffff" opacity="0.85"/>
<circle cx="316.80" cy="669.00" r="3.3" fill="#000000"/><circle cx="315.80" cy="668.00" r="0.9" fill="#ffffff" opacity="0.85"/>
<path d="M56.80,669.00 C62.22,667.72 67.63,666.80 73.05,665.15 C76.95,663.96 80.85,662.28 84.75,660.34 C89.52,657.97 94.28,651.20 99.05,651.20 C104.36,651.20 109.67,657.16 114.97,662.07 C122.67,669.20 130.36,697.86 138.05,697.86 C143.47,697.86 148.88,687.27 154.30,683.91 C159.72,680.55 165.13,677.83 170.55,676.02 C175.97,674.21 181.38,672.70 186.80,671.89 C192.22,671.07 197.63,670.48 203.05,670.15 C208.47,669.83 213.88,669.62 219.30,669.48 C224.72,669.35 230.13,669.27 235.55,669.19 C240.97,669.12 246.38,669.00 251.80,669.00 C257.22,669.00 262.63,669.00 268.05,669.00 C273.47,669.00 278.88,669.00 284.30,669.00 C289.72,669.00 295.13,669.00 300.55,669.00 C305.97,669.00 311.38,669.00 316.80,669.00" fill="none" stroke="#ff00ff" stroke-width="2.0" stroke-linejoin="round" stroke-linecap="round"/>
<circle cx="56.80" cy="669.00" r="3.3" fill="#ff00ff"/><circle cx="55.80" cy="668.00" r="0.9" fill="#ffffff" opacity="0.85"/>
<circle cx="73.05" cy="665.15" r="3.3" fill="#ff00ff"/><circle cx="72.05" cy="664.15" r="0.9" fill="#ffffff" opacity="0.85"/>
<circle cx="84.75" cy="660.34" r="3.3" fill="#ff00ff"/><circle cx="83.75" cy="659.34" r="0.9" fill="#ffffff" opacity="0.85"/>
<circle cx="99.05" cy="651.20" r="3.3" fill="#ff00ff"/><circle cx="98.05" cy="650.20" r="0.9" fill="#ffffff" opacity="0.85"/>
<circle cx="114.97" cy="662.07" r="3.3" fill="#ff00ff"/><circle cx="113.97" cy="661.07" r="0.9" fill="#ffffff" opacity="0.85"/>
<circle cx="138.05" cy="697.86" r="3.3" fill="#ff00ff"/><circle cx="137.05" cy="696.86" r="0.9" fill="#ffffff" opacity="0.85"/>
<circle cx="154.30" cy="683.91" r="3.3" fill="#ff00ff"/><circle cx="153.30" cy="682.91" r="0.9" fill="#ffffff" opacity="0.85"/>
<circle cx="170.55" cy="676.02" r="3.3" fill="#ff00ff"/><circle cx="169.55" cy="675.02" r="0.9" fill="#ffffff" opacity="0.85"/>
<circle cx="186.80" cy="671.89" r="3.3" fill="#ff00ff"/><circle cx="185.80" cy="670.89" r="0.9" fill="#ffffff" opacity="0.85"/>
<circle cx="203.05" cy="670.15" r="3.3" fill="#ff00ff"/><circle cx="202.05" cy="669.15" r="0.9" fill="#ffffff" opacity="0.85"/>
<circle cx="219.30" cy="669.48" r="3.3" fill="#ff00ff"/><circle cx="218.30" cy="668.48" r="0.9" fill="#ffffff" opacity="0.85"/>
<circle cx="235.55" cy="669.19" r="3.3" fill="#ff00ff"/><circle cx="234.55" cy="668.19" r="0.9" fill="#ffffff" opacity="0.85"/>
<circle cx="251.80" cy="669.00" r="3.3" fill="#ff00ff"/><circle cx="250.80" cy="668.00" r="0.9" fill="#ffffff" opacity="0.85"/>
<circle cx="268.05" cy="669.00" r="3.3" fill="#ff00ff"/><circle cx="267.05" cy="668.00" r="0.9" fill="#ffffff" opacity="0.85"/>
<circle cx="284.30" cy="669.00" r="3.3" fill="#ff00ff"/><circle cx="283.30" cy="668.00" r="0.9" fill="#ffffff" opacity="0.85"/>
<circle cx="300.55" cy="669.00" r="3.3" fill="#ff00ff"/><circle cx="299.55" cy="668.00" r="0.9" fill="#ffffff" opacity="0.85"/>
<circle cx="316.80" cy="669.00" r="3.3" fill="#ff00ff"/><circle cx="315.80" cy="668.00" r="0.9" fill="#ffffff" opacity="0.85"/>
<path d="M56.80,669.00 C62.22,669.00 67.63,669.00 73.05,669.00 C76.95,669.00 80.85,668.74 84.75,668.52 C89.52,668.24 94.28,667.53 99.05,667.08 C104.36,666.57 109.67,666.15 114.97,665.63 C122.67,664.89 130.36,663.23 138.05,663.23 C143.47,663.23 148.88,663.82 154.30,664.57 C159.72,665.33 165.13,669.58 170.55,671.89 C175.97,674.19 181.38,678.43 186.80,678.43 C192.22,678.43 197.63,678.09 203.05,677.75 C208.47,677.42 213.88,676.55 219.30,675.73 C224.72,674.92 230.13,673.14 235.55,672.66 C240.97,672.17 246.38,672.01 251.80,671.69 C257.22,671.37 262.63,671.02 268.05,670.73 C273.47,670.45 278.88,670.18 284.30,669.96 C289.72,669.74 295.13,669.54 300.55,669.38 C305.97,669.23 311.38,669.13 316.80,669.00" fill="none" stroke="#0000ff" stroke-width="2.0" stroke-linejoin="round" stroke-linecap="round"/>
<circle cx="56.80" cy="669.00" r="3.3" fill="#0000ff"/><circle cx="55.80" cy="668.00" r="0.9" fill="#ffffff" opacity="0.85"/>
<circle cx="73.05" cy="669.00" r="3.3" fill="#0000ff"/><circle cx="72.05" cy="668.00" r="0.9" fill="#ffffff" opacity="0.85"/>
<circle cx="84.75" cy="668.52" r="3.3" fill="#0000ff"/><circle cx="83.75" cy="667.52" r="0.9" fill="#ffffff" opacity="0.85"/>
<circle cx="99.05" cy="667.08" r="3.3" fill="#0000ff"/><circle cx="98.05" cy="666.08" r="0.9" fill="#ffffff" opacity="0.85"/>
<circle cx="114.97" cy="665.63" r="3.3" fill="#0000ff"/><circle cx="113.97" cy="664.63" r="0.9" fill="#ffffff" opacity="0.85"/>
<circle cx="138.05" cy="663.23" r="3.3" fill="#0000ff"/><circle cx="137.05" cy="662.23" r="0.9" fill="#ffffff" opacity="0.85"/>
<circle cx="154.30" cy="664.57" r="3.3" fill="#0000ff"/><circle cx="153.30" cy="663.57" r="0.9" fill="#ffffff" opacity="0.85"/>
<circle cx="170.55" cy="671.89" r="3.3" fill="#0000ff"/><circle cx="169.55" cy="670.89" r="0.9" fill="#ffffff" opacity="0.85"/>
<circle cx="186.80" cy="678.43" r="3.3" fill="#0000ff"/><circle cx="185.80" cy="677.43" r="0.9" fill="#ffffff" opacity="0.85"/>
<circle cx="203.05" cy="677.75" r="3.3" fill="#0000ff"/><circle cx="202.05" cy="676.75" r="0.9" fill="#ffffff" opacity="0.85"/>
<circle cx="219.30" cy="675.73" r="3.3" fill="#0000ff"/><circle cx="218.30" cy="674.73" r="0.9" fill="#ffffff" opacity="0.85"/>
<circle cx="235.55" cy="672.66" r="3.3" fill="#0000ff"/><circle cx="234.55" cy="671.66" r="0.9" fill="#ffffff" opacity="0.85"/>
<circle cx="251.80" cy="671.69" r="3.3" fill="#0000ff"/><circle cx="250.80" cy="670.69" r="0.9" fill="#ffffff" opacity="0.85"/>
<circle cx="268.05" cy="670.73" r="3.3" fill="#0000ff"/><circle cx="267.05" cy="669.73" r="0.9" fill="#ffffff" opacity="0.85"/>
<circle cx="284.30" cy="669.96" r="3.3" fill="#0000ff"/><circle cx="283.30" cy="668.96" r="0.9" fill="#ffffff" opacity="0.85"/>
<circle cx="300.55" cy="669.38" r="3.3" fill="#0000ff"/><circle cx="299.55" cy="668.38" r="0.9" fill="#ffffff" opacity="0.85"/>
<circle cx="316.80" cy="669.00" r="3.3" fill="#0000ff"/><circle cx="315.80" cy="668.00" r="0.9" fill="#ffffff" opacity="0.85"/>
</g>
<rect x="51.70" y="602.00" width="264.10" height="211.50" fill="none" stroke="#000" stroke-width="2.3"/>
<line x1="56.80" y1="813.50" x2="56.80" y2="809.20" stroke="#000" stroke-width="1.8"/>
<line x1="121.80" y1="813.50" x2="121.80" y2="809.20" stroke="#000" stroke-width="1.8"/>
<line x1="186.80" y1="813.50" x2="186.80" y2="809.20" stroke="#000" stroke-width="1.8"/>
<line x1="251.80" y1="813.50" x2="251.80" y2="809.20" stroke="#000" stroke-width="1.8"/>
<line x1="316.80" y1="813.50" x2="316.80" y2="809.20" stroke="#000" stroke-width="1.8"/>
<line x1="89.30" y1="813.50" x2="89.30" y2="810.60" stroke="#000" stroke-width="1.8"/>
<line x1="154.30" y1="813.50" x2="154.30" y2="810.60" stroke="#000" stroke-width="1.8"/>
<line x1="219.30" y1="813.50" x2="219.30" y2="810.60" stroke="#000" stroke-width="1.8"/>
<line x1="284.30" y1="813.50" x2="284.30" y2="810.60" stroke="#000" stroke-width="1.8"/>
<line x1="51.70" y1="620.90" x2="56.00" y2="620.90" stroke="#000" stroke-width="1.8"/>
<line x1="51.70" y1="669.00" x2="56.00" y2="669.00" stroke="#000" stroke-width="1.8"/>
<line x1="51.70" y1="717.10" x2="56.00" y2="717.10" stroke="#000" stroke-width="1.8"/>
<line x1="51.70" y1="765.20" x2="56.00" y2="765.20" stroke="#000" stroke-width="1.8"/>
<line x1="51.70" y1="813.30" x2="56.00" y2="813.30" stroke="#000" stroke-width="1.8"/>
<line x1="51.70" y1="644.95" x2="54.60" y2="644.95" stroke="#000" stroke-width="1.8"/>
<line x1="51.70" y1="693.05" x2="54.60" y2="693.05" stroke="#000" stroke-width="1.8"/>
<line x1="51.70" y1="741.15" x2="54.60" y2="741.15" stroke="#000" stroke-width="1.8"/>
<line x1="51.70" y1="789.25" x2="54.60" y2="789.25" stroke="#000" stroke-width="1.8"/>
<clipPath id="cf"><rect x="392.70" y="602.40" width="267.20" height="211.20"/></clipPath>
<g clip-path="url(#cf)">
<path d="M398.00,650.70 C403.45,650.43 408.90,650.22 414.35,649.89 C419.80,649.56 425.25,649.00 430.70,648.59 C436.15,648.19 441.60,648.02 447.05,647.46 C452.50,646.90 457.95,644.89 463.40,644.22 C468.85,643.55 474.30,642.76 479.75,642.76 C485.20,642.76 490.65,643.99 496.10,645.35 C501.55,646.72 507.00,652.52 512.45,655.07 C517.90,657.63 523.35,660.53 528.80,661.39 C534.25,662.25 539.70,663.01 545.15,663.01 C550.60,663.01 556.05,661.81 561.50,661.07 C566.95,660.33 572.40,659.50 577.85,658.48 C583.30,657.46 588.75,655.50 594.20,654.75 C599.65,654.00 605.10,653.57 610.55,653.13 C616.00,652.69 621.45,652.27 626.90,652.00 C632.35,651.72 637.80,651.56 643.25,651.35 C648.70,651.13 654.15,650.92 659.60,650.70" fill="none" stroke="#008000" stroke-width="2.0" stroke-linejoin="round" stroke-linecap="round"/>
<circle cx="398.00" cy="650.70" r="3.3" fill="#008000"/><circle cx="397.00" cy="649.70" r="0.9" fill="#ffffff" opacity="0.85"/>
<circle cx="414.35" cy="649.89" r="3.3" fill="#008000"/><circle cx="413.35" cy="648.89" r="0.9" fill="#ffffff" opacity="0.85"/>
<circle cx="430.70" cy="648.59" r="3.3" fill="#008000"/><circle cx="429.70" cy="647.59" r="0.9" fill="#ffffff" opacity="0.85"/>
<circle cx="447.05" cy="647.46" r="3.3" fill="#008000"/><circle cx="446.05" cy="646.46" r="0.9" fill="#ffffff" opacity="0.85"/>
<circle cx="463.40" cy="644.22" r="3.3" fill="#008000"/><circle cx="462.40" cy="643.22" r="0.9" fill="#ffffff" opacity="0.85"/>
<circle cx="479.75" cy="642.76" r="3.3" fill="#008000"/><circle cx="478.75" cy="641.76" r="0.9" fill="#ffffff" opacity="0.85"/>
<circle cx="496.10" cy="645.35" r="3.3" fill="#008000"/><circle cx="495.10" cy="644.35" r="0.9" fill="#ffffff" opacity="0.85"/>
<circle cx="512.45" cy="655.07" r="3.3" fill="#008000"/><circle cx="511.45" cy="654.07" r="0.9" fill="#ffffff" opacity="0.85"/>
<circle cx="528.80" cy="661.39" r="3.3" fill="#008000"/><circle cx="527.80" cy="660.39" r="0.9" fill="#ffffff" opacity="0.85"/>
<circle cx="545.15" cy="663.01" r="3.3" fill="#008000"/><circle cx="544.15" cy="662.01" r="0.9" fill="#ffffff" opacity="0.85"/>
<circle cx="561.50" cy="661.07" r="3.3" fill="#008000"/><circle cx="560.50" cy="660.07" r="0.9" fill="#ffffff" opacity="0.85"/>
<circle cx="577.85" cy="658.48" r="3.3" fill="#008000"/><circle cx="576.85" cy="657.48" r="0.9" fill="#ffffff" opacity="0.85"/>
<circle cx="594.20" cy="654.75" r="3.3" fill="#008000"/><circle cx="593.20" cy="653.75" r="0.9" fill="#ffffff" opacity="0.85"/>
<circle cx="610.55" cy="653.13" r="3.3" fill="#008000"/><circle cx="609.55" cy="652.13" r="0.9" fill="#ffffff" opacity="0.85"/>
<circle cx="626.90" cy="652.00" r="3.3" fill="#008000"/><circle cx="625.90" cy="651.00" r="0.9" fill="#ffffff" opacity="0.85"/>
<circle cx="643.25" cy="651.35" r="3.3" fill="#008000"/><circle cx="642.25" cy="650.35" r="0.9" fill="#ffffff" opacity="0.85"/>
<circle cx="659.60" cy="650.70" r="3.3" fill="#008000"/><circle cx="658.60" cy="649.70" r="0.9" fill="#ffffff" opacity="0.85"/>
<path d="M398.00,650.70 C403.45,650.32 408.90,650.03 414.35,649.57 C419.80,649.10 425.25,648.66 430.70,647.78 C436.15,646.91 441.60,643.90 447.05,642.76 C452.50,641.62 457.95,640.17 463.40,640.17 C468.85,640.17 474.30,640.89 479.75,641.95 C485.20,643.01 490.65,652.93 496.10,656.86 C501.55,660.78 507.00,665.81 512.45,666.58 C517.90,667.34 523.35,667.87 528.80,667.87 C534.25,667.87 539.70,663.87 545.15,662.53 C550.60,661.18 556.05,660.37 561.50,659.29 C566.95,658.21 572.40,656.97 577.85,656.05 C583.30,655.12 588.75,654.18 594.20,653.62 C599.65,653.05 605.10,652.65 610.55,652.32 C616.00,651.99 621.45,651.71 626.90,651.51 C632.35,651.31 637.80,651.15 643.25,651.02 C648.70,650.89 654.15,650.81 659.60,650.70" fill="none" stroke="#ff8000" stroke-width="2.0" stroke-linejoin="round" stroke-linecap="round"/>
<circle cx="398.00" cy="650.70" r="3.3" fill="#ff8000"/><circle cx="397.00" cy="649.70" r="0.9" fill="#ffffff" opacity="0.85"/>
<circle cx="414.35" cy="649.57" r="3.3" fill="#ff8000"/><circle cx="413.35" cy="648.57" r="0.9" fill="#ffffff" opacity="0.85"/>
<circle cx="430.70" cy="647.78" r="3.3" fill="#ff8000"/><circle cx="429.70" cy="646.78" r="0.9" fill="#ffffff" opacity="0.85"/>
<circle cx="447.05" cy="642.76" r="3.3" fill="#ff8000"/><circle cx="446.05" cy="641.76" r="0.9" fill="#ffffff" opacity="0.85"/>
<circle cx="463.40" cy="640.17" r="3.3" fill="#ff8000"/><circle cx="462.40" cy="639.17" r="0.9" fill="#ffffff" opacity="0.85"/>
<circle cx="479.75" cy="641.95" r="3.3" fill="#ff8000"/><circle cx="478.75" cy="640.95" r="0.9" fill="#ffffff" opacity="0.85"/>
<circle cx="496.10" cy="656.86" r="3.3" fill="#ff8000"/><circle cx="495.10" cy="655.86" r="0.9" fill="#ffffff" opacity="0.85"/>
<circle cx="512.45" cy="666.58" r="3.3" fill="#ff8000"/><circle cx="511.45" cy="665.58" r="0.9" fill="#ffffff" opacity="0.85"/>
<circle cx="528.80" cy="667.87" r="3.3" fill="#ff8000"/><circle cx="527.80" cy="666.87" r="0.9" fill="#ffffff" opacity="0.85"/>
<circle cx="545.15" cy="662.53" r="3.3" fill="#ff8000"/><circle cx="544.15" cy="661.53" r="0.9" fill="#ffffff" opacity="0.85"/>
<circle cx="561.50" cy="659.29" r="3.3" fill="#ff8000"/><circle cx="560.50" cy="658.29" r="0.9" fill="#ffffff" opacity="0.85"/>
<circle cx="577.85" cy="656.05" r="3.3" fill="#ff8000"/><circle cx="576.85" cy="655.05" r="0.9" fill="#ffffff" opacity="0.85"/>
<circle cx="594.20" cy="653.62" r="3.3" fill="#ff8000"/><circle cx="593.20" cy="652.62" r="0.9" fill="#ffffff" opacity="0.85"/>
<circle cx="610.55" cy="652.32" r="3.3" fill="#ff8000"/><circle cx="609.55" cy="651.32" r="0.9" fill="#ffffff" opacity="0.85"/>
<circle cx="626.90" cy="651.51" r="3.3" fill="#ff8000"/><circle cx="625.90" cy="650.51" r="0.9" fill="#ffffff" opacity="0.85"/>
<circle cx="643.25" cy="651.02" r="3.3" fill="#ff8000"/><circle cx="642.25" cy="650.02" r="0.9" fill="#ffffff" opacity="0.85"/>
<circle cx="659.60" cy="650.70" r="3.3" fill="#ff8000"/><circle cx="658.60" cy="649.70" r="0.9" fill="#ffffff" opacity="0.85"/>
<path d="M398.00,650.70 C403.45,650.16 408.90,649.89 414.35,649.08 C419.80,648.27 425.25,646.18 430.70,644.22 C436.15,642.26 441.60,638.22 447.05,636.77 C452.50,635.32 457.95,633.69 463.40,633.69 C468.85,633.69 474.30,646.07 479.75,652.97 C485.20,659.87 490.65,675.32 496.10,675.32 C501.55,675.32 507.00,674.44 512.45,673.38 C517.90,672.32 523.35,667.04 528.80,664.63 C534.25,662.22 539.70,659.74 545.15,658.48 C550.60,657.21 556.05,656.52 561.50,655.72 C566.95,654.93 572.40,654.15 577.85,653.62 C583.30,653.08 588.75,652.65 594.20,652.32 C599.65,651.99 605.10,651.71 610.55,651.51 C616.00,651.31 621.45,651.15 626.90,651.02 C632.35,650.89 637.80,650.70 643.25,650.70 C648.70,650.70 654.15,650.70 659.60,650.70" fill="none" stroke="#00ff00" stroke-width="2.0" stroke-linejoin="round" stroke-linecap="round"/>
<circle cx="398.00" cy="650.70" r="3.3" fill="#00ff00"/><circle cx="397.00" cy="649.70" r="0.9" fill="#ffffff" opacity="0.85"/>
<circle cx="414.35" cy="649.08" r="3.3" fill="#00ff00"/><circle cx="413.35" cy="648.08" r="0.9" fill="#ffffff" opacity="0.85"/>
<circle cx="430.70" cy="644.22" r="3.3" fill="#00ff00"/><circle cx="429.70" cy="643.22" r="0.9" fill="#ffffff" opacity="0.85"/>
<circle cx="447.05" cy="636.77" r="3.3" fill="#00ff00"/><circle cx="446.05" cy="635.77" r="0.9" fill="#ffffff" opacity="0.85"/>
<circle cx="463.40" cy="633.69" r="3.3" fill="#00ff00"/><circle cx="462.40" cy="632.69" r="0.9" fill="#ffffff" opacity="0.85"/>
<circle cx="479.75" cy="652.97" r="3.3" fill="#00ff00"/><circle cx="478.75" cy="651.97" r="0.9" fill="#ffffff" opacity="0.85"/>
<circle cx="496.10" cy="675.32" r="3.3" fill="#00ff00"/><circle cx="495.10" cy="674.32" r="0.9" fill="#ffffff" opacity="0.85"/>
<circle cx="512.45" cy="673.38" r="3.3" fill="#00ff00"/><circle cx="511.45" cy="672.38" r="0.9" fill="#ffffff" opacity="0.85"/>
<circle cx="528.80" cy="664.63" r="3.3" fill="#00ff00"/><circle cx="527.80" cy="663.63" r="0.9" fill="#ffffff" opacity="0.85"/>
<circle cx="545.15" cy="658.48" r="3.3" fill="#00ff00"/><circle cx="544.15" cy="657.48" r="0.9" fill="#ffffff" opacity="0.85"/>
<circle cx="561.50" cy="655.72" r="3.3" fill="#00ff00"/><circle cx="560.50" cy="654.72" r="0.9" fill="#ffffff" opacity="0.85"/>
<circle cx="577.85" cy="653.62" r="3.3" fill="#00ff00"/><circle cx="576.85" cy="652.62" r="0.9" fill="#ffffff" opacity="0.85"/>
<circle cx="594.20" cy="652.32" r="3.3" fill="#00ff00"/><circle cx="593.20" cy="651.32" r="0.9" fill="#ffffff" opacity="0.85"/>
<circle cx="610.55" cy="651.51" r="3.3" fill="#00ff00"/><circle cx="609.55" cy="650.51" r="0.9" fill="#ffffff" opacity="0.85"/>
<circle cx="626.90" cy="651.02" r="3.3" fill="#00ff00"/><circle cx="625.90" cy="650.02" r="0.9" fill="#ffffff" opacity="0.85"/>
<circle cx="643.25" cy="650.70" r="3.3" fill="#00ff00"/><circle cx="642.25" cy="649.70" r="0.9" fill="#ffffff" opacity="0.85"/>
<circle cx="659.60" cy="650.70" r="3.3" fill="#00ff00"/><circle cx="658.60" cy="649.70" r="0.9" fill="#ffffff" opacity="0.85"/>
<path d="M398.00,650.70 C403.45,649.78 408.90,649.06 414.35,647.95 C419.80,646.84 425.25,645.93 430.70,643.73 C436.15,641.53 441.60,628.51 447.05,628.51 C452.50,628.51 457.95,633.60 463.40,639.36 C468.85,645.12 474.30,678.34 479.75,681.80 C482.48,683.54 485.20,685.04 487.93,685.04 C490.65,685.04 493.38,683.33 496.10,681.97 C501.55,679.23 507.00,671.30 512.45,667.87 C517.90,664.44 523.35,661.75 528.80,659.77 C534.25,657.79 539.70,655.99 545.15,655.07 C550.60,654.16 556.05,653.61 561.50,653.13 C566.95,652.65 572.40,652.27 577.85,652.00 C583.30,651.72 588.75,651.56 594.20,651.35 C599.65,651.13 605.10,650.70 610.55,650.70 C616.00,650.70 621.45,650.70 626.90,650.70 C632.35,650.70 637.80,650.70 643.25,650.70 C648.70,650.70 654.15,650.70 659.60,650.70" fill="none" stroke="#000000" stroke-width="2.0" stroke-linejoin="round" stroke-linecap="round"/>
<circle cx="398.00" cy="650.70" r="3.3" fill="#000000"/><circle cx="397.00" cy="649.70" r="0.9" fill="#ffffff" opacity="0.85"/>
<circle cx="414.35" cy="647.95" r="3.3" fill="#000000"/><circle cx="413.35" cy="646.95" r="0.9" fill="#ffffff" opacity="0.85"/>
<circle cx="430.70" cy="643.73" r="3.3" fill="#000000"/><circle cx="429.70" cy="642.73" r="0.9" fill="#ffffff" opacity="0.85"/>
<circle cx="447.05" cy="628.51" r="3.3" fill="#000000"/><circle cx="446.05" cy="627.51" r="0.9" fill="#ffffff" opacity="0.85"/>
<circle cx="463.40" cy="639.36" r="3.3" fill="#000000"/><circle cx="462.40" cy="638.36" r="0.9" fill="#ffffff" opacity="0.85"/>
<circle cx="479.75" cy="681.80" r="3.3" fill="#000000"/><circle cx="478.75" cy="680.80" r="0.9" fill="#ffffff" opacity="0.85"/>
<circle cx="496.10" cy="681.97" r="3.3" fill="#000000"/><circle cx="495.10" cy="680.97" r="0.9" fill="#ffffff" opacity="0.85"/>
<circle cx="512.45" cy="667.87" r="3.3" fill="#000000"/><circle cx="511.45" cy="666.87" r="0.9" fill="#ffffff" opacity="0.85"/>
<circle cx="528.80" cy="659.77" r="3.3" fill="#000000"/><circle cx="527.80" cy="658.77" r="0.9" fill="#ffffff" opacity="0.85"/>
<circle cx="545.15" cy="655.07" r="3.3" fill="#000000"/><circle cx="544.15" cy="654.07" r="0.9" fill="#ffffff" opacity="0.85"/>
<circle cx="561.50" cy="653.13" r="3.3" fill="#000000"/><circle cx="560.50" cy="652.13" r="0.9" fill="#ffffff" opacity="0.85"/>
<circle cx="577.85" cy="652.00" r="3.3" fill="#000000"/><circle cx="576.85" cy="651.00" r="0.9" fill="#ffffff" opacity="0.85"/>
<circle cx="594.20" cy="651.35" r="3.3" fill="#000000"/><circle cx="593.20" cy="650.35" r="0.9" fill="#ffffff" opacity="0.85"/>
<circle cx="610.55" cy="650.70" r="3.3" fill="#000000"/><circle cx="609.55" cy="649.70" r="0.9" fill="#ffffff" opacity="0.85"/>
<circle cx="626.90" cy="650.70" r="3.3" fill="#000000"/><circle cx="625.90" cy="649.70" r="0.9" fill="#ffffff" opacity="0.85"/>
<circle cx="643.25" cy="650.70" r="3.3" fill="#000000"/><circle cx="642.25" cy="649.70" r="0.9" fill="#ffffff" opacity="0.85"/>
<circle cx="659.60" cy="650.70" r="3.3" fill="#000000"/><circle cx="658.60" cy="649.70" r="0.9" fill="#ffffff" opacity="0.85"/>
<path d="M398.00,650.70 C403.45,649.08 408.90,648.27 414.35,645.84 C419.80,643.41 425.25,635.74 430.70,631.26 C436.15,626.78 441.60,618.79 447.05,618.79 C452.50,618.79 457.95,659.38 463.40,671.44 C468.85,683.49 474.30,698.98 479.75,698.98 C485.20,698.98 490.65,681.27 496.10,675.49 C501.55,669.70 507.00,664.23 512.45,661.72 C517.90,659.21 523.35,657.78 528.80,656.53 C534.25,655.29 539.70,654.21 545.15,653.62 C550.60,653.02 556.05,652.65 561.50,652.32 C566.95,651.99 572.40,651.78 577.85,651.51 C583.30,651.24 588.75,650.70 594.20,650.70 C599.65,650.70 605.10,650.70 610.55,650.70 C616.00,650.70 621.45,650.70 626.90,650.70 C632.35,650.70 637.80,650.70 643.25,650.70 C648.70,650.70 654.15,650.70 659.60,650.70" fill="none" stroke="#ff00ff" stroke-width="2.0" stroke-linejoin="round" stroke-linecap="round"/>
<circle cx="398.00" cy="650.70" r="3.3" fill="#ff00ff"/><circle cx="397.00" cy="649.70" r="0.9" fill="#ffffff" opacity="0.85"/>
<circle cx="414.35" cy="645.84" r="3.3" fill="#ff00ff"/><circle cx="413.35" cy="644.84" r="0.9" fill="#ffffff" opacity="0.85"/>
<circle cx="430.70" cy="631.26" r="3.3" fill="#ff00ff"/><circle cx="429.70" cy="630.26" r="0.9" fill="#ffffff" opacity="0.85"/>
<circle cx="447.05" cy="618.79" r="3.3" fill="#ff00ff"/><circle cx="446.05" cy="617.79" r="0.9" fill="#ffffff" opacity="0.85"/>
<circle cx="463.40" cy="671.44" r="3.3" fill="#ff00ff"/><circle cx="462.40" cy="670.44" r="0.9" fill="#ffffff" opacity="0.85"/>
<circle cx="479.75" cy="698.98" r="3.3" fill="#ff00ff"/><circle cx="478.75" cy="697.98" r="0.9" fill="#ffffff" opacity="0.85"/>
<circle cx="496.10" cy="675.49" r="3.3" fill="#ff00ff"/><circle cx="495.10" cy="674.49" r="0.9" fill="#ffffff" opacity="0.85"/>
<circle cx="512.45" cy="661.72" r="3.3" fill="#ff00ff"/><circle cx="511.45" cy="660.72" r="0.9" fill="#ffffff" opacity="0.85"/>
<circle cx="528.80" cy="656.53" r="3.3" fill="#ff00ff"/><circle cx="527.80" cy="655.53" r="0.9" fill="#ffffff" opacity="0.85"/>
<circle cx="545.15" cy="653.62" r="3.3" fill="#ff00ff"/><circle cx="544.15" cy="652.62" r="0.9" fill="#ffffff" opacity="0.85"/>
<circle cx="561.50" cy="652.32" r="3.3" fill="#ff00ff"/><circle cx="560.50" cy="651.32" r="0.9" fill="#ffffff" opacity="0.85"/>
<circle cx="577.85" cy="651.51" r="3.3" fill="#ff00ff"/><circle cx="576.85" cy="650.51" r="0.9" fill="#ffffff" opacity="0.85"/>
<circle cx="594.20" cy="650.70" r="3.3" fill="#ff00ff"/><circle cx="593.20" cy="649.70" r="0.9" fill="#ffffff" opacity="0.85"/>
<circle cx="610.55" cy="650.70" r="3.3" fill="#ff00ff"/><circle cx="609.55" cy="649.70" r="0.9" fill="#ffffff" opacity="0.85"/>
<circle cx="626.90" cy="650.70" r="3.3" fill="#ff00ff"/><circle cx="625.90" cy="649.70" r="0.9" fill="#ffffff" opacity="0.85"/>
<circle cx="643.25" cy="650.70" r="3.3" fill="#ff00ff"/><circle cx="642.25" cy="649.70" r="0.9" fill="#ffffff" opacity="0.85"/>
<circle cx="659.60" cy="650.70" r="3.3" fill="#ff00ff"/><circle cx="658.60" cy="649.70" r="0.9" fill="#ffffff" opacity="0.85"/>
<path d="M398.00,650.70 C403.45,640.06 408.90,618.79 414.35,618.79 C419.80,618.79 425.25,627.19 430.70,639.36 C436.15,651.53 441.60,801.36 447.05,801.36 C452.50,801.36 457.95,691.90 463.40,679.54 C468.85,667.18 474.30,660.24 479.75,657.67 C485.20,655.09 490.65,653.71 496.10,652.97 C501.55,652.23 507.00,651.86 512.45,651.51 C517.90,651.16 523.35,650.70 528.80,650.70 C534.25,650.70 539.70,650.70 545.15,650.70 C550.60,650.70 556.05,650.70 561.50,650.70 C566.95,650.70 572.40,650.70 577.85,650.70 C583.30,650.70 588.75,650.70 594.20,650.70 C599.65,650.70 605.10,650.70 610.55,650.70 C616.00,650.70 621.45,650.70 626.90,650.70 C632.35,650.70 637.80,650.70 643.25,650.70 C648.70,650.70 654.15,650.70 659.60,650.70" fill="none" stroke="#0000ff" stroke-width="2.0" stroke-linejoin="round" stroke-linecap="round"/>
<circle cx="398.00" cy="650.70" r="3.3" fill="#0000ff"/><circle cx="397.00" cy="649.70" r="0.9" fill="#ffffff" opacity="0.85"/>
<circle cx="414.35" cy="618.79" r="3.3" fill="#0000ff"/><circle cx="413.35" cy="617.79" r="0.9" fill="#ffffff" opacity="0.85"/>
<circle cx="430.70" cy="639.36" r="3.3" fill="#0000ff"/><circle cx="429.70" cy="638.36" r="0.9" fill="#ffffff" opacity="0.85"/>
<circle cx="447.05" cy="801.36" r="3.3" fill="#0000ff"/><circle cx="446.05" cy="800.36" r="0.9" fill="#ffffff" opacity="0.85"/>
<circle cx="463.40" cy="679.54" r="3.3" fill="#0000ff"/><circle cx="462.40" cy="678.54" r="0.9" fill="#ffffff" opacity="0.85"/>
<circle cx="479.75" cy="657.67" r="3.3" fill="#0000ff"/><circle cx="478.75" cy="656.67" r="0.9" fill="#ffffff" opacity="0.85"/>
<circle cx="496.10" cy="652.97" r="3.3" fill="#0000ff"/><circle cx="495.10" cy="651.97" r="0.9" fill="#ffffff" opacity="0.85"/>
<circle cx="512.45" cy="651.51" r="3.3" fill="#0000ff"/><circle cx="511.45" cy="650.51" r="0.9" fill="#ffffff" opacity="0.85"/>
<circle cx="528.80" cy="650.70" r="3.3" fill="#0000ff"/><circle cx="527.80" cy="649.70" r="0.9" fill="#ffffff" opacity="0.85"/>
<circle cx="545.15" cy="650.70" r="3.3" fill="#0000ff"/><circle cx="544.15" cy="649.70" r="0.9" fill="#ffffff" opacity="0.85"/>
<circle cx="561.50" cy="650.70" r="3.3" fill="#0000ff"/><circle cx="560.50" cy="649.70" r="0.9" fill="#ffffff" opacity="0.85"/>
<circle cx="577.85" cy="650.70" r="3.3" fill="#0000ff"/><circle cx="576.85" cy="649.70" r="0.9" fill="#ffffff" opacity="0.85"/>
<circle cx="594.20" cy="650.70" r="3.3" fill="#0000ff"/><circle cx="593.20" cy="649.70" r="0.9" fill="#ffffff" opacity="0.85"/>
<circle cx="610.55" cy="650.70" r="3.3" fill="#0000ff"/><circle cx="609.55" cy="649.70" r="0.9" fill="#ffffff" opacity="0.85"/>
<circle cx="626.90" cy="650.70" r="3.3" fill="#0000ff"/><circle cx="625.90" cy="649.70" r="0.9" fill="#ffffff" opacity="0.85"/>
<circle cx="643.25" cy="650.70" r="3.3" fill="#0000ff"/><circle cx="642.25" cy="649.70" r="0.9" fill="#ffffff" opacity="0.85"/>
<circle cx="659.60" cy="650.70" r="3.3" fill="#0000ff"/><circle cx="658.60" cy="649.70" r="0.9" fill="#ffffff" opacity="0.85"/>
</g>
<rect x="392.70" y="602.40" width="267.20" height="211.20" fill="none" stroke="#000" stroke-width="2.3"/>
<line x1="398.00" y1="813.60" x2="398.00" y2="809.30" stroke="#000" stroke-width="1.8"/>
<line x1="463.40" y1="813.60" x2="463.40" y2="809.30" stroke="#000" stroke-width="1.8"/>
<line x1="528.80" y1="813.60" x2="528.80" y2="809.30" stroke="#000" stroke-width="1.8"/>
<line x1="594.20" y1="813.60" x2="594.20" y2="809.30" stroke="#000" stroke-width="1.8"/>
<line x1="659.60" y1="813.60" x2="659.60" y2="809.30" stroke="#000" stroke-width="1.8"/>
<line x1="430.70" y1="813.60" x2="430.70" y2="810.70" stroke="#000" stroke-width="1.8"/>
<line x1="496.10" y1="813.60" x2="496.10" y2="810.70" stroke="#000" stroke-width="1.8"/>
<line x1="561.50" y1="813.60" x2="561.50" y2="810.70" stroke="#000" stroke-width="1.8"/>
<line x1="626.90" y1="813.60" x2="626.90" y2="810.70" stroke="#000" stroke-width="1.8"/>
<line x1="392.70" y1="618.30" x2="397.00" y2="618.30" stroke="#000" stroke-width="1.8"/>
<line x1="392.70" y1="650.70" x2="397.00" y2="650.70" stroke="#000" stroke-width="1.8"/>
<line x1="392.70" y1="683.10" x2="397.00" y2="683.10" stroke="#000" stroke-width="1.8"/>
<line x1="392.70" y1="715.50" x2="397.00" y2="715.50" stroke="#000" stroke-width="1.8"/>
<line x1="392.70" y1="747.90" x2="397.00" y2="747.90" stroke="#000" stroke-width="1.8"/>
<line x1="392.70" y1="780.30" x2="397.00" y2="780.30" stroke="#000" stroke-width="1.8"/>
<line x1="392.70" y1="812.70" x2="397.00" y2="812.70" stroke="#000" stroke-width="1.8"/>
<line x1="392.70" y1="634.50" x2="395.60" y2="634.50" stroke="#000" stroke-width="1.8"/>
<line x1="392.70" y1="666.90" x2="395.60" y2="666.90" stroke="#000" stroke-width="1.8"/>
<line x1="392.70" y1="699.30" x2="395.60" y2="699.30" stroke="#000" stroke-width="1.8"/>
<line x1="392.70" y1="731.70" x2="395.60" y2="731.70" stroke="#000" stroke-width="1.8"/>
<line x1="392.70" y1="764.10" x2="395.60" y2="764.10" stroke="#000" stroke-width="1.8"/>
<line x1="392.70" y1="796.50" x2="395.60" y2="796.50" stroke="#000" stroke-width="1.8"/>
<g transform="translate(52.85,230.17) scale(0.13800,0.15100)" fill="#303030"><text x="0.00" y="0.00" font-size="100">0</text></g>
<g transform="translate(89.49,230.17) scale(0.13800,0.15100)" fill="#303030"><text x="0.00" y="0.00" font-size="100">200</text></g>
<g transform="translate(133.17,230.17) scale(0.13800,0.15100)" fill="#303030"><text x="0.00" y="0.00" font-size="100">400</text></g>
<g transform="translate(176.57,230.17) scale(0.13800,0.15100)" fill="#303030"><text x="0.00" y="0.00" font-size="100">600</text></g>
<g transform="translate(220.11,230.17) scale(0.13800,0.15100)" fill="#303030"><text x="0.00" y="0.00" font-size="100">800</text></g>
<g transform="translate(259.85,230.17) scale(0.13800,0.15100)" fill="#303030"><text x="0.00" y="0.00" font-size="100">1000</text></g>
<g transform="translate(303.39,230.17) scale(0.13800,0.15100)" fill="#303030"><text x="0.00" y="0.00" font-size="100">1200</text></g>
<g transform="translate(39.45,12.01) scale(0.13800,0.15100)" fill="#303030"><text x="0.00" y="0.00" font-size="100">0</text></g>
<g transform="translate(25.65,61.11) scale(0.13800,0.15100)" fill="#303030"><text x="0.00" y="0.00" font-size="100">500</text></g>
<g transform="translate(18.75,110.21) scale(0.13800,0.15100)" fill="#303030"><text x="0.00" y="0.00" font-size="100">1000</text></g>
<g transform="translate(18.75,159.31) scale(0.13800,0.15100)" fill="#303030"><text x="0.00" y="0.00" font-size="100">1500</text></g>
<g transform="translate(18.75,208.41) scale(0.13800,0.15100)" fill="#303030"><text x="0.00" y="0.00" font-size="100">2000</text></g>
<g transform="translate(391.55,232.37) scale(0.13800,0.15100)" fill="#303030"><text x="0.00" y="0.00" font-size="100">0</text></g>
<g transform="translate(428.45,232.37) scale(0.13800,0.15100)" fill="#303030"><text x="0.00" y="0.00" font-size="100">200</text></g>
<g transform="translate(472.39,232.37) scale(0.13800,0.15100)" fill="#303030"><text x="0.00" y="0.00" font-size="100">400</text></g>
<g transform="translate(516.05,232.37) scale(0.13800,0.15100)" fill="#303030"><text x="0.00" y="0.00" font-size="100">600</text></g>
<g transform="translate(559.85,232.37) scale(0.13800,0.15100)" fill="#303030"><text x="0.00" y="0.00" font-size="100">800</text></g>
<g transform="translate(599.86,232.37) scale(0.13800,0.15100)" fill="#303030"><text x="0.00" y="0.00" font-size="100">1000</text></g>
<g transform="translate(643.65,232.37) scale(0.13800,0.15100)" fill="#303030"><text x="0.00" y="0.00" font-size="100">1200</text></g>
<g transform="translate(377.85,13.41) scale(0.13800,0.15100)" fill="#303030"><text x="0.00" y="0.00" font-size="100">0</text></g>
<g transform="translate(364.05,62.83) scale(0.13800,0.15100)" fill="#303030"><text x="0.00" y="0.00" font-size="100">500</text></g>
<g transform="translate(357.15,112.26) scale(0.13800,0.15100)" fill="#303030"><text x="0.00" y="0.00" font-size="100">1000</text></g>
<g transform="translate(357.15,161.68) scale(0.13800,0.15100)" fill="#303030"><text x="0.00" y="0.00" font-size="100">1500</text></g>
<g transform="translate(357.15,211.11) scale(0.13800,0.15100)" fill="#303030"><text x="0.00" y="0.00" font-size="100">2000</text></g>
<g transform="translate(45.57,518.91) scale(0.13700,0.14100)" fill="#303030"><text x="0.00" y="0.00" font-size="100">0</text></g>
<g transform="translate(84.03,518.91) scale(0.13700,0.14100)" fill="#303030"><text x="0.00" y="0.00" font-size="100">200</text></g>
<g transform="translate(129.46,518.91) scale(0.13700,0.14100)" fill="#303030"><text x="0.00" y="0.00" font-size="100">400</text></g>
<g transform="translate(174.62,518.91) scale(0.13700,0.14100)" fill="#303030"><text x="0.00" y="0.00" font-size="100">600</text></g>
<g transform="translate(219.93,518.91) scale(0.13700,0.14100)" fill="#303030"><text x="0.00" y="0.00" font-size="100">800</text></g>
<g transform="translate(261.46,518.91) scale(0.13700,0.14100)" fill="#303030"><text x="0.00" y="0.00" font-size="100">1000</text></g>
<g transform="translate(306.76,518.91) scale(0.13700,0.14100)" fill="#303030"><text x="0.00" y="0.00" font-size="100">1200</text></g>
<g transform="translate(31.30,498.65) scale(0.13700,0.14300)" fill="#303030"><text x="0.00" y="0.00" font-size="100">0</text></g>
<g transform="translate(31.30,457.88) scale(0.13700,0.14300)" fill="#303030"><text x="0.00" y="0.00" font-size="100">5</text></g>
<g transform="translate(24.45,417.25) scale(0.13700,0.14300)" fill="#303030"><text x="0.00" y="0.00" font-size="100">10</text></g>
<g transform="translate(24.45,376.48) scale(0.13700,0.14300)" fill="#303030"><text x="0.00" y="0.00" font-size="100">15</text></g>
<g transform="translate(24.45,335.85) scale(0.13700,0.14300)" fill="#303030"><text x="0.00" y="0.00" font-size="100">20</text></g>
<g transform="translate(24.45,295.08) scale(0.13700,0.14300)" fill="#303030"><text x="0.00" y="0.00" font-size="100">25</text></g>
<g transform="translate(382.00,517.34) scale(0.14000,0.14600)" fill="#303030"><text x="0.00" y="0.00" font-size="100">0</text></g>
<g transform="translate(420.00,517.34) scale(0.14000,0.14600)" fill="#303030"><text x="0.00" y="0.00" font-size="100">200</text></g>
<g transform="translate(465.14,517.34) scale(0.14000,0.14600)" fill="#303030"><text x="0.00" y="0.00" font-size="100">400</text></g>
<g transform="translate(510.00,517.34) scale(0.14000,0.14600)" fill="#303030"><text x="0.00" y="0.00" font-size="100">600</text></g>
<g transform="translate(555.00,517.34) scale(0.14000,0.14600)" fill="#303030"><text x="0.00" y="0.00" font-size="100">800</text></g>
<g transform="translate(596.15,517.34) scale(0.14000,0.14600)" fill="#303030"><text x="0.00" y="0.00" font-size="100">1000</text></g>
<g transform="translate(641.15,517.34) scale(0.14000,0.14600)" fill="#303030"><text x="0.00" y="0.00" font-size="100">1200</text></g>
<g transform="translate(367.96,498.75) scale(0.14000,0.14600)" fill="#303030"><text x="0.00" y="0.00" font-size="100">0</text></g>
<g transform="translate(367.96,457.67) scale(0.14000,0.14600)" fill="#303030"><text x="0.00" y="0.00" font-size="100">5</text></g>
<g transform="translate(360.96,416.75) scale(0.14000,0.14600)" fill="#303030"><text x="0.00" y="0.00" font-size="100">10</text></g>
<g transform="translate(360.96,375.67) scale(0.14000,0.14600)" fill="#303030"><text x="0.00" y="0.00" font-size="100">15</text></g>
<g transform="translate(360.96,334.75) scale(0.14000,0.14600)" fill="#303030"><text x="0.00" y="0.00" font-size="100">20</text></g>
<g transform="translate(360.96,293.67) scale(0.14000,0.14600)" fill="#303030"><text x="0.00" y="0.00" font-size="100">25</text></g>
<g transform="translate(53.35,830.80) scale(0.13800,0.14400)" fill="#303030"><text x="0.00" y="0.00" font-size="100">0</text></g>
<g transform="translate(111.45,830.80) scale(0.13800,0.14400)" fill="#303030"><text x="0.00" y="0.00" font-size="100">200</text></g>
<g transform="translate(176.59,830.80) scale(0.13800,0.14400)" fill="#303030"><text x="0.00" y="0.00" font-size="100">400</text></g>
<g transform="translate(241.45,830.80) scale(0.13800,0.14400)" fill="#303030"><text x="0.00" y="0.00" font-size="100">600</text></g>
<g transform="translate(306.45,830.80) scale(0.13800,0.14400)" fill="#303030"><text x="0.00" y="0.00" font-size="100">800</text></g>
<g transform="translate(27.34,627.21) scale(0.13600,0.14500)" fill="#303030"><text x="0.00" y="0.00" font-size="100">0. 5</text></g>
<g transform="translate(27.34,675.31) scale(0.13600,0.14500)" fill="#303030"><text x="0.00" y="0.00" font-size="100">0. 0</text></g>
<g transform="translate(19.73,723.41) scale(0.13600,0.14500)" fill="#303030"><text x="0.00" y="0.00" font-size="100">−0. 5</text></g>
<g transform="translate(19.73,771.51) scale(0.13600,0.14500)" fill="#303030"><text x="0.00" y="0.00" font-size="100">−1. 0</text></g>
<g transform="translate(19.73,819.54) scale(0.13600,0.14500)" fill="#303030"><text x="0.00" y="0.00" font-size="100">−1. 5</text></g>
<g transform="translate(394.43,830.37) scale(0.14300,0.13900)" fill="#303030"><text x="0.00" y="0.00" font-size="100">0</text></g>
<g transform="translate(452.67,830.37) scale(0.14300,0.13900)" fill="#303030"><text x="0.00" y="0.00" font-size="100">200</text></g>
<g transform="translate(518.22,830.37) scale(0.14300,0.13900)" fill="#303030"><text x="0.00" y="0.00" font-size="100">400</text></g>
<g transform="translate(583.48,830.37) scale(0.14300,0.13900)" fill="#303030"><text x="0.00" y="0.00" font-size="100">600</text></g>
<g transform="translate(648.88,830.37) scale(0.14300,0.13900)" fill="#303030"><text x="0.00" y="0.00" font-size="100">800</text></g>
<g transform="translate(366.98,624.81) scale(0.13600,0.14500)" fill="#303030"><text x="0.00" y="0.00" font-size="100">0. 2</text></g>
<g transform="translate(366.84,657.21) scale(0.13600,0.14500)" fill="#303030"><text x="0.00" y="0.00" font-size="100">0. 0</text></g>
<g transform="translate(359.36,689.61) scale(0.13600,0.14500)" fill="#303030"><text x="0.00" y="0.00" font-size="100">−0. 2</text></g>
<g transform="translate(358.82,722.01) scale(0.13600,0.14500)" fill="#303030"><text x="0.00" y="0.00" font-size="100">−0. 4</text></g>
<g transform="translate(359.09,754.41) scale(0.13600,0.14500)" fill="#303030"><text x="0.00" y="0.00" font-size="100">−0. 6</text></g>
<g transform="translate(359.23,786.81) scale(0.13600,0.14500)" fill="#303030"><text x="0.00" y="0.00" font-size="100">−0. 8</text></g>
<g transform="translate(359.23,819.21) scale(0.13600,0.14500)" fill="#303030"><text x="0.00" y="0.00" font-size="100">−1. 0</text></g>
<g transform="translate(168.67,244.65) scale(0.13071,0.14857)" fill="#303030"><text x="0.00" y="0.00" font-size="100">time/d</text></g>
<g transform="translate(508.77,244.64) scale(0.13268,0.15571)" fill="#303030"><text x="0.00" y="0.00" font-size="100">time/d</text></g>
<g transform="translate(167.96,529.96) scale(0.13583,0.13857)" fill="#303030"><text x="0.00" y="0.00" font-size="100">time/d</text></g>
<g transform="translate(503.87,528.75) scale(0.13425,0.15000)" fill="#303030"><text x="0.00" y="0.00" font-size="100">time/d</text></g>
<g transform="translate(170.67,841.66) scale(0.13031,0.13571)" fill="#303030"><text x="0.00" y="0.00" font-size="100">time/d</text></g>
<g transform="translate(512.46,840.77) scale(0.13858,0.13143)" fill="#303030"><text x="0.00" y="0.00" font-size="100">time/d</text></g>
<g transform="translate(16.35,170.18) rotate(-90) scale(0.14510,0.14857)" fill="#303030"><text x="0.00" y="0.00" font-size="100">subsidence value/mm</text></g>
<g transform="translate(355.85,171.38) rotate(-90) scale(0.14499,0.14857)" fill="#303030"><text x="0.00" y="0.00" font-size="100">subsidence value/mm</text></g>
<g transform="translate(19.87,474.76) rotate(-90) scale(0.14086,0.13786)" fill="#303030"><text x="0.00" y="0.00" font-size="100">subsidence velocity/(mm·d</text><text x="1085.86" y="-40.00" font-size="62">-1</text><text x="1139.50" y="0.00" font-size="100">)</text></g>
<g transform="translate(356.47,472.46) rotate(-90) scale(0.13948,0.13301)" fill="#303030"><text x="0.00" y="0.00" font-size="100">subsidence velocity/(mm·d</text><text x="1085.86" y="-40.00" font-size="62">-1</text><text x="1139.50" y="0.00" font-size="100">)</text></g>
<g transform="translate(16.70,804.58) rotate(-90) scale(0.14543,0.13824)" fill="#303030"><text x="0.00" y="0.00" font-size="100">subsidence acceleration/(mm·d</text><text x="1246.72" y="-40.00" font-size="62">-2</text><text x="1300.36" y="0.00" font-size="100">)</text></g>
<g transform="translate(356.04,800.76) rotate(-90) scale(0.14060,0.13627)" fill="#303030"><text x="0.00" y="0.00" font-size="100">subsidence acceleration/(mm·d</text><text x="1246.72" y="-40.00" font-size="62">-2</text><text x="1300.36" y="0.00" font-size="100">)</text></g>
<line x1="214.20" y1="23.50" x2="242.20" y2="23.50" stroke="#0000ff" stroke-width="1.7"/>
<circle cx="228.10" cy="23.50" r="3.1" fill="#0000ff"/><circle cx="227.10" cy="22.50" r="0.9" fill="#ffffff" opacity="0.85"/>
<g transform="translate(247.41,29.10) scale(0.13050,0.15900)" fill="#303030"><text x="0.00" y="0.00" font-size="100" font-style="italic">q</text><text x="51.00" y="23.00" font-size="70">1</text><text x="90.00" y="0.00" font-size="100">=5e−11</text></g>
<line x1="214.20" y1="44.40" x2="242.20" y2="44.40" stroke="#ff00ff" stroke-width="1.7"/>
<circle cx="228.10" cy="44.40" r="3.1" fill="#ff00ff"/><circle cx="227.10" cy="43.40" r="0.9" fill="#ffffff" opacity="0.85"/>
<g transform="translate(247.41,50.00) scale(0.13050,0.15900)" fill="#303030"><text x="0.00" y="0.00" font-size="100" font-style="italic">q</text><text x="51.00" y="23.00" font-size="70">1</text><text x="90.00" y="0.00" font-size="100">=5e−10</text></g>
<line x1="214.20" y1="65.30" x2="242.20" y2="65.30" stroke="#008000" stroke-width="1.7"/>
<circle cx="228.10" cy="65.30" r="3.1" fill="#008000"/><circle cx="227.10" cy="64.30" r="0.9" fill="#ffffff" opacity="0.85"/>
<g transform="translate(247.41,70.90) scale(0.13050,0.15900)" fill="#303030"><text x="0.00" y="0.00" font-size="100" font-style="italic">q</text><text x="51.00" y="23.00" font-size="70">1</text><text x="90.00" y="0.00" font-size="100">=1e−9</text></g>
<line x1="214.20" y1="86.20" x2="242.20" y2="86.20" stroke="#ff8000" stroke-width="1.7"/>
<circle cx="228.10" cy="86.20" r="3.1" fill="#ff8000"/><circle cx="227.10" cy="85.20" r="0.9" fill="#ffffff" opacity="0.85"/>
<g transform="translate(247.41,91.80) scale(0.13050,0.15900)" fill="#303030"><text x="0.00" y="0.00" font-size="100" font-style="italic">q</text><text x="51.00" y="23.00" font-size="70">1</text><text x="90.00" y="0.00" font-size="100">=3e−9</text></g>
<line x1="214.20" y1="107.10" x2="242.20" y2="107.10" stroke="#00ff00" stroke-width="1.7"/>
<circle cx="228.10" cy="107.10" r="3.1" fill="#00ff00"/><circle cx="227.10" cy="106.10" r="0.9" fill="#ffffff" opacity="0.85"/>
<g transform="translate(247.41,112.70) scale(0.13050,0.15900)" fill="#303030"><text x="0.00" y="0.00" font-size="100" font-style="italic">q</text><text x="51.00" y="23.00" font-size="70">1</text><text x="90.00" y="0.00" font-size="100">=5e−9</text></g>
<line x1="214.20" y1="128.00" x2="242.20" y2="128.00" stroke="#000000" stroke-width="1.7"/>
<circle cx="228.10" cy="128.00" r="3.1" fill="#000000"/><circle cx="227.10" cy="127.00" r="0.9" fill="#ffffff" opacity="0.85"/>
<g transform="translate(247.41,133.60) scale(0.13050,0.15900)" fill="#303030"><text x="0.00" y="0.00" font-size="100" font-style="italic">q</text><text x="51.00" y="23.00" font-size="70">1</text><text x="90.00" y="0.00" font-size="100">=7e−9</text></g>
<line x1="555.90" y1="29.40" x2="584.80" y2="29.40" stroke="#008000" stroke-width="1.7"/>
<circle cx="570.20" cy="29.40" r="3.1" fill="#008000"/><circle cx="569.20" cy="28.40" r="0.9" fill="#ffffff" opacity="0.85"/>
<g transform="translate(589.70,34.80) scale(0.13200,0.15300)" fill="#303030"><text x="0.00" y="0.00" font-size="100" font-style="italic">q</text><text x="51.00" y="23.00" font-size="70">2</text><text x="90.00" y="0.00" font-size="100">=3. 6</text></g>
<line x1="555.90" y1="50.40" x2="584.80" y2="50.40" stroke="#ff8000" stroke-width="1.7"/>
<circle cx="570.20" cy="50.40" r="3.1" fill="#ff8000"/><circle cx="569.20" cy="49.40" r="0.9" fill="#ffffff" opacity="0.85"/>
<g transform="translate(589.70,55.80) scale(0.13200,0.15300)" fill="#303030"><text x="0.00" y="0.00" font-size="100" font-style="italic">q</text><text x="51.00" y="23.00" font-size="70">2</text><text x="90.00" y="0.00" font-size="100">=3. 7</text></g>
<line x1="555.90" y1="71.40" x2="584.80" y2="71.40" stroke="#00ff00" stroke-width="1.7"/>
<circle cx="570.20" cy="71.40" r="3.1" fill="#00ff00"/><circle cx="569.20" cy="70.40" r="0.9" fill="#ffffff" opacity="0.85"/>
<g transform="translate(589.70,76.80) scale(0.13200,0.15300)" fill="#303030"><text x="0.00" y="0.00" font-size="100" font-style="italic">q</text><text x="51.00" y="23.00" font-size="70">2</text><text x="90.00" y="0.00" font-size="100">=3. 8</text></g>
<line x1="555.90" y1="92.40" x2="584.80" y2="92.40" stroke="#000000" stroke-width="1.7"/>
<circle cx="570.20" cy="92.40" r="3.1" fill="#000000"/><circle cx="569.20" cy="91.40" r="0.9" fill="#ffffff" opacity="0.85"/>
<g transform="translate(589.70,97.80) scale(0.13200,0.15300)" fill="#303030"><text x="0.00" y="0.00" font-size="100" font-style="italic">q</text><text x="51.00" y="23.00" font-size="70">2</text><text x="90.00" y="0.00" font-size="100">=3. 9</text></g>
<line x1="555.90" y1="113.40" x2="584.80" y2="113.40" stroke="#ff00ff" stroke-width="1.7"/>
<circle cx="570.20" cy="113.40" r="3.1" fill="#ff00ff"/><circle cx="569.20" cy="112.40" r="0.9" fill="#ffffff" opacity="0.85"/>
<g transform="translate(589.70,118.80) scale(0.13200,0.15300)" fill="#303030"><text x="0.00" y="0.00" font-size="100" font-style="italic">q</text><text x="51.00" y="23.00" font-size="70">2</text><text x="90.00" y="0.00" font-size="100">=4. 0</text></g>
<line x1="555.90" y1="134.40" x2="584.80" y2="134.40" stroke="#0000ff" stroke-width="1.7"/>
<circle cx="570.20" cy="134.40" r="3.1" fill="#0000ff"/><circle cx="569.20" cy="133.40" r="0.9" fill="#ffffff" opacity="0.85"/>
<g transform="translate(589.70,139.80) scale(0.13200,0.15300)" fill="#303030"><text x="0.00" y="0.00" font-size="100" font-style="italic">q</text><text x="51.00" y="23.00" font-size="70">2</text><text x="90.00" y="0.00" font-size="100">=4. 5</text></g>
<line x1="214.80" y1="316.70" x2="244.00" y2="316.70" stroke="#0000ff" stroke-width="1.7"/>
<circle cx="229.00" cy="316.70" r="3.1" fill="#0000ff"/><circle cx="228.00" cy="315.70" r="0.9" fill="#ffffff" opacity="0.85"/>
<g transform="translate(249.79,322.10) scale(0.13600,0.15900)" fill="#303030"><text x="0.00" y="0.00" font-size="100" font-style="italic">q</text><text x="51.00" y="23.00" font-size="70">1</text><text x="90.00" y="0.00" font-size="100">=5e−11</text></g>
<line x1="214.80" y1="337.76" x2="244.00" y2="337.76" stroke="#ff00ff" stroke-width="1.7"/>
<circle cx="229.00" cy="337.76" r="3.1" fill="#ff00ff"/><circle cx="228.00" cy="336.76" r="0.9" fill="#ffffff" opacity="0.85"/>
<g transform="translate(249.79,343.16) scale(0.13600,0.15900)" fill="#303030"><text x="0.00" y="0.00" font-size="100" font-style="italic">q</text><text x="51.00" y="23.00" font-size="70">1</text><text x="90.00" y="0.00" font-size="100">=5e−10</text></g>
<line x1="214.80" y1="358.82" x2="244.00" y2="358.82" stroke="#008000" stroke-width="1.7"/>
<circle cx="229.00" cy="358.82" r="3.1" fill="#008000"/><circle cx="228.00" cy="357.82" r="0.9" fill="#ffffff" opacity="0.85"/>
<g transform="translate(249.79,364.22) scale(0.13600,0.15900)" fill="#303030"><text x="0.00" y="0.00" font-size="100" font-style="italic">q</text><text x="51.00" y="23.00" font-size="70">1</text><text x="90.00" y="0.00" font-size="100">=1e−9</text></g>
<line x1="214.80" y1="379.88" x2="244.00" y2="379.88" stroke="#ff8000" stroke-width="1.7"/>
<circle cx="229.00" cy="379.88" r="3.1" fill="#ff8000"/><circle cx="228.00" cy="378.88" r="0.9" fill="#ffffff" opacity="0.85"/>
<g transform="translate(249.79,385.28) scale(0.13600,0.15900)" fill="#303030"><text x="0.00" y="0.00" font-size="100" font-style="italic">q</text><text x="51.00" y="23.00" font-size="70">1</text><text x="90.00" y="0.00" font-size="100">=3e−9</text></g>
<line x1="214.80" y1="400.94" x2="244.00" y2="400.94" stroke="#00ff00" stroke-width="1.7"/>
<circle cx="229.00" cy="400.94" r="3.1" fill="#00ff00"/><circle cx="228.00" cy="399.94" r="0.9" fill="#ffffff" opacity="0.85"/>
<g transform="translate(249.79,406.34) scale(0.13600,0.15900)" fill="#303030"><text x="0.00" y="0.00" font-size="100" font-style="italic">q</text><text x="51.00" y="23.00" font-size="70">1</text><text x="90.00" y="0.00" font-size="100">=5e−9</text></g>
<line x1="214.80" y1="422.00" x2="244.00" y2="422.00" stroke="#000000" stroke-width="1.7"/>
<circle cx="229.00" cy="422.00" r="3.1" fill="#000000"/><circle cx="228.00" cy="421.00" r="0.9" fill="#ffffff" opacity="0.85"/>
<g transform="translate(249.79,427.40) scale(0.13600,0.15900)" fill="#303030"><text x="0.00" y="0.00" font-size="100" font-style="italic">q</text><text x="51.00" y="23.00" font-size="70">1</text><text x="90.00" y="0.00" font-size="100">=7e−9</text></g>
<line x1="550.50" y1="315.20" x2="579.40" y2="315.20" stroke="#008000" stroke-width="1.7"/>
<circle cx="565.00" cy="315.20" r="3.1" fill="#008000"/><circle cx="564.00" cy="314.20" r="0.9" fill="#ffffff" opacity="0.85"/>
<g transform="translate(585.40,320.30) scale(0.13400,0.14700)" fill="#303030"><text x="0.00" y="0.00" font-size="100" font-style="italic">q</text><text x="51.00" y="23.00" font-size="70">2</text><text x="90.00" y="0.00" font-size="100">=3. 6</text></g>
<line x1="550.50" y1="336.20" x2="579.40" y2="336.20" stroke="#ff8000" stroke-width="1.7"/>
<circle cx="565.00" cy="336.20" r="3.1" fill="#ff8000"/><circle cx="564.00" cy="335.20" r="0.9" fill="#ffffff" opacity="0.85"/>
<g transform="translate(585.40,341.30) scale(0.13400,0.14700)" fill="#303030"><text x="0.00" y="0.00" font-size="100" font-style="italic">q</text><text x="51.00" y="23.00" font-size="70">2</text><text x="90.00" y="0.00" font-size="100">=3. 7</text></g>
<line x1="550.50" y1="357.20" x2="579.40" y2="357.20" stroke="#00ff00" stroke-width="1.7"/>
<circle cx="565.00" cy="357.20" r="3.1" fill="#00ff00"/><circle cx="564.00" cy="356.20" r="0.9" fill="#ffffff" opacity="0.85"/>
<g transform="translate(585.40,362.30) scale(0.13400,0.14700)" fill="#303030"><text x="0.00" y="0.00" font-size="100" font-style="italic">q</text><text x="51.00" y="23.00" font-size="70">2</text><text x="90.00" y="0.00" font-size="100">=3. 8</text></g>
<line x1="550.50" y1="378.20" x2="579.40" y2="378.20" stroke="#000000" stroke-width="1.7"/>
<circle cx="565.00" cy="378.20" r="3.1" fill="#000000"/><circle cx="564.00" cy="377.20" r="0.9" fill="#ffffff" opacity="0.85"/>
<g transform="translate(585.40,383.30) scale(0.13400,0.14700)" fill="#303030"><text x="0.00" y="0.00" font-size="100" font-style="italic">q</text><text x="51.00" y="23.00" font-size="70">2</text><text x="90.00" y="0.00" font-size="100">=3. 9</text></g>
<line x1="550.50" y1="399.20" x2="579.40" y2="399.20" stroke="#ff00ff" stroke-width="1.7"/>
<circle cx="565.00" cy="399.20" r="3.1" fill="#ff00ff"/><circle cx="564.00" cy="398.20" r="0.9" fill="#ffffff" opacity="0.85"/>
<g transform="translate(585.40,404.30) scale(0.13400,0.14700)" fill="#303030"><text x="0.00" y="0.00" font-size="100" font-style="italic">q</text><text x="51.00" y="23.00" font-size="70">2</text><text x="90.00" y="0.00" font-size="100">=4. 0</text></g>
<line x1="550.50" y1="420.20" x2="579.40" y2="420.20" stroke="#0000ff" stroke-width="1.7"/>
<circle cx="565.00" cy="420.20" r="3.1" fill="#0000ff"/><circle cx="564.00" cy="419.20" r="0.9" fill="#ffffff" opacity="0.85"/>
<g transform="translate(585.40,425.30) scale(0.13400,0.14700)" fill="#303030"><text x="0.00" y="0.00" font-size="100" font-style="italic">q</text><text x="51.00" y="23.00" font-size="70">2</text><text x="90.00" y="0.00" font-size="100">=4. 5</text></g>
<line x1="218.40" y1="688.40" x2="246.10" y2="688.40" stroke="#0000ff" stroke-width="1.7"/>
<circle cx="232.40" cy="688.40" r="3.1" fill="#0000ff"/><circle cx="231.40" cy="687.40" r="0.9" fill="#ffffff" opacity="0.85"/>
<g transform="translate(251.61,693.80) scale(0.13000,0.15200)" fill="#303030"><text x="0.00" y="0.00" font-size="100" font-style="italic">q</text><text x="51.00" y="23.00" font-size="70">1</text><text x="90.00" y="0.00" font-size="100">=5e−11</text></g>
<line x1="218.40" y1="709.48" x2="246.10" y2="709.48" stroke="#ff00ff" stroke-width="1.7"/>
<circle cx="232.40" cy="709.48" r="3.1" fill="#ff00ff"/><circle cx="231.40" cy="708.48" r="0.9" fill="#ffffff" opacity="0.85"/>
<g transform="translate(251.61,714.88) scale(0.13000,0.15200)" fill="#303030"><text x="0.00" y="0.00" font-size="100" font-style="italic">q</text><text x="51.00" y="23.00" font-size="70">1</text><text x="90.00" y="0.00" font-size="100">=5e−10</text></g>
<line x1="218.40" y1="730.56" x2="246.10" y2="730.56" stroke="#008000" stroke-width="1.7"/>
<circle cx="232.40" cy="730.56" r="3.1" fill="#008000"/><circle cx="231.40" cy="729.56" r="0.9" fill="#ffffff" opacity="0.85"/>
<g transform="translate(251.61,735.96) scale(0.13000,0.15200)" fill="#303030"><text x="0.00" y="0.00" font-size="100" font-style="italic">q</text><text x="51.00" y="23.00" font-size="70">1</text><text x="90.00" y="0.00" font-size="100">=1e−9</text></g>
<line x1="218.40" y1="751.64" x2="246.10" y2="751.64" stroke="#ff8000" stroke-width="1.7"/>
<circle cx="232.40" cy="751.64" r="3.1" fill="#ff8000"/><circle cx="231.40" cy="750.64" r="0.9" fill="#ffffff" opacity="0.85"/>
<g transform="translate(251.61,757.04) scale(0.13000,0.15200)" fill="#303030"><text x="0.00" y="0.00" font-size="100" font-style="italic">q</text><text x="51.00" y="23.00" font-size="70">1</text><text x="90.00" y="0.00" font-size="100">=3e−9</text></g>
<line x1="218.40" y1="772.72" x2="246.10" y2="772.72" stroke="#00ff00" stroke-width="1.7"/>
<circle cx="232.40" cy="772.72" r="3.1" fill="#00ff00"/><circle cx="231.40" cy="771.72" r="0.9" fill="#ffffff" opacity="0.85"/>
<g transform="translate(251.61,778.12) scale(0.13000,0.15200)" fill="#303030"><text x="0.00" y="0.00" font-size="100" font-style="italic">q</text><text x="51.00" y="23.00" font-size="70">1</text><text x="90.00" y="0.00" font-size="100">=5e−9</text></g>
<line x1="218.40" y1="793.80" x2="246.10" y2="793.80" stroke="#000000" stroke-width="1.7"/>
<circle cx="232.40" cy="793.80" r="3.1" fill="#000000"/><circle cx="231.40" cy="792.80" r="0.9" fill="#ffffff" opacity="0.85"/>
<g transform="translate(251.61,799.20) scale(0.13000,0.15200)" fill="#303030"><text x="0.00" y="0.00" font-size="100" font-style="italic">q</text><text x="51.00" y="23.00" font-size="70">1</text><text x="90.00" y="0.00" font-size="100">=7e−9</text></g>
<line x1="567.80" y1="687.50" x2="598.00" y2="687.50" stroke="#008000" stroke-width="1.7"/>
<circle cx="582.80" cy="687.50" r="3.1" fill="#008000"/><circle cx="581.80" cy="686.50" r="0.9" fill="#ffffff" opacity="0.85"/>
<g transform="translate(603.99,693.00) scale(0.13800,0.13800)" fill="#303030"><text x="0.00" y="0.00" font-size="100" font-style="italic">q</text><text x="51.00" y="23.00" font-size="70">2</text><text x="90.00" y="0.00" font-size="100">=3. 6</text></g>
<line x1="567.80" y1="707.80" x2="598.00" y2="707.80" stroke="#ff8000" stroke-width="1.7"/>
<circle cx="582.80" cy="707.80" r="3.1" fill="#ff8000"/><circle cx="581.80" cy="706.80" r="0.9" fill="#ffffff" opacity="0.85"/>
<g transform="translate(603.99,713.30) scale(0.13800,0.13800)" fill="#303030"><text x="0.00" y="0.00" font-size="100" font-style="italic">q</text><text x="51.00" y="23.00" font-size="70">2</text><text x="90.00" y="0.00" font-size="100">=3. 7</text></g>
<line x1="567.80" y1="728.10" x2="598.00" y2="728.10" stroke="#00ff00" stroke-width="1.7"/>
<circle cx="582.80" cy="728.10" r="3.1" fill="#00ff00"/><circle cx="581.80" cy="727.10" r="0.9" fill="#ffffff" opacity="0.85"/>
<g transform="translate(603.99,733.60) scale(0.13800,0.13800)" fill="#303030"><text x="0.00" y="0.00" font-size="100" font-style="italic">q</text><text x="51.00" y="23.00" font-size="70">2</text><text x="90.00" y="0.00" font-size="100">=3. 8</text></g>
<line x1="567.80" y1="748.40" x2="598.00" y2="748.40" stroke="#000000" stroke-width="1.7"/>
<circle cx="582.80" cy="748.40" r="3.1" fill="#000000"/><circle cx="581.80" cy="747.40" r="0.9" fill="#ffffff" opacity="0.85"/>
<g transform="translate(603.99,753.90) scale(0.13800,0.13800)" fill="#303030"><text x="0.00" y="0.00" font-size="100" font-style="italic">q</text><text x="51.00" y="23.00" font-size="70">2</text><text x="90.00" y="0.00" font-size="100">=3. 9</text></g>
<line x1="567.80" y1="768.70" x2="598.00" y2="768.70" stroke="#ff00ff" stroke-width="1.7"/>
<circle cx="582.80" cy="768.70" r="3.1" fill="#ff00ff"/><circle cx="581.80" cy="767.70" r="0.9" fill="#ffffff" opacity="0.85"/>
<g transform="translate(603.99,774.20) scale(0.13800,0.13800)" fill="#303030"><text x="0.00" y="0.00" font-size="100" font-style="italic">q</text><text x="51.00" y="23.00" font-size="70">2</text><text x="90.00" y="0.00" font-size="100">=4. 0</text></g>
<line x1="567.80" y1="789.00" x2="598.00" y2="789.00" stroke="#0000ff" stroke-width="1.7"/>
<circle cx="582.80" cy="789.00" r="3.1" fill="#0000ff"/><circle cx="581.80" cy="788.00" r="0.9" fill="#ffffff" opacity="0.85"/>
<g transform="translate(603.99,794.50) scale(0.13800,0.13800)" fill="#303030"><text x="0.00" y="0.00" font-size="100" font-style="italic">q</text><text x="51.00" y="23.00" font-size="70">2</text><text x="90.00" y="0.00" font-size="100">=4. 5</text></g>
<g transform="translate(51.80,270.33) scale(0.17618,0.18444)" fill="#111"><text x="0.00" y="0.00" font-size="100">(a)subsidence curve(</text><text x="830.16" y="0.00" font-size="100" font-style="italic">q</text><text x="881.16" y="18.00" font-size="65">2</text><text x="914.66" y="0.00" font-size="100">=4.0)</text></g>
<g transform="translate(398.50,270.27) scale(0.17575,0.18222)" fill="#111"><text x="0.00" y="0.00" font-size="100">(b)subsidence curve(</text><text x="835.77" y="0.00" font-size="100" font-style="italic">q</text><text x="886.77" y="18.00" font-size="65">1</text><text x="920.27" y="0.00" font-size="100">=5e-10)</text></g>
<g transform="translate(52.00,556.63) scale(0.17480,0.17582)" fill="#111"><text x="0.00" y="0.00" font-size="100">(c)subsidence velocity curve(</text><text x="1177.28" y="0.00" font-size="100" font-style="italic">q</text><text x="1228.28" y="18.00" font-size="65">2</text><text x="1261.78" y="0.00" font-size="100">=4.0)</text></g>
<g transform="translate(389.40,556.63) scale(0.17570,0.17582)" fill="#111"><text x="0.00" y="0.00" font-size="100">(d)subsidence velocity curve(</text><text x="1182.89" y="0.00" font-size="100" font-style="italic">q</text><text x="1233.89" y="18.00" font-size="65">1</text><text x="1267.39" y="0.00" font-size="100">=5e-10)</text></g>
<g transform="translate(52.00,869.15) scale(0.17520,0.18333)" fill="#111"><text x="0.00" y="0.00" font-size="100">(e)subsidence acceleration curve(</text><text x="1338.14" y="0.00" font-size="100" font-style="italic">q</text><text x="1389.14" y="18.00" font-size="65">2</text><text x="1422.64" y="0.00" font-size="100">=4.0)</text></g>
<g transform="translate(382.50,869.19) scale(0.17623,0.18132)" fill="#111"><text x="0.00" y="0.00" font-size="100">(f)subsidence acceleration curve(</text><text x="1327.05" y="0.00" font-size="100" font-style="italic">q</text><text x="1378.05" y="18.00" font-size="65">1</text><text x="1411.55" y="0.00" font-size="100">=5e-10)</text></g>
<rect x="579.6" y="486.1" width="31.8" height="8.2" fill="#fbfbe3" stroke="#b0b0a0" stroke-width="0.6"/>
<text x="580.6" y="492.6" font-size="6" font-family="Liberation Sans" fill="#222" stroke="#222" stroke-width="0.15" textLength="29.4" lengthAdjust="spacingAndGlyphs">截图(Alt + A)</text>
</svg>
</body></html>
